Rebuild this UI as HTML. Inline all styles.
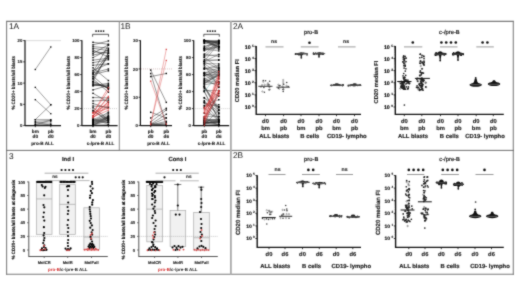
<!DOCTYPE html>
<html><head><meta charset="utf-8"><style>
html,body{margin:0;padding:0;background:#fff;}
svg{display:block;font-family:"Liberation Sans",sans-serif;will-change:transform;text-rendering:geometricPrecision;}
</style></head><body>
<svg width="520" height="292" viewBox="0 0 520 292">
<defs><filter id="bl" x="0" y="0" width="520" height="292" filterUnits="userSpaceOnUse" color-interpolation-filters="sRGB"><feConvolveMatrix order="3" kernelMatrix="0.03 0.09 0.03 0.09 0.52 0.09 0.03 0.09 0.03" divisor="1" edgeMode="duplicate"/></filter></defs>
<rect width="520" height="292" fill="#fff"/>
<g filter="url(#bl)">
<rect width="520" height="292" fill="#fff"/>
<line x1="6" y1="21.4" x2="514" y2="21.4" stroke="#7a7a7a" stroke-width="1.1"/>
<line x1="6" y1="274.2" x2="514" y2="274.2" stroke="#7a7a7a" stroke-width="1.1"/>
<line x1="6.6" y1="21" x2="6.6" y2="274.8" stroke="#808080" stroke-width="1.1"/>
<line x1="513.3" y1="21" x2="513.3" y2="274.8" stroke="#808080" stroke-width="1.1"/>
<line x1="6" y1="150.4" x2="514" y2="150.4" stroke="#707070" stroke-width="1"/>
<line x1="119.3" y1="21" x2="119.3" y2="150.4" stroke="#8a8a8a" stroke-width="1"/>
<line x1="230.9" y1="21" x2="230.9" y2="274.8" stroke="#aaa" stroke-width="1.8"/>
<text x="9" y="28.8" font-size="8.3" text-anchor="start" font-weight="normal" fill="#111">1A</text>
<text x="120.4" y="28.8" font-size="8.3" text-anchor="start" font-weight="normal" fill="#111">1B</text>
<text x="233" y="28.8" font-size="8.3" text-anchor="start" font-weight="normal" fill="#111">2A</text>
<text x="9" y="158.7" font-size="8.3" text-anchor="start" font-weight="normal" fill="#111">3</text>
<text x="233" y="158" font-size="8.3" text-anchor="start" font-weight="normal" fill="#111">2B</text>
<line x1="25.5" y1="40.6" x2="61" y2="40.6" stroke="#999" stroke-width="0.7" stroke-dasharray="1,1"/>
<line x1="25" y1="40.3" x2="25" y2="126.1" stroke="#111" stroke-width="1.2"/>
<line x1="23.2" y1="125.6" x2="25" y2="125.6" stroke="#111" stroke-width="0.8"/>
<text x="22.4" y="127.2" font-size="4.3" text-anchor="end" font-weight="bold" fill="#222" stroke="#222" stroke-width="0.11">0</text>
<line x1="23.2" y1="104.35" x2="25" y2="104.35" stroke="#111" stroke-width="0.8"/>
<text x="22.4" y="105.95" font-size="4.3" text-anchor="end" font-weight="bold" fill="#222" stroke="#222" stroke-width="0.11">5</text>
<line x1="23.2" y1="83.1" x2="25" y2="83.1" stroke="#111" stroke-width="0.8"/>
<text x="22.4" y="84.7" font-size="4.3" text-anchor="end" font-weight="bold" fill="#222" stroke="#222" stroke-width="0.11">10</text>
<line x1="23.2" y1="61.85" x2="25" y2="61.85" stroke="#111" stroke-width="0.8"/>
<text x="22.4" y="63.45" font-size="4.3" text-anchor="end" font-weight="bold" fill="#222" stroke="#222" stroke-width="0.11">15</text>
<line x1="23.2" y1="40.6" x2="25" y2="40.6" stroke="#111" stroke-width="0.8"/>
<text x="22.4" y="42.2" font-size="4.3" text-anchor="end" font-weight="bold" fill="#222" stroke="#222" stroke-width="0.11">20</text>
<line x1="25" y1="125.6" x2="61" y2="125.6" stroke="#111" stroke-width="1.2"/>
<line x1="35.3" y1="125.6" x2="35.3" y2="127.2" stroke="#111" stroke-width="0.8"/>
<line x1="50.8" y1="125.6" x2="50.8" y2="127.2" stroke="#111" stroke-width="0.8"/>
<line x1="35.3" y1="69.5" x2="50.8" y2="46.97" stroke="#444" stroke-width="0.5"/>
<line x1="35.3" y1="87.35" x2="50.8" y2="104.77" stroke="#444" stroke-width="0.5"/>
<line x1="35.3" y1="99.67" x2="50.8" y2="113.7" stroke="#444" stroke-width="0.5"/>
<line x1="35.3" y1="119.65" x2="50.8" y2="104.77" stroke="#444" stroke-width="0.5"/>
<line x1="35.3" y1="119.65" x2="50.8" y2="119.65" stroke="#444" stroke-width="0.5"/>
<line x1="35.3" y1="121.35" x2="50.8" y2="120.5" stroke="#444" stroke-width="0.5"/>
<line x1="35.3" y1="123.05" x2="50.8" y2="121.77" stroke="#444" stroke-width="0.5"/>
<line x1="35.3" y1="124.32" x2="50.8" y2="123.9" stroke="#444" stroke-width="0.5"/>
<line x1="35.3" y1="125.17" x2="50.8" y2="124.75" stroke="#444" stroke-width="0.5"/>
<line x1="35.3" y1="122.2" x2="50.8" y2="125.17" stroke="#444" stroke-width="0.5"/>
<line x1="35.3" y1="124.75" x2="50.8" y2="120.07" stroke="#444" stroke-width="0.5"/>
<rect x="34.65" y="68.85" width="1.3" height="1.3" fill="#000"/>
<rect x="50.15" y="46.32" width="1.3" height="1.3" fill="#000"/>
<rect x="34.65" y="86.7" width="1.3" height="1.3" fill="#000"/>
<rect x="50.15" y="104.12" width="1.3" height="1.3" fill="#000"/>
<rect x="34.65" y="99.02" width="1.3" height="1.3" fill="#000"/>
<rect x="50.15" y="113.05" width="1.3" height="1.3" fill="#000"/>
<rect x="34.65" y="119" width="1.3" height="1.3" fill="#000"/>
<rect x="50.15" y="104.12" width="1.3" height="1.3" fill="#000"/>
<rect x="34.65" y="119" width="1.3" height="1.3" fill="#000"/>
<rect x="50.15" y="119" width="1.3" height="1.3" fill="#000"/>
<rect x="34.65" y="120.7" width="1.3" height="1.3" fill="#000"/>
<rect x="50.15" y="119.85" width="1.3" height="1.3" fill="#000"/>
<rect x="34.65" y="122.4" width="1.3" height="1.3" fill="#000"/>
<rect x="50.15" y="121.12" width="1.3" height="1.3" fill="#000"/>
<rect x="34.65" y="123.67" width="1.3" height="1.3" fill="#000"/>
<rect x="50.15" y="123.25" width="1.3" height="1.3" fill="#000"/>
<rect x="34.65" y="124.52" width="1.3" height="1.3" fill="#000"/>
<rect x="50.15" y="124.1" width="1.3" height="1.3" fill="#000"/>
<rect x="34.65" y="121.55" width="1.3" height="1.3" fill="#000"/>
<rect x="50.15" y="124.52" width="1.3" height="1.3" fill="#000"/>
<rect x="34.65" y="124.1" width="1.3" height="1.3" fill="#000"/>
<rect x="50.15" y="119.42" width="1.3" height="1.3" fill="#000"/>
<text x="35.3" y="133.4" font-size="4.7" text-anchor="middle" font-weight="bold" fill="#1a1a1a" stroke="#1a1a1a" stroke-width="0.12">bm</text>
<text x="35.3" y="138.1" font-size="4.7" text-anchor="middle" font-weight="bold" fill="#1a1a1a" stroke="#1a1a1a" stroke-width="0.12">d0</text>
<text x="50.8" y="133.4" font-size="4.7" text-anchor="middle" font-weight="bold" fill="#1a1a1a" stroke="#1a1a1a" stroke-width="0.12">pb</text>
<text x="50.8" y="138.1" font-size="4.7" text-anchor="middle" font-weight="bold" fill="#1a1a1a" stroke="#1a1a1a" stroke-width="0.12">d0</text>
<text x="42.5" y="144.9" font-size="4.65" text-anchor="middle" font-weight="bold" fill="#1a1a1a" stroke="#1a1a1a" stroke-width="0.12">pro-B ALL</text>
<text x="15.1" y="82.8" font-size="4.8" text-anchor="middle" font-weight="bold" fill="#111" transform="rotate(-90 15.1 82.8)" textLength="53.6" lengthAdjust="spacingAndGlyphs" stroke="#111" stroke-width="0.12">% CD20+ blasts/all blasts</text>
<line x1="82" y1="108.6" x2="118" y2="108.6" stroke="#bbb" stroke-width="0.7" stroke-dasharray="1,1"/>
<line x1="81.9" y1="40.3" x2="81.9" y2="126.1" stroke="#111" stroke-width="1.2"/>
<line x1="80.1" y1="125.6" x2="81.9" y2="125.6" stroke="#111" stroke-width="0.8"/>
<text x="79.3" y="127.2" font-size="4.3" text-anchor="end" font-weight="bold" fill="#222" stroke="#222" stroke-width="0.11">0</text>
<line x1="80.1" y1="108.6" x2="81.9" y2="108.6" stroke="#111" stroke-width="0.8"/>
<text x="79.3" y="110.2" font-size="4.3" text-anchor="end" font-weight="bold" fill="#222" stroke="#222" stroke-width="0.11">20</text>
<line x1="80.1" y1="91.6" x2="81.9" y2="91.6" stroke="#111" stroke-width="0.8"/>
<text x="79.3" y="93.2" font-size="4.3" text-anchor="end" font-weight="bold" fill="#222" stroke="#222" stroke-width="0.11">40</text>
<line x1="80.1" y1="74.6" x2="81.9" y2="74.6" stroke="#111" stroke-width="0.8"/>
<text x="79.3" y="76.2" font-size="4.3" text-anchor="end" font-weight="bold" fill="#222" stroke="#222" stroke-width="0.11">60</text>
<line x1="80.1" y1="57.6" x2="81.9" y2="57.6" stroke="#111" stroke-width="0.8"/>
<text x="79.3" y="59.2" font-size="4.3" text-anchor="end" font-weight="bold" fill="#222" stroke="#222" stroke-width="0.11">80</text>
<line x1="80.1" y1="40.6" x2="81.9" y2="40.6" stroke="#111" stroke-width="0.8"/>
<text x="79.3" y="42.2" font-size="4.3" text-anchor="end" font-weight="bold" fill="#222" stroke="#222" stroke-width="0.11">100</text>
<line x1="81.8" y1="125.6" x2="117.6" y2="125.6" stroke="#111" stroke-width="1.2"/>
<line x1="93" y1="125.6" x2="93" y2="127.2" stroke="#111" stroke-width="0.8"/>
<line x1="108.4" y1="125.6" x2="108.4" y2="127.2" stroke="#111" stroke-width="0.8"/>
<line x1="93" y1="121.14" x2="108.4" y2="120.69" stroke="#555" stroke-width="0.45"/>
<line x1="93" y1="124.09" x2="108.4" y2="118.44" stroke="#555" stroke-width="0.45"/>
<line x1="93" y1="123.07" x2="108.4" y2="122.4" stroke="#555" stroke-width="0.45"/>
<line x1="93" y1="120.06" x2="108.4" y2="116.75" stroke="#555" stroke-width="0.45"/>
<line x1="93" y1="124.54" x2="108.4" y2="118.61" stroke="#555" stroke-width="0.45"/>
<line x1="93" y1="122.49" x2="108.4" y2="114.01" stroke="#555" stroke-width="0.45"/>
<line x1="93" y1="120.68" x2="108.4" y2="122.55" stroke="#555" stroke-width="0.45"/>
<line x1="93" y1="118.16" x2="108.4" y2="124.55" stroke="#555" stroke-width="0.45"/>
<line x1="93" y1="123.34" x2="108.4" y2="115.86" stroke="#555" stroke-width="0.45"/>
<line x1="93" y1="125.05" x2="108.4" y2="119.84" stroke="#555" stroke-width="0.45"/>
<line x1="93" y1="125.52" x2="108.4" y2="117.22" stroke="#555" stroke-width="0.45"/>
<line x1="93" y1="120.35" x2="108.4" y2="118.63" stroke="#555" stroke-width="0.45"/>
<line x1="93" y1="119.25" x2="108.4" y2="122.22" stroke="#555" stroke-width="0.45"/>
<line x1="93" y1="121" x2="108.4" y2="118.32" stroke="#555" stroke-width="0.45"/>
<line x1="93" y1="122.03" x2="108.4" y2="120.3" stroke="#555" stroke-width="0.45"/>
<line x1="93" y1="119.61" x2="108.4" y2="112.9" stroke="#555" stroke-width="0.45"/>
<line x1="93" y1="122.91" x2="108.4" y2="117.28" stroke="#555" stroke-width="0.45"/>
<line x1="93" y1="125.45" x2="108.4" y2="116.71" stroke="#555" stroke-width="0.45"/>
<line x1="93" y1="121.44" x2="108.4" y2="112.11" stroke="#555" stroke-width="0.45"/>
<line x1="93" y1="119.79" x2="108.4" y2="122.59" stroke="#555" stroke-width="0.45"/>
<line x1="93" y1="123.58" x2="108.4" y2="117.21" stroke="#555" stroke-width="0.45"/>
<line x1="93" y1="125.56" x2="108.4" y2="120.22" stroke="#555" stroke-width="0.45"/>
<line x1="93" y1="124.97" x2="108.4" y2="124.56" stroke="#555" stroke-width="0.45"/>
<line x1="93" y1="125.45" x2="108.4" y2="115.69" stroke="#555" stroke-width="0.45"/>
<rect x="92.3" y="120.44" width="1.4" height="1.4" fill="#000"/>
<rect x="107.7" y="119.99" width="1.4" height="1.4" fill="#000"/>
<rect x="92.3" y="123.39" width="1.4" height="1.4" fill="#000"/>
<rect x="107.7" y="117.74" width="1.4" height="1.4" fill="#000"/>
<rect x="92.3" y="122.37" width="1.4" height="1.4" fill="#000"/>
<rect x="107.7" y="121.7" width="1.4" height="1.4" fill="#000"/>
<rect x="92.3" y="119.36" width="1.4" height="1.4" fill="#000"/>
<rect x="107.7" y="116.05" width="1.4" height="1.4" fill="#000"/>
<rect x="92.3" y="123.84" width="1.4" height="1.4" fill="#000"/>
<rect x="107.7" y="117.91" width="1.4" height="1.4" fill="#000"/>
<rect x="92.3" y="121.79" width="1.4" height="1.4" fill="#000"/>
<rect x="107.7" y="113.31" width="1.4" height="1.4" fill="#000"/>
<rect x="92.3" y="119.98" width="1.4" height="1.4" fill="#000"/>
<rect x="107.7" y="121.85" width="1.4" height="1.4" fill="#000"/>
<rect x="92.3" y="117.46" width="1.4" height="1.4" fill="#000"/>
<rect x="107.7" y="123.85" width="1.4" height="1.4" fill="#000"/>
<rect x="92.3" y="122.64" width="1.4" height="1.4" fill="#000"/>
<rect x="107.7" y="115.16" width="1.4" height="1.4" fill="#000"/>
<rect x="92.3" y="124.35" width="1.4" height="1.4" fill="#000"/>
<rect x="107.7" y="119.14" width="1.4" height="1.4" fill="#000"/>
<rect x="92.3" y="124.82" width="1.4" height="1.4" fill="#000"/>
<rect x="107.7" y="116.52" width="1.4" height="1.4" fill="#000"/>
<rect x="92.3" y="119.65" width="1.4" height="1.4" fill="#000"/>
<rect x="107.7" y="117.93" width="1.4" height="1.4" fill="#000"/>
<rect x="92.3" y="118.55" width="1.4" height="1.4" fill="#000"/>
<rect x="107.7" y="121.52" width="1.4" height="1.4" fill="#000"/>
<rect x="92.3" y="120.3" width="1.4" height="1.4" fill="#000"/>
<rect x="107.7" y="117.62" width="1.4" height="1.4" fill="#000"/>
<rect x="92.3" y="121.33" width="1.4" height="1.4" fill="#000"/>
<rect x="107.7" y="119.6" width="1.4" height="1.4" fill="#000"/>
<rect x="92.3" y="118.91" width="1.4" height="1.4" fill="#000"/>
<rect x="107.7" y="112.2" width="1.4" height="1.4" fill="#000"/>
<rect x="92.3" y="122.21" width="1.4" height="1.4" fill="#000"/>
<rect x="107.7" y="116.58" width="1.4" height="1.4" fill="#000"/>
<rect x="92.3" y="124.75" width="1.4" height="1.4" fill="#000"/>
<rect x="107.7" y="116.01" width="1.4" height="1.4" fill="#000"/>
<rect x="92.3" y="120.74" width="1.4" height="1.4" fill="#000"/>
<rect x="107.7" y="111.41" width="1.4" height="1.4" fill="#000"/>
<rect x="92.3" y="119.09" width="1.4" height="1.4" fill="#000"/>
<rect x="107.7" y="121.89" width="1.4" height="1.4" fill="#000"/>
<rect x="92.3" y="122.88" width="1.4" height="1.4" fill="#000"/>
<rect x="107.7" y="116.51" width="1.4" height="1.4" fill="#000"/>
<rect x="92.3" y="124.86" width="1.4" height="1.4" fill="#000"/>
<rect x="107.7" y="119.52" width="1.4" height="1.4" fill="#000"/>
<rect x="92.3" y="124.27" width="1.4" height="1.4" fill="#000"/>
<rect x="107.7" y="123.86" width="1.4" height="1.4" fill="#000"/>
<rect x="92.3" y="124.75" width="1.4" height="1.4" fill="#000"/>
<rect x="107.7" y="114.99" width="1.4" height="1.4" fill="#000"/>
<line x1="93" y1="42.3" x2="108.4" y2="44.26" stroke="#222" stroke-width="0.5"/>
<line x1="93" y1="44.85" x2="108.4" y2="40.94" stroke="#222" stroke-width="0.5"/>
<line x1="93" y1="46.55" x2="108.4" y2="48.28" stroke="#222" stroke-width="0.5"/>
<line x1="93" y1="48.25" x2="108.4" y2="50.66" stroke="#222" stroke-width="0.5"/>
<line x1="93" y1="49.95" x2="108.4" y2="57.06" stroke="#222" stroke-width="0.5"/>
<line x1="93" y1="51.65" x2="108.4" y2="53.28" stroke="#222" stroke-width="0.5"/>
<line x1="93" y1="53.35" x2="108.4" y2="44.84" stroke="#222" stroke-width="0.5"/>
<line x1="93" y1="55.05" x2="108.4" y2="51.81" stroke="#222" stroke-width="0.5"/>
<line x1="93" y1="57.6" x2="108.4" y2="49.67" stroke="#222" stroke-width="0.5"/>
<line x1="93" y1="60.15" x2="108.4" y2="58.25" stroke="#222" stroke-width="0.5"/>
<line x1="93" y1="62.7" x2="108.4" y2="59.68" stroke="#222" stroke-width="0.5"/>
<line x1="93" y1="65.25" x2="108.4" y2="63.83" stroke="#222" stroke-width="0.5"/>
<line x1="93" y1="67.8" x2="108.4" y2="80.55" stroke="#222" stroke-width="0.5"/>
<line x1="93" y1="70.35" x2="108.4" y2="63.81" stroke="#222" stroke-width="0.5"/>
<line x1="93" y1="72.9" x2="108.4" y2="69.03" stroke="#222" stroke-width="0.5"/>
<line x1="93" y1="74.6" x2="108.4" y2="70.78" stroke="#222" stroke-width="0.5"/>
<line x1="93" y1="76.3" x2="108.4" y2="89.24" stroke="#222" stroke-width="0.5"/>
<line x1="93" y1="78.85" x2="108.4" y2="92.19" stroke="#222" stroke-width="0.5"/>
<line x1="93" y1="81.4" x2="108.4" y2="88.21" stroke="#222" stroke-width="0.5"/>
<line x1="93" y1="83.95" x2="108.4" y2="87.53" stroke="#222" stroke-width="0.5"/>
<line x1="93" y1="85.65" x2="108.4" y2="83.31" stroke="#222" stroke-width="0.5"/>
<line x1="93" y1="72.05" x2="108.4" y2="45.2" stroke="#222" stroke-width="0.5"/>
<line x1="93" y1="73.75" x2="108.4" y2="53.42" stroke="#222" stroke-width="0.5"/>
<line x1="93" y1="77.15" x2="108.4" y2="55.52" stroke="#222" stroke-width="0.5"/>
<line x1="93" y1="78.85" x2="108.4" y2="55.9" stroke="#222" stroke-width="0.5"/>
<line x1="93" y1="81.4" x2="108.4" y2="53.14" stroke="#222" stroke-width="0.5"/>
<line x1="93" y1="89.9" x2="108.4" y2="85.31" stroke="#222" stroke-width="0.5"/>
<line x1="93" y1="93.3" x2="108.4" y2="102.21" stroke="#222" stroke-width="0.5"/>
<line x1="93" y1="97.55" x2="108.4" y2="97.94" stroke="#222" stroke-width="0.5"/>
<line x1="93" y1="100.95" x2="108.4" y2="100.12" stroke="#222" stroke-width="0.5"/>
<line x1="93" y1="103.5" x2="108.4" y2="108.34" stroke="#222" stroke-width="0.5"/>
<line x1="93" y1="106.05" x2="108.4" y2="107.16" stroke="#222" stroke-width="0.5"/>
<line x1="93" y1="107.75" x2="108.4" y2="119.17" stroke="#222" stroke-width="0.5"/>
<line x1="93" y1="110.3" x2="108.4" y2="121.78" stroke="#222" stroke-width="0.5"/>
<line x1="93" y1="111.15" x2="108.4" y2="119.52" stroke="#222" stroke-width="0.5"/>
<line x1="93" y1="85.7" x2="108.4" y2="84.8" stroke="#222" stroke-width="0.5"/>
<line x1="93" y1="84.19" x2="108.4" y2="86.5" stroke="#222" stroke-width="0.5"/>
<line x1="93" y1="82.37" x2="108.4" y2="88.2" stroke="#222" stroke-width="0.5"/>
<rect x="92.28" y="41.57" width="1.45" height="1.45" fill="#000"/>
<rect x="107.68" y="43.53" width="1.45" height="1.45" fill="#000"/>
<rect x="92.28" y="44.12" width="1.45" height="1.45" fill="#000"/>
<rect x="107.68" y="40.21" width="1.45" height="1.45" fill="#000"/>
<rect x="92.28" y="45.82" width="1.45" height="1.45" fill="#000"/>
<rect x="107.68" y="47.55" width="1.45" height="1.45" fill="#000"/>
<rect x="92.28" y="47.52" width="1.45" height="1.45" fill="#000"/>
<rect x="107.68" y="49.94" width="1.45" height="1.45" fill="#000"/>
<rect x="92.28" y="49.22" width="1.45" height="1.45" fill="#000"/>
<rect x="107.68" y="56.34" width="1.45" height="1.45" fill="#000"/>
<rect x="92.28" y="50.92" width="1.45" height="1.45" fill="#000"/>
<rect x="107.68" y="52.56" width="1.45" height="1.45" fill="#000"/>
<rect x="92.28" y="52.62" width="1.45" height="1.45" fill="#000"/>
<rect x="107.68" y="44.12" width="1.45" height="1.45" fill="#000"/>
<rect x="92.28" y="54.32" width="1.45" height="1.45" fill="#000"/>
<rect x="107.68" y="51.08" width="1.45" height="1.45" fill="#000"/>
<rect x="92.28" y="56.87" width="1.45" height="1.45" fill="#000"/>
<rect x="107.68" y="48.94" width="1.45" height="1.45" fill="#000"/>
<rect x="92.28" y="59.42" width="1.45" height="1.45" fill="#000"/>
<rect x="107.68" y="57.52" width="1.45" height="1.45" fill="#000"/>
<rect x="92.28" y="61.97" width="1.45" height="1.45" fill="#000"/>
<rect x="107.68" y="58.96" width="1.45" height="1.45" fill="#000"/>
<rect x="92.28" y="64.53" width="1.45" height="1.45" fill="#000"/>
<rect x="107.68" y="63.11" width="1.45" height="1.45" fill="#000"/>
<rect x="92.28" y="67.08" width="1.45" height="1.45" fill="#000"/>
<rect x="107.68" y="79.82" width="1.45" height="1.45" fill="#000"/>
<rect x="92.28" y="69.62" width="1.45" height="1.45" fill="#000"/>
<rect x="107.68" y="63.08" width="1.45" height="1.45" fill="#000"/>
<rect x="92.28" y="72.17" width="1.45" height="1.45" fill="#000"/>
<rect x="107.68" y="68.3" width="1.45" height="1.45" fill="#000"/>
<rect x="92.28" y="73.88" width="1.45" height="1.45" fill="#000"/>
<rect x="107.68" y="70.06" width="1.45" height="1.45" fill="#000"/>
<rect x="92.28" y="75.58" width="1.45" height="1.45" fill="#000"/>
<rect x="107.68" y="88.51" width="1.45" height="1.45" fill="#000"/>
<rect x="92.28" y="78.12" width="1.45" height="1.45" fill="#000"/>
<rect x="107.68" y="91.47" width="1.45" height="1.45" fill="#000"/>
<rect x="92.28" y="80.67" width="1.45" height="1.45" fill="#000"/>
<rect x="107.68" y="87.48" width="1.45" height="1.45" fill="#000"/>
<rect x="92.28" y="83.22" width="1.45" height="1.45" fill="#000"/>
<rect x="107.68" y="86.81" width="1.45" height="1.45" fill="#000"/>
<rect x="92.28" y="84.92" width="1.45" height="1.45" fill="#000"/>
<rect x="107.68" y="82.59" width="1.45" height="1.45" fill="#000"/>
<rect x="92.28" y="71.33" width="1.45" height="1.45" fill="#000"/>
<rect x="107.68" y="44.47" width="1.45" height="1.45" fill="#000"/>
<rect x="92.28" y="73.03" width="1.45" height="1.45" fill="#000"/>
<rect x="107.68" y="52.69" width="1.45" height="1.45" fill="#000"/>
<rect x="92.28" y="76.42" width="1.45" height="1.45" fill="#000"/>
<rect x="107.68" y="54.79" width="1.45" height="1.45" fill="#000"/>
<rect x="92.28" y="78.12" width="1.45" height="1.45" fill="#000"/>
<rect x="107.68" y="55.17" width="1.45" height="1.45" fill="#000"/>
<rect x="92.28" y="80.67" width="1.45" height="1.45" fill="#000"/>
<rect x="107.68" y="52.42" width="1.45" height="1.45" fill="#000"/>
<rect x="92.28" y="89.17" width="1.45" height="1.45" fill="#000"/>
<rect x="107.68" y="84.58" width="1.45" height="1.45" fill="#000"/>
<rect x="92.28" y="92.58" width="1.45" height="1.45" fill="#000"/>
<rect x="107.68" y="101.48" width="1.45" height="1.45" fill="#000"/>
<rect x="92.28" y="96.83" width="1.45" height="1.45" fill="#000"/>
<rect x="107.68" y="97.22" width="1.45" height="1.45" fill="#000"/>
<rect x="92.28" y="100.22" width="1.45" height="1.45" fill="#000"/>
<rect x="107.68" y="99.4" width="1.45" height="1.45" fill="#000"/>
<rect x="92.28" y="102.78" width="1.45" height="1.45" fill="#000"/>
<rect x="107.68" y="107.61" width="1.45" height="1.45" fill="#000"/>
<rect x="92.28" y="105.33" width="1.45" height="1.45" fill="#000"/>
<rect x="107.68" y="106.44" width="1.45" height="1.45" fill="#000"/>
<rect x="92.28" y="107.03" width="1.45" height="1.45" fill="#000"/>
<rect x="107.68" y="118.44" width="1.45" height="1.45" fill="#000"/>
<rect x="92.28" y="109.58" width="1.45" height="1.45" fill="#000"/>
<rect x="107.68" y="121.06" width="1.45" height="1.45" fill="#000"/>
<rect x="92.28" y="110.42" width="1.45" height="1.45" fill="#000"/>
<rect x="107.68" y="118.8" width="1.45" height="1.45" fill="#000"/>
<rect x="92.28" y="84.98" width="1.45" height="1.45" fill="#000"/>
<rect x="107.68" y="84.08" width="1.45" height="1.45" fill="#000"/>
<rect x="92.28" y="83.47" width="1.45" height="1.45" fill="#000"/>
<rect x="107.68" y="85.78" width="1.45" height="1.45" fill="#000"/>
<rect x="92.28" y="81.64" width="1.45" height="1.45" fill="#000"/>
<rect x="107.68" y="87.47" width="1.45" height="1.45" fill="#000"/>
<line x1="93" y1="112.87" x2="108.4" y2="108.38" stroke="#d83030" stroke-width="0.45"/>
<line x1="93" y1="115.75" x2="108.4" y2="97.22" stroke="#d83030" stroke-width="0.45"/>
<line x1="93" y1="112.79" x2="108.4" y2="90.8" stroke="#d83030" stroke-width="0.45"/>
<line x1="93" y1="112.92" x2="108.4" y2="103.67" stroke="#d83030" stroke-width="0.45"/>
<line x1="93" y1="115.98" x2="108.4" y2="101.76" stroke="#d83030" stroke-width="0.45"/>
<line x1="93" y1="112.79" x2="108.4" y2="87.51" stroke="#d83030" stroke-width="0.45"/>
<line x1="93" y1="117.77" x2="108.4" y2="106.11" stroke="#d83030" stroke-width="0.45"/>
<line x1="93" y1="117.22" x2="108.4" y2="104.75" stroke="#d83030" stroke-width="0.45"/>
<line x1="93" y1="115.5" x2="108.4" y2="96.28" stroke="#d83030" stroke-width="0.45"/>
<line x1="93" y1="117.01" x2="108.4" y2="110.2" stroke="#d83030" stroke-width="0.45"/>
<line x1="93" y1="115.95" x2="108.4" y2="101.51" stroke="#d83030" stroke-width="0.45"/>
<rect x="92.4" y="112.27" width="1.2" height="1.2" fill="#c83030"/>
<rect x="107.8" y="107.78" width="1.2" height="1.2" fill="#d04040"/>
<rect x="92.4" y="115.15" width="1.2" height="1.2" fill="#c83030"/>
<rect x="107.8" y="96.62" width="1.2" height="1.2" fill="#d04040"/>
<rect x="92.4" y="112.19" width="1.2" height="1.2" fill="#c83030"/>
<rect x="107.8" y="90.2" width="1.2" height="1.2" fill="#d04040"/>
<rect x="92.4" y="112.32" width="1.2" height="1.2" fill="#c83030"/>
<rect x="107.8" y="103.07" width="1.2" height="1.2" fill="#d04040"/>
<rect x="92.4" y="115.38" width="1.2" height="1.2" fill="#c83030"/>
<rect x="107.8" y="101.16" width="1.2" height="1.2" fill="#d04040"/>
<rect x="92.4" y="112.19" width="1.2" height="1.2" fill="#c83030"/>
<rect x="107.8" y="86.91" width="1.2" height="1.2" fill="#d04040"/>
<rect x="92.4" y="117.17" width="1.2" height="1.2" fill="#c83030"/>
<rect x="107.8" y="105.51" width="1.2" height="1.2" fill="#d04040"/>
<rect x="92.4" y="116.62" width="1.2" height="1.2" fill="#c83030"/>
<rect x="107.8" y="104.15" width="1.2" height="1.2" fill="#d04040"/>
<rect x="92.4" y="114.9" width="1.2" height="1.2" fill="#c83030"/>
<rect x="107.8" y="95.68" width="1.2" height="1.2" fill="#d04040"/>
<rect x="92.4" y="116.41" width="1.2" height="1.2" fill="#c83030"/>
<rect x="107.8" y="109.6" width="1.2" height="1.2" fill="#d04040"/>
<rect x="92.4" y="115.35" width="1.2" height="1.2" fill="#c83030"/>
<rect x="107.8" y="100.91" width="1.2" height="1.2" fill="#d04040"/>
<path d="M92.6 36.7 V34.3 H108.5 V36.7" stroke="#222" stroke-width="0.75" fill="none"/>
<circle cx="96.05" cy="31.1" r="0.9" fill="#111"/>
<circle cx="98.55" cy="31.1" r="0.9" fill="#111"/>
<circle cx="101.05" cy="31.1" r="0.9" fill="#111"/>
<circle cx="103.55" cy="31.1" r="0.9" fill="#111"/>
<text x="93" y="133.4" font-size="4.7" text-anchor="middle" font-weight="bold" fill="#1a1a1a" stroke="#1a1a1a" stroke-width="0.12">bm</text>
<text x="93" y="138.1" font-size="4.7" text-anchor="middle" font-weight="bold" fill="#1a1a1a" stroke="#1a1a1a" stroke-width="0.12">d0</text>
<text x="108.4" y="133.4" font-size="4.7" text-anchor="middle" font-weight="bold" fill="#1a1a1a" stroke="#1a1a1a" stroke-width="0.12">pb</text>
<text x="108.4" y="138.1" font-size="4.7" text-anchor="middle" font-weight="bold" fill="#1a1a1a" stroke="#1a1a1a" stroke-width="0.12">d0</text>
<text x="100.5" y="144.9" font-size="4.65" text-anchor="middle" font-weight="bold" fill="#1a1a1a" stroke="#1a1a1a" stroke-width="0.12">c-/pre-B ALL</text>
<text x="69.9" y="82.8" font-size="4.8" text-anchor="middle" font-weight="bold" fill="#111" transform="rotate(-90 69.9 82.8)" textLength="53.6" lengthAdjust="spacingAndGlyphs" stroke="#111" stroke-width="0.12">% CD20+ blasts/all blasts</text>
<line x1="141" y1="68.93" x2="172" y2="68.93" stroke="#c9a9a9" stroke-width="0.7" stroke-dasharray="1,1"/>
<line x1="140.4" y1="40.3" x2="140.4" y2="126.1" stroke="#111" stroke-width="1.2"/>
<line x1="138.6" y1="125.6" x2="140.4" y2="125.6" stroke="#111" stroke-width="0.8"/>
<text x="137.8" y="127.2" font-size="4.3" text-anchor="end" font-weight="bold" fill="#222" stroke="#222" stroke-width="0.11">0</text>
<line x1="138.6" y1="97.27" x2="140.4" y2="97.27" stroke="#111" stroke-width="0.8"/>
<text x="137.8" y="98.87" font-size="4.3" text-anchor="end" font-weight="bold" fill="#222" stroke="#222" stroke-width="0.11">10</text>
<line x1="138.6" y1="68.93" x2="140.4" y2="68.93" stroke="#111" stroke-width="0.8"/>
<text x="137.8" y="70.53" font-size="4.3" text-anchor="end" font-weight="bold" fill="#222" stroke="#222" stroke-width="0.11">20</text>
<line x1="138.6" y1="40.6" x2="140.4" y2="40.6" stroke="#111" stroke-width="0.8"/>
<text x="137.8" y="42.2" font-size="4.3" text-anchor="end" font-weight="bold" fill="#222" stroke="#222" stroke-width="0.11">30</text>
<line x1="140.4" y1="125.6" x2="172" y2="125.6" stroke="#111" stroke-width="1.2"/>
<line x1="150.7" y1="125.6" x2="150.7" y2="127.2" stroke="#111" stroke-width="0.8"/>
<line x1="166.3" y1="125.6" x2="166.3" y2="127.2" stroke="#111" stroke-width="0.8"/>
<line x1="150.7" y1="70.07" x2="166.3" y2="102.37" stroke="#333" stroke-width="0.5"/>
<line x1="150.7" y1="73.47" x2="166.3" y2="124.75" stroke="#333" stroke-width="0.5"/>
<line x1="150.7" y1="76.58" x2="166.3" y2="73.47" stroke="#333" stroke-width="0.5"/>
<line x1="150.7" y1="112.28" x2="166.3" y2="117.95" stroke="#333" stroke-width="0.5"/>
<line x1="150.7" y1="117.95" x2="166.3" y2="108.32" stroke="#333" stroke-width="0.5"/>
<line x1="150.7" y1="121.92" x2="166.3" y2="110.02" stroke="#333" stroke-width="0.5"/>
<line x1="150.7" y1="124.18" x2="166.3" y2="114.27" stroke="#333" stroke-width="0.5"/>
<line x1="150.7" y1="124.75" x2="166.3" y2="117.95" stroke="#333" stroke-width="0.5"/>
<line x1="150.7" y1="125.03" x2="166.3" y2="121.35" stroke="#333" stroke-width="0.5"/>
<line x1="150.7" y1="125.32" x2="166.3" y2="122.77" stroke="#333" stroke-width="0.5"/>
<line x1="150.7" y1="124.75" x2="166.3" y2="124.18" stroke="#333" stroke-width="0.5"/>
<line x1="150.7" y1="125.46" x2="166.3" y2="125.03" stroke="#333" stroke-width="0.5"/>
<line x1="150.7" y1="123.33" x2="166.3" y2="125.32" stroke="#333" stroke-width="0.5"/>
<rect x="150" y="69.37" width="1.4" height="1.4" fill="#000"/>
<rect x="165.6" y="101.67" width="1.4" height="1.4" fill="#000"/>
<rect x="150" y="72.77" width="1.4" height="1.4" fill="#000"/>
<rect x="165.6" y="124.05" width="1.4" height="1.4" fill="#000"/>
<rect x="150" y="75.88" width="1.4" height="1.4" fill="#000"/>
<rect x="165.6" y="72.77" width="1.4" height="1.4" fill="#000"/>
<rect x="150" y="111.58" width="1.4" height="1.4" fill="#000"/>
<rect x="165.6" y="117.25" width="1.4" height="1.4" fill="#000"/>
<rect x="150" y="117.25" width="1.4" height="1.4" fill="#000"/>
<rect x="165.6" y="107.62" width="1.4" height="1.4" fill="#000"/>
<rect x="150" y="121.22" width="1.4" height="1.4" fill="#000"/>
<rect x="165.6" y="109.32" width="1.4" height="1.4" fill="#000"/>
<rect x="150" y="123.48" width="1.4" height="1.4" fill="#000"/>
<rect x="165.6" y="113.57" width="1.4" height="1.4" fill="#000"/>
<rect x="150" y="124.05" width="1.4" height="1.4" fill="#000"/>
<rect x="165.6" y="117.25" width="1.4" height="1.4" fill="#000"/>
<rect x="150" y="124.33" width="1.4" height="1.4" fill="#000"/>
<rect x="165.6" y="120.65" width="1.4" height="1.4" fill="#000"/>
<rect x="150" y="124.62" width="1.4" height="1.4" fill="#000"/>
<rect x="165.6" y="122.07" width="1.4" height="1.4" fill="#000"/>
<rect x="150" y="124.05" width="1.4" height="1.4" fill="#000"/>
<rect x="165.6" y="123.48" width="1.4" height="1.4" fill="#000"/>
<rect x="150" y="124.76" width="1.4" height="1.4" fill="#000"/>
<rect x="165.6" y="124.33" width="1.4" height="1.4" fill="#000"/>
<rect x="150" y="122.63" width="1.4" height="1.4" fill="#000"/>
<rect x="165.6" y="124.62" width="1.4" height="1.4" fill="#000"/>
<line x1="150.7" y1="124.75" x2="166.3" y2="49.38" stroke="#dc5050" stroke-width="0.45"/>
<line x1="150.7" y1="123.9" x2="166.3" y2="60.43" stroke="#dc5050" stroke-width="0.45"/>
<line x1="150.7" y1="81.12" x2="166.3" y2="124.18" stroke="#dc5050" stroke-width="0.45"/>
<rect x="150.05" y="124.1" width="1.3" height="1.3" fill="#d84848"/>
<rect x="165.65" y="48.73" width="1.3" height="1.3" fill="#d84848"/>
<rect x="150.05" y="123.25" width="1.3" height="1.3" fill="#d84848"/>
<rect x="165.65" y="59.78" width="1.3" height="1.3" fill="#d84848"/>
<rect x="150.05" y="80.47" width="1.3" height="1.3" fill="#d84848"/>
<rect x="165.65" y="123.53" width="1.3" height="1.3" fill="#d84848"/>
<text x="150.7" y="133.4" font-size="4.7" text-anchor="middle" font-weight="bold" fill="#1a1a1a" stroke="#1a1a1a" stroke-width="0.12">pb</text>
<text x="150.7" y="138.1" font-size="4.7" text-anchor="middle" font-weight="bold" fill="#1a1a1a" stroke="#1a1a1a" stroke-width="0.12">d0</text>
<text x="166.3" y="133.4" font-size="4.7" text-anchor="middle" font-weight="bold" fill="#1a1a1a" stroke="#1a1a1a" stroke-width="0.12">pb</text>
<text x="166.3" y="138.1" font-size="4.7" text-anchor="middle" font-weight="bold" fill="#1a1a1a" stroke="#1a1a1a" stroke-width="0.12">d6</text>
<text x="158.5" y="144.9" font-size="4.65" text-anchor="middle" font-weight="bold" fill="#1a1a1a" stroke="#1a1a1a" stroke-width="0.12">pro-B ALL</text>
<text x="128.4" y="82.8" font-size="4.8" text-anchor="middle" font-weight="bold" fill="#111" transform="rotate(-90 128.4 82.8)" textLength="53.6" lengthAdjust="spacingAndGlyphs" stroke="#111" stroke-width="0.12">% CD20+ blasts/all blasts</text>
<line x1="195.3" y1="108.6" x2="230.5" y2="108.6" stroke="#bbb" stroke-width="0.7" stroke-dasharray="1,1"/>
<line x1="193.7" y1="40.3" x2="193.7" y2="126.1" stroke="#111" stroke-width="1.2"/>
<line x1="191.9" y1="125.6" x2="193.7" y2="125.6" stroke="#111" stroke-width="0.8"/>
<text x="190.8" y="127.2" font-size="4.3" text-anchor="end" font-weight="bold" fill="#222" stroke="#222" stroke-width="0.11">0</text>
<line x1="191.9" y1="108.6" x2="193.7" y2="108.6" stroke="#111" stroke-width="0.8"/>
<text x="190.8" y="110.2" font-size="4.3" text-anchor="end" font-weight="bold" fill="#222" stroke="#222" stroke-width="0.11">20</text>
<line x1="191.9" y1="91.6" x2="193.7" y2="91.6" stroke="#111" stroke-width="0.8"/>
<text x="190.8" y="93.2" font-size="4.3" text-anchor="end" font-weight="bold" fill="#222" stroke="#222" stroke-width="0.11">40</text>
<line x1="191.9" y1="74.6" x2="193.7" y2="74.6" stroke="#111" stroke-width="0.8"/>
<text x="190.8" y="76.2" font-size="4.3" text-anchor="end" font-weight="bold" fill="#222" stroke="#222" stroke-width="0.11">60</text>
<line x1="191.9" y1="57.6" x2="193.7" y2="57.6" stroke="#111" stroke-width="0.8"/>
<text x="190.8" y="59.2" font-size="4.3" text-anchor="end" font-weight="bold" fill="#222" stroke="#222" stroke-width="0.11">80</text>
<line x1="191.9" y1="40.6" x2="193.7" y2="40.6" stroke="#111" stroke-width="0.8"/>
<text x="190.8" y="42.2" font-size="4.3" text-anchor="end" font-weight="bold" fill="#222" stroke="#222" stroke-width="0.11">100</text>
<line x1="193.7" y1="125.6" x2="229.2" y2="125.6" stroke="#111" stroke-width="1.2"/>
<line x1="204.3" y1="125.6" x2="204.3" y2="127.2" stroke="#111" stroke-width="0.8"/>
<line x1="218.8" y1="125.6" x2="218.8" y2="127.2" stroke="#111" stroke-width="0.8"/>
<line x1="204.3" y1="59.77" x2="218.8" y2="60.2" stroke="#333" stroke-width="0.42"/>
<line x1="204.3" y1="42.67" x2="218.8" y2="46.78" stroke="#333" stroke-width="0.42"/>
<line x1="204.3" y1="57.5" x2="218.8" y2="67.98" stroke="#333" stroke-width="0.42"/>
<line x1="204.3" y1="54.91" x2="218.8" y2="40.6" stroke="#333" stroke-width="0.42"/>
<line x1="204.3" y1="50.33" x2="218.8" y2="43.66" stroke="#333" stroke-width="0.42"/>
<line x1="204.3" y1="46.15" x2="218.8" y2="43.38" stroke="#333" stroke-width="0.42"/>
<line x1="204.3" y1="67.17" x2="218.8" y2="76.08" stroke="#333" stroke-width="0.42"/>
<line x1="204.3" y1="80.22" x2="218.8" y2="82.45" stroke="#333" stroke-width="0.42"/>
<line x1="204.3" y1="81.82" x2="218.8" y2="84.33" stroke="#333" stroke-width="0.42"/>
<line x1="204.3" y1="75.57" x2="218.8" y2="71.11" stroke="#333" stroke-width="0.42"/>
<line x1="204.3" y1="82.48" x2="218.8" y2="75.21" stroke="#333" stroke-width="0.42"/>
<line x1="204.3" y1="84.79" x2="218.8" y2="82.28" stroke="#333" stroke-width="0.42"/>
<line x1="204.3" y1="68.73" x2="218.8" y2="65.21" stroke="#333" stroke-width="0.42"/>
<line x1="204.3" y1="83.67" x2="218.8" y2="74.59" stroke="#333" stroke-width="0.42"/>
<line x1="204.3" y1="78.23" x2="218.8" y2="87.4" stroke="#333" stroke-width="0.42"/>
<line x1="204.3" y1="73.65" x2="218.8" y2="78.76" stroke="#333" stroke-width="0.42"/>
<line x1="204.3" y1="79.37" x2="218.8" y2="72.09" stroke="#333" stroke-width="0.42"/>
<line x1="204.3" y1="47.28" x2="218.8" y2="40.6" stroke="#333" stroke-width="0.42"/>
<line x1="204.3" y1="63.41" x2="218.8" y2="63.87" stroke="#333" stroke-width="0.42"/>
<line x1="204.3" y1="81" x2="218.8" y2="74.14" stroke="#333" stroke-width="0.42"/>
<line x1="204.3" y1="73.1" x2="218.8" y2="67.97" stroke="#333" stroke-width="0.42"/>
<line x1="204.3" y1="48.16" x2="218.8" y2="47.1" stroke="#333" stroke-width="0.42"/>
<line x1="204.3" y1="42.77" x2="218.8" y2="41.05" stroke="#333" stroke-width="0.42"/>
<line x1="204.3" y1="61.45" x2="218.8" y2="54.37" stroke="#333" stroke-width="0.42"/>
<line x1="204.3" y1="83.6" x2="218.8" y2="74.29" stroke="#333" stroke-width="0.42"/>
<line x1="204.3" y1="61.46" x2="218.8" y2="42.97" stroke="#333" stroke-width="0.42"/>
<line x1="204.3" y1="54.03" x2="218.8" y2="56.54" stroke="#333" stroke-width="0.42"/>
<line x1="204.3" y1="73.26" x2="218.8" y2="77.04" stroke="#333" stroke-width="0.42"/>
<line x1="204.3" y1="50.68" x2="218.8" y2="46.48" stroke="#333" stroke-width="0.42"/>
<line x1="204.3" y1="61.26" x2="218.8" y2="59.74" stroke="#333" stroke-width="0.42"/>
<line x1="204.3" y1="74.94" x2="218.8" y2="83.17" stroke="#333" stroke-width="0.42"/>
<line x1="204.3" y1="48.93" x2="218.8" y2="40.6" stroke="#333" stroke-width="0.42"/>
<line x1="204.3" y1="49.17" x2="218.8" y2="50.9" stroke="#333" stroke-width="0.42"/>
<line x1="204.3" y1="48.63" x2="218.8" y2="49.06" stroke="#333" stroke-width="0.42"/>
<line x1="204.3" y1="61.92" x2="218.8" y2="68.61" stroke="#333" stroke-width="0.42"/>
<line x1="204.3" y1="69.08" x2="218.8" y2="66.9" stroke="#333" stroke-width="0.42"/>
<line x1="204.3" y1="72.45" x2="218.8" y2="72.05" stroke="#333" stroke-width="0.42"/>
<line x1="204.3" y1="73.34" x2="218.8" y2="81.62" stroke="#333" stroke-width="0.42"/>
<line x1="204.3" y1="65.03" x2="218.8" y2="86.94" stroke="#333" stroke-width="0.42"/>
<line x1="204.3" y1="43.38" x2="218.8" y2="40.6" stroke="#333" stroke-width="0.42"/>
<line x1="204.3" y1="68.68" x2="218.8" y2="70.43" stroke="#333" stroke-width="0.42"/>
<line x1="204.3" y1="75.06" x2="218.8" y2="74.16" stroke="#333" stroke-width="0.42"/>
<line x1="204.3" y1="75.77" x2="218.8" y2="69.64" stroke="#333" stroke-width="0.42"/>
<line x1="204.3" y1="57.22" x2="218.8" y2="42.7" stroke="#333" stroke-width="0.42"/>
<line x1="204.3" y1="63.61" x2="218.8" y2="74.11" stroke="#333" stroke-width="0.42"/>
<line x1="204.3" y1="55.94" x2="218.8" y2="54.73" stroke="#333" stroke-width="0.42"/>
<line x1="204.3" y1="40.6" x2="218.8" y2="44.06" stroke="#333" stroke-width="0.42"/>
<line x1="204.3" y1="40.6" x2="218.8" y2="41.52" stroke="#333" stroke-width="0.42"/>
<line x1="204.3" y1="40.6" x2="218.8" y2="42.82" stroke="#333" stroke-width="0.42"/>
<line x1="204.3" y1="40.6" x2="218.8" y2="43.15" stroke="#333" stroke-width="0.42"/>
<line x1="204.3" y1="40.6" x2="218.8" y2="45.92" stroke="#333" stroke-width="0.42"/>
<line x1="204.3" y1="40.6" x2="218.8" y2="48.98" stroke="#333" stroke-width="0.42"/>
<line x1="204.3" y1="40.6" x2="218.8" y2="42.75" stroke="#333" stroke-width="0.42"/>
<line x1="204.3" y1="40.6" x2="218.8" y2="47.41" stroke="#333" stroke-width="0.42"/>
<line x1="204.3" y1="40.6" x2="218.8" y2="42.63" stroke="#333" stroke-width="0.42"/>
<line x1="204.3" y1="40.6" x2="218.8" y2="40.89" stroke="#333" stroke-width="0.42"/>
<line x1="204.3" y1="40.6" x2="218.8" y2="46.76" stroke="#333" stroke-width="0.42"/>
<line x1="204.3" y1="40.6" x2="218.8" y2="46.71" stroke="#333" stroke-width="0.42"/>
<line x1="204.3" y1="40.6" x2="218.8" y2="41.14" stroke="#333" stroke-width="0.42"/>
<line x1="204.3" y1="40.6" x2="218.8" y2="43.41" stroke="#333" stroke-width="0.42"/>
<line x1="204.3" y1="118.37" x2="218.8" y2="121.06" stroke="#333" stroke-width="0.42"/>
<line x1="204.3" y1="119.18" x2="218.8" y2="93.3" stroke="#333" stroke-width="0.42"/>
<line x1="204.3" y1="91.32" x2="218.8" y2="120.38" stroke="#333" stroke-width="0.42"/>
<line x1="204.3" y1="90.47" x2="218.8" y2="90.6" stroke="#333" stroke-width="0.42"/>
<line x1="204.3" y1="97.67" x2="218.8" y2="113.09" stroke="#333" stroke-width="0.42"/>
<line x1="204.3" y1="102.28" x2="218.8" y2="120.92" stroke="#333" stroke-width="0.42"/>
<line x1="204.3" y1="124.99" x2="218.8" y2="90.94" stroke="#333" stroke-width="0.42"/>
<line x1="204.3" y1="97.99" x2="218.8" y2="106.8" stroke="#333" stroke-width="0.42"/>
<line x1="204.3" y1="85.92" x2="218.8" y2="110.11" stroke="#333" stroke-width="0.42"/>
<line x1="204.3" y1="88.55" x2="218.8" y2="96.11" stroke="#333" stroke-width="0.42"/>
<line x1="204.3" y1="116.63" x2="218.8" y2="116.61" stroke="#333" stroke-width="0.42"/>
<line x1="204.3" y1="113.15" x2="218.8" y2="117.01" stroke="#333" stroke-width="0.42"/>
<line x1="204.3" y1="100.68" x2="218.8" y2="116.34" stroke="#333" stroke-width="0.42"/>
<line x1="204.3" y1="107.79" x2="218.8" y2="120.92" stroke="#333" stroke-width="0.42"/>
<line x1="204.3" y1="86.92" x2="218.8" y2="112.97" stroke="#333" stroke-width="0.42"/>
<line x1="204.3" y1="106.13" x2="218.8" y2="104.77" stroke="#333" stroke-width="0.42"/>
<line x1="204.3" y1="87.17" x2="218.8" y2="110.58" stroke="#333" stroke-width="0.42"/>
<line x1="204.3" y1="86.6" x2="218.8" y2="107.69" stroke="#333" stroke-width="0.42"/>
<line x1="204.3" y1="103" x2="218.8" y2="106.91" stroke="#333" stroke-width="0.42"/>
<line x1="204.3" y1="124.81" x2="218.8" y2="109.89" stroke="#333" stroke-width="0.42"/>
<line x1="204.3" y1="117.82" x2="218.8" y2="125.46" stroke="#333" stroke-width="0.42"/>
<line x1="204.3" y1="91.64" x2="218.8" y2="119.45" stroke="#333" stroke-width="0.42"/>
<line x1="204.3" y1="105.48" x2="218.8" y2="99.71" stroke="#333" stroke-width="0.42"/>
<line x1="204.3" y1="101.95" x2="218.8" y2="113.96" stroke="#333" stroke-width="0.42"/>
<line x1="204.3" y1="122.52" x2="218.8" y2="121.82" stroke="#333" stroke-width="0.42"/>
<line x1="204.3" y1="120.93" x2="218.8" y2="124.88" stroke="#333" stroke-width="0.42"/>
<line x1="204.3" y1="122.27" x2="218.8" y2="123.91" stroke="#333" stroke-width="0.42"/>
<line x1="204.3" y1="123.95" x2="218.8" y2="120.35" stroke="#333" stroke-width="0.42"/>
<line x1="204.3" y1="122.58" x2="218.8" y2="121.78" stroke="#333" stroke-width="0.42"/>
<line x1="204.3" y1="121.08" x2="218.8" y2="119.4" stroke="#333" stroke-width="0.42"/>
<line x1="204.3" y1="122.96" x2="218.8" y2="121.43" stroke="#333" stroke-width="0.42"/>
<line x1="204.3" y1="122.59" x2="218.8" y2="122.12" stroke="#333" stroke-width="0.42"/>
<line x1="204.3" y1="121.48" x2="218.8" y2="122.52" stroke="#333" stroke-width="0.42"/>
<line x1="204.3" y1="122.43" x2="218.8" y2="122.35" stroke="#333" stroke-width="0.42"/>
<line x1="204.3" y1="120" x2="218.8" y2="120.85" stroke="#333" stroke-width="0.42"/>
<line x1="204.3" y1="120.38" x2="218.8" y2="119.19" stroke="#333" stroke-width="0.42"/>
<line x1="204.3" y1="124.06" x2="218.8" y2="121.8" stroke="#333" stroke-width="0.42"/>
<line x1="204.3" y1="119.99" x2="218.8" y2="119.89" stroke="#333" stroke-width="0.42"/>
<line x1="204.3" y1="124.78" x2="218.8" y2="124.77" stroke="#333" stroke-width="0.42"/>
<line x1="204.3" y1="122.97" x2="218.8" y2="125.11" stroke="#333" stroke-width="0.42"/>
<rect x="203.55" y="59.02" width="1.5" height="1.5" fill="#000"/>
<rect x="218.05" y="59.45" width="1.5" height="1.5" fill="#000"/>
<rect x="203.55" y="41.92" width="1.5" height="1.5" fill="#000"/>
<rect x="218.05" y="46.03" width="1.5" height="1.5" fill="#000"/>
<rect x="203.55" y="56.75" width="1.5" height="1.5" fill="#000"/>
<rect x="218.05" y="67.23" width="1.5" height="1.5" fill="#000"/>
<rect x="203.55" y="54.16" width="1.5" height="1.5" fill="#000"/>
<rect x="218.05" y="39.85" width="1.5" height="1.5" fill="#000"/>
<rect x="203.55" y="49.58" width="1.5" height="1.5" fill="#000"/>
<rect x="218.05" y="42.91" width="1.5" height="1.5" fill="#000"/>
<rect x="203.55" y="45.4" width="1.5" height="1.5" fill="#000"/>
<rect x="218.05" y="42.63" width="1.5" height="1.5" fill="#000"/>
<rect x="203.55" y="66.42" width="1.5" height="1.5" fill="#000"/>
<rect x="218.05" y="75.33" width="1.5" height="1.5" fill="#000"/>
<rect x="203.55" y="79.47" width="1.5" height="1.5" fill="#000"/>
<rect x="218.05" y="81.7" width="1.5" height="1.5" fill="#000"/>
<rect x="203.55" y="81.07" width="1.5" height="1.5" fill="#000"/>
<rect x="218.05" y="83.58" width="1.5" height="1.5" fill="#000"/>
<rect x="203.55" y="74.82" width="1.5" height="1.5" fill="#000"/>
<rect x="218.05" y="70.36" width="1.5" height="1.5" fill="#000"/>
<rect x="203.55" y="81.73" width="1.5" height="1.5" fill="#000"/>
<rect x="218.05" y="74.46" width="1.5" height="1.5" fill="#000"/>
<rect x="203.55" y="84.04" width="1.5" height="1.5" fill="#000"/>
<rect x="218.05" y="81.53" width="1.5" height="1.5" fill="#000"/>
<rect x="203.55" y="67.98" width="1.5" height="1.5" fill="#000"/>
<rect x="218.05" y="64.46" width="1.5" height="1.5" fill="#000"/>
<rect x="203.55" y="82.92" width="1.5" height="1.5" fill="#000"/>
<rect x="218.05" y="73.84" width="1.5" height="1.5" fill="#000"/>
<rect x="203.55" y="77.48" width="1.5" height="1.5" fill="#000"/>
<rect x="218.05" y="86.65" width="1.5" height="1.5" fill="#000"/>
<rect x="203.55" y="72.9" width="1.5" height="1.5" fill="#000"/>
<rect x="218.05" y="78.01" width="1.5" height="1.5" fill="#000"/>
<rect x="203.55" y="78.62" width="1.5" height="1.5" fill="#000"/>
<rect x="218.05" y="71.34" width="1.5" height="1.5" fill="#000"/>
<rect x="203.55" y="46.53" width="1.5" height="1.5" fill="#000"/>
<rect x="218.05" y="39.85" width="1.5" height="1.5" fill="#000"/>
<rect x="203.55" y="62.66" width="1.5" height="1.5" fill="#000"/>
<rect x="218.05" y="63.12" width="1.5" height="1.5" fill="#000"/>
<rect x="203.55" y="80.25" width="1.5" height="1.5" fill="#000"/>
<rect x="218.05" y="73.39" width="1.5" height="1.5" fill="#000"/>
<rect x="203.55" y="72.35" width="1.5" height="1.5" fill="#000"/>
<rect x="218.05" y="67.22" width="1.5" height="1.5" fill="#000"/>
<rect x="203.55" y="47.41" width="1.5" height="1.5" fill="#000"/>
<rect x="218.05" y="46.35" width="1.5" height="1.5" fill="#000"/>
<rect x="203.55" y="42.02" width="1.5" height="1.5" fill="#000"/>
<rect x="218.05" y="40.3" width="1.5" height="1.5" fill="#000"/>
<rect x="203.55" y="60.7" width="1.5" height="1.5" fill="#000"/>
<rect x="218.05" y="53.62" width="1.5" height="1.5" fill="#000"/>
<rect x="203.55" y="82.85" width="1.5" height="1.5" fill="#000"/>
<rect x="218.05" y="73.54" width="1.5" height="1.5" fill="#000"/>
<rect x="203.55" y="60.71" width="1.5" height="1.5" fill="#000"/>
<rect x="218.05" y="42.22" width="1.5" height="1.5" fill="#000"/>
<rect x="203.55" y="53.28" width="1.5" height="1.5" fill="#000"/>
<rect x="218.05" y="55.79" width="1.5" height="1.5" fill="#000"/>
<rect x="203.55" y="72.51" width="1.5" height="1.5" fill="#000"/>
<rect x="218.05" y="76.29" width="1.5" height="1.5" fill="#000"/>
<rect x="203.55" y="49.93" width="1.5" height="1.5" fill="#000"/>
<rect x="218.05" y="45.73" width="1.5" height="1.5" fill="#000"/>
<rect x="203.55" y="60.51" width="1.5" height="1.5" fill="#000"/>
<rect x="218.05" y="58.99" width="1.5" height="1.5" fill="#000"/>
<rect x="203.55" y="74.19" width="1.5" height="1.5" fill="#000"/>
<rect x="218.05" y="82.42" width="1.5" height="1.5" fill="#000"/>
<rect x="203.55" y="48.18" width="1.5" height="1.5" fill="#000"/>
<rect x="218.05" y="39.85" width="1.5" height="1.5" fill="#000"/>
<rect x="203.55" y="48.42" width="1.5" height="1.5" fill="#000"/>
<rect x="218.05" y="50.15" width="1.5" height="1.5" fill="#000"/>
<rect x="203.55" y="47.88" width="1.5" height="1.5" fill="#000"/>
<rect x="218.05" y="48.31" width="1.5" height="1.5" fill="#000"/>
<rect x="203.55" y="61.17" width="1.5" height="1.5" fill="#000"/>
<rect x="218.05" y="67.86" width="1.5" height="1.5" fill="#000"/>
<rect x="203.55" y="68.33" width="1.5" height="1.5" fill="#000"/>
<rect x="218.05" y="66.15" width="1.5" height="1.5" fill="#000"/>
<rect x="203.55" y="71.7" width="1.5" height="1.5" fill="#000"/>
<rect x="218.05" y="71.3" width="1.5" height="1.5" fill="#000"/>
<rect x="203.55" y="72.59" width="1.5" height="1.5" fill="#000"/>
<rect x="218.05" y="80.87" width="1.5" height="1.5" fill="#000"/>
<rect x="203.55" y="64.28" width="1.5" height="1.5" fill="#000"/>
<rect x="218.05" y="86.19" width="1.5" height="1.5" fill="#000"/>
<rect x="203.55" y="42.63" width="1.5" height="1.5" fill="#000"/>
<rect x="218.05" y="39.85" width="1.5" height="1.5" fill="#000"/>
<rect x="203.55" y="67.93" width="1.5" height="1.5" fill="#000"/>
<rect x="218.05" y="69.68" width="1.5" height="1.5" fill="#000"/>
<rect x="203.55" y="74.31" width="1.5" height="1.5" fill="#000"/>
<rect x="218.05" y="73.41" width="1.5" height="1.5" fill="#000"/>
<rect x="203.55" y="75.02" width="1.5" height="1.5" fill="#000"/>
<rect x="218.05" y="68.89" width="1.5" height="1.5" fill="#000"/>
<rect x="203.55" y="56.47" width="1.5" height="1.5" fill="#000"/>
<rect x="218.05" y="41.95" width="1.5" height="1.5" fill="#000"/>
<rect x="203.55" y="62.86" width="1.5" height="1.5" fill="#000"/>
<rect x="218.05" y="73.36" width="1.5" height="1.5" fill="#000"/>
<rect x="203.55" y="55.19" width="1.5" height="1.5" fill="#000"/>
<rect x="218.05" y="53.98" width="1.5" height="1.5" fill="#000"/>
<rect x="203.55" y="39.85" width="1.5" height="1.5" fill="#000"/>
<rect x="218.05" y="43.31" width="1.5" height="1.5" fill="#000"/>
<rect x="203.55" y="39.85" width="1.5" height="1.5" fill="#000"/>
<rect x="218.05" y="40.77" width="1.5" height="1.5" fill="#000"/>
<rect x="203.55" y="39.85" width="1.5" height="1.5" fill="#000"/>
<rect x="218.05" y="42.07" width="1.5" height="1.5" fill="#000"/>
<rect x="203.55" y="39.85" width="1.5" height="1.5" fill="#000"/>
<rect x="218.05" y="42.4" width="1.5" height="1.5" fill="#000"/>
<rect x="203.55" y="39.85" width="1.5" height="1.5" fill="#000"/>
<rect x="218.05" y="45.17" width="1.5" height="1.5" fill="#000"/>
<rect x="203.55" y="39.85" width="1.5" height="1.5" fill="#000"/>
<rect x="218.05" y="48.23" width="1.5" height="1.5" fill="#000"/>
<rect x="203.55" y="39.85" width="1.5" height="1.5" fill="#000"/>
<rect x="218.05" y="42" width="1.5" height="1.5" fill="#000"/>
<rect x="203.55" y="39.85" width="1.5" height="1.5" fill="#000"/>
<rect x="218.05" y="46.66" width="1.5" height="1.5" fill="#000"/>
<rect x="203.55" y="39.85" width="1.5" height="1.5" fill="#000"/>
<rect x="218.05" y="41.88" width="1.5" height="1.5" fill="#000"/>
<rect x="203.55" y="39.85" width="1.5" height="1.5" fill="#000"/>
<rect x="218.05" y="40.14" width="1.5" height="1.5" fill="#000"/>
<rect x="203.55" y="39.85" width="1.5" height="1.5" fill="#000"/>
<rect x="218.05" y="46.01" width="1.5" height="1.5" fill="#000"/>
<rect x="203.55" y="39.85" width="1.5" height="1.5" fill="#000"/>
<rect x="218.05" y="45.96" width="1.5" height="1.5" fill="#000"/>
<rect x="203.55" y="39.85" width="1.5" height="1.5" fill="#000"/>
<rect x="218.05" y="40.39" width="1.5" height="1.5" fill="#000"/>
<rect x="203.55" y="39.85" width="1.5" height="1.5" fill="#000"/>
<rect x="218.05" y="42.66" width="1.5" height="1.5" fill="#000"/>
<rect x="203.55" y="117.62" width="1.5" height="1.5" fill="#000"/>
<rect x="218.05" y="120.31" width="1.5" height="1.5" fill="#000"/>
<rect x="203.55" y="118.43" width="1.5" height="1.5" fill="#000"/>
<rect x="218.05" y="92.55" width="1.5" height="1.5" fill="#000"/>
<rect x="203.55" y="90.57" width="1.5" height="1.5" fill="#000"/>
<rect x="218.05" y="119.63" width="1.5" height="1.5" fill="#000"/>
<rect x="203.55" y="89.72" width="1.5" height="1.5" fill="#000"/>
<rect x="218.05" y="89.85" width="1.5" height="1.5" fill="#000"/>
<rect x="203.55" y="96.92" width="1.5" height="1.5" fill="#000"/>
<rect x="218.05" y="112.34" width="1.5" height="1.5" fill="#000"/>
<rect x="203.55" y="101.53" width="1.5" height="1.5" fill="#000"/>
<rect x="218.05" y="120.17" width="1.5" height="1.5" fill="#000"/>
<rect x="203.55" y="124.24" width="1.5" height="1.5" fill="#000"/>
<rect x="218.05" y="90.19" width="1.5" height="1.5" fill="#000"/>
<rect x="203.55" y="97.24" width="1.5" height="1.5" fill="#000"/>
<rect x="218.05" y="106.05" width="1.5" height="1.5" fill="#000"/>
<rect x="203.55" y="85.17" width="1.5" height="1.5" fill="#000"/>
<rect x="218.05" y="109.36" width="1.5" height="1.5" fill="#000"/>
<rect x="203.55" y="87.8" width="1.5" height="1.5" fill="#000"/>
<rect x="218.05" y="95.36" width="1.5" height="1.5" fill="#000"/>
<rect x="203.55" y="115.88" width="1.5" height="1.5" fill="#000"/>
<rect x="218.05" y="115.86" width="1.5" height="1.5" fill="#000"/>
<rect x="203.55" y="112.4" width="1.5" height="1.5" fill="#000"/>
<rect x="218.05" y="116.26" width="1.5" height="1.5" fill="#000"/>
<rect x="203.55" y="99.93" width="1.5" height="1.5" fill="#000"/>
<rect x="218.05" y="115.59" width="1.5" height="1.5" fill="#000"/>
<rect x="203.55" y="107.04" width="1.5" height="1.5" fill="#000"/>
<rect x="218.05" y="120.17" width="1.5" height="1.5" fill="#000"/>
<rect x="203.55" y="86.17" width="1.5" height="1.5" fill="#000"/>
<rect x="218.05" y="112.22" width="1.5" height="1.5" fill="#000"/>
<rect x="203.55" y="105.38" width="1.5" height="1.5" fill="#000"/>
<rect x="218.05" y="104.02" width="1.5" height="1.5" fill="#000"/>
<rect x="203.55" y="86.42" width="1.5" height="1.5" fill="#000"/>
<rect x="218.05" y="109.83" width="1.5" height="1.5" fill="#000"/>
<rect x="203.55" y="85.85" width="1.5" height="1.5" fill="#000"/>
<rect x="218.05" y="106.94" width="1.5" height="1.5" fill="#000"/>
<rect x="203.55" y="102.25" width="1.5" height="1.5" fill="#000"/>
<rect x="218.05" y="106.16" width="1.5" height="1.5" fill="#000"/>
<rect x="203.55" y="124.06" width="1.5" height="1.5" fill="#000"/>
<rect x="218.05" y="109.14" width="1.5" height="1.5" fill="#000"/>
<rect x="203.55" y="117.07" width="1.5" height="1.5" fill="#000"/>
<rect x="218.05" y="124.71" width="1.5" height="1.5" fill="#000"/>
<rect x="203.55" y="90.89" width="1.5" height="1.5" fill="#000"/>
<rect x="218.05" y="118.7" width="1.5" height="1.5" fill="#000"/>
<rect x="203.55" y="104.73" width="1.5" height="1.5" fill="#000"/>
<rect x="218.05" y="98.96" width="1.5" height="1.5" fill="#000"/>
<rect x="203.55" y="101.2" width="1.5" height="1.5" fill="#000"/>
<rect x="218.05" y="113.21" width="1.5" height="1.5" fill="#000"/>
<rect x="203.55" y="121.77" width="1.5" height="1.5" fill="#000"/>
<rect x="218.05" y="121.07" width="1.5" height="1.5" fill="#000"/>
<rect x="203.55" y="120.18" width="1.5" height="1.5" fill="#000"/>
<rect x="218.05" y="124.13" width="1.5" height="1.5" fill="#000"/>
<rect x="203.55" y="121.52" width="1.5" height="1.5" fill="#000"/>
<rect x="218.05" y="123.16" width="1.5" height="1.5" fill="#000"/>
<rect x="203.55" y="123.2" width="1.5" height="1.5" fill="#000"/>
<rect x="218.05" y="119.6" width="1.5" height="1.5" fill="#000"/>
<rect x="203.55" y="121.83" width="1.5" height="1.5" fill="#000"/>
<rect x="218.05" y="121.03" width="1.5" height="1.5" fill="#000"/>
<rect x="203.55" y="120.33" width="1.5" height="1.5" fill="#000"/>
<rect x="218.05" y="118.65" width="1.5" height="1.5" fill="#000"/>
<rect x="203.55" y="122.21" width="1.5" height="1.5" fill="#000"/>
<rect x="218.05" y="120.68" width="1.5" height="1.5" fill="#000"/>
<rect x="203.55" y="121.84" width="1.5" height="1.5" fill="#000"/>
<rect x="218.05" y="121.37" width="1.5" height="1.5" fill="#000"/>
<rect x="203.55" y="120.73" width="1.5" height="1.5" fill="#000"/>
<rect x="218.05" y="121.77" width="1.5" height="1.5" fill="#000"/>
<rect x="203.55" y="121.68" width="1.5" height="1.5" fill="#000"/>
<rect x="218.05" y="121.6" width="1.5" height="1.5" fill="#000"/>
<rect x="203.55" y="119.25" width="1.5" height="1.5" fill="#000"/>
<rect x="218.05" y="120.1" width="1.5" height="1.5" fill="#000"/>
<rect x="203.55" y="119.63" width="1.5" height="1.5" fill="#000"/>
<rect x="218.05" y="118.44" width="1.5" height="1.5" fill="#000"/>
<rect x="203.55" y="123.31" width="1.5" height="1.5" fill="#000"/>
<rect x="218.05" y="121.05" width="1.5" height="1.5" fill="#000"/>
<rect x="203.55" y="119.24" width="1.5" height="1.5" fill="#000"/>
<rect x="218.05" y="119.14" width="1.5" height="1.5" fill="#000"/>
<rect x="203.55" y="124.03" width="1.5" height="1.5" fill="#000"/>
<rect x="218.05" y="124.02" width="1.5" height="1.5" fill="#000"/>
<rect x="203.55" y="122.22" width="1.5" height="1.5" fill="#000"/>
<rect x="218.05" y="124.36" width="1.5" height="1.5" fill="#000"/>
<line x1="204.3" y1="121.1" x2="218.8" y2="94.05" stroke="#d83a3a" stroke-width="0.4"/>
<line x1="204.3" y1="113.08" x2="218.8" y2="76.53" stroke="#d83a3a" stroke-width="0.4"/>
<line x1="204.3" y1="108.83" x2="218.8" y2="92.04" stroke="#d83a3a" stroke-width="0.4"/>
<line x1="204.3" y1="112.21" x2="218.8" y2="79.57" stroke="#d83a3a" stroke-width="0.4"/>
<line x1="204.3" y1="122.93" x2="218.8" y2="74.09" stroke="#d83a3a" stroke-width="0.4"/>
<line x1="204.3" y1="107.51" x2="218.8" y2="90.44" stroke="#d83a3a" stroke-width="0.4"/>
<line x1="204.3" y1="107.79" x2="218.8" y2="86.03" stroke="#d83a3a" stroke-width="0.4"/>
<line x1="204.3" y1="116.49" x2="218.8" y2="71.45" stroke="#d83a3a" stroke-width="0.4"/>
<line x1="204.3" y1="110.03" x2="218.8" y2="91.87" stroke="#d83a3a" stroke-width="0.4"/>
<line x1="204.3" y1="117.53" x2="218.8" y2="83.14" stroke="#d83a3a" stroke-width="0.4"/>
<line x1="204.3" y1="119.26" x2="218.8" y2="91.02" stroke="#d83a3a" stroke-width="0.4"/>
<line x1="204.3" y1="119.64" x2="218.8" y2="78.05" stroke="#d83a3a" stroke-width="0.4"/>
<line x1="204.3" y1="125.24" x2="218.8" y2="82.19" stroke="#d83a3a" stroke-width="0.4"/>
<line x1="204.3" y1="117.36" x2="218.8" y2="95.4" stroke="#d83a3a" stroke-width="0.4"/>
<rect x="203.7" y="120.5" width="1.2" height="1.2" fill="#c83030"/>
<rect x="218.15" y="93.4" width="1.3" height="1.3" fill="#d03030"/>
<rect x="203.7" y="112.48" width="1.2" height="1.2" fill="#c83030"/>
<rect x="218.15" y="75.88" width="1.3" height="1.3" fill="#d03030"/>
<rect x="203.7" y="108.23" width="1.2" height="1.2" fill="#c83030"/>
<rect x="218.15" y="91.39" width="1.3" height="1.3" fill="#d03030"/>
<rect x="203.7" y="111.61" width="1.2" height="1.2" fill="#c83030"/>
<rect x="218.15" y="78.92" width="1.3" height="1.3" fill="#d03030"/>
<rect x="203.7" y="122.33" width="1.2" height="1.2" fill="#c83030"/>
<rect x="218.15" y="73.44" width="1.3" height="1.3" fill="#d03030"/>
<rect x="203.7" y="106.91" width="1.2" height="1.2" fill="#c83030"/>
<rect x="218.15" y="89.79" width="1.3" height="1.3" fill="#d03030"/>
<rect x="203.7" y="107.19" width="1.2" height="1.2" fill="#c83030"/>
<rect x="218.15" y="85.38" width="1.3" height="1.3" fill="#d03030"/>
<rect x="203.7" y="115.89" width="1.2" height="1.2" fill="#c83030"/>
<rect x="218.15" y="70.8" width="1.3" height="1.3" fill="#d03030"/>
<rect x="203.7" y="109.43" width="1.2" height="1.2" fill="#c83030"/>
<rect x="218.15" y="91.22" width="1.3" height="1.3" fill="#d03030"/>
<rect x="203.7" y="116.93" width="1.2" height="1.2" fill="#c83030"/>
<rect x="218.15" y="82.49" width="1.3" height="1.3" fill="#d03030"/>
<rect x="203.7" y="118.66" width="1.2" height="1.2" fill="#c83030"/>
<rect x="218.15" y="90.37" width="1.3" height="1.3" fill="#d03030"/>
<rect x="203.7" y="119.04" width="1.2" height="1.2" fill="#c83030"/>
<rect x="218.15" y="77.4" width="1.3" height="1.3" fill="#d03030"/>
<rect x="203.7" y="124.64" width="1.2" height="1.2" fill="#c83030"/>
<rect x="218.15" y="81.54" width="1.3" height="1.3" fill="#d03030"/>
<rect x="203.7" y="116.76" width="1.2" height="1.2" fill="#c83030"/>
<rect x="218.15" y="94.75" width="1.3" height="1.3" fill="#d03030"/>
<line x1="204.3" y1="91.6" x2="218.8" y2="72.9" stroke="#4a9a9a" stroke-width="0.4"/>
<path d="M203.8 36.7 V34.3 H219.3 V36.7" stroke="#222" stroke-width="0.75" fill="none"/>
<circle cx="207.65" cy="31.1" r="0.9" fill="#111"/>
<circle cx="210.15" cy="31.1" r="0.9" fill="#111"/>
<circle cx="212.65" cy="31.1" r="0.9" fill="#111"/>
<circle cx="215.15" cy="31.1" r="0.9" fill="#111"/>
<text x="204.3" y="133.4" font-size="4.7" text-anchor="middle" font-weight="bold" fill="#1a1a1a" stroke="#1a1a1a" stroke-width="0.12">pb</text>
<text x="204.3" y="138.1" font-size="4.7" text-anchor="middle" font-weight="bold" fill="#1a1a1a" stroke="#1a1a1a" stroke-width="0.12">d0</text>
<text x="218.8" y="133.4" font-size="4.7" text-anchor="middle" font-weight="bold" fill="#1a1a1a" stroke="#1a1a1a" stroke-width="0.12">pb</text>
<text x="218.8" y="138.1" font-size="4.7" text-anchor="middle" font-weight="bold" fill="#1a1a1a" stroke="#1a1a1a" stroke-width="0.12">d6</text>
<text x="211.5" y="144.9" font-size="4.65" text-anchor="middle" font-weight="bold" fill="#1a1a1a" stroke="#1a1a1a" stroke-width="0.12">c-/pre-B ALL</text>
<text x="182.4" y="82.8" font-size="4.8" text-anchor="middle" font-weight="bold" fill="#111" transform="rotate(-90 182.4 82.8)" textLength="53.6" lengthAdjust="spacingAndGlyphs" stroke="#111" stroke-width="0.12">% CD20+ blasts/all blasts</text>
<line x1="256.2" y1="46" x2="256.2" y2="115" stroke="#111" stroke-width="1.4"/>
<line x1="254.4" y1="107" x2="256.2" y2="107" stroke="#111" stroke-width="0.8"/>
<text x="250.7" y="109.31" font-size="5.3" text-anchor="end" font-weight="bold" fill="#000" stroke="#000" stroke-width="0.13">10</text>
<text x="252.1" y="107.2" font-size="3.3" text-anchor="start" font-weight="bold" fill="#000" stroke="#000" stroke-width="0.08">0</text>
<line x1="255.2" y1="103.35" x2="256.2" y2="103.35" stroke="#111" stroke-width="0.35"/>
<line x1="255.2" y1="101.21" x2="256.2" y2="101.21" stroke="#111" stroke-width="0.35"/>
<line x1="255.2" y1="99.69" x2="256.2" y2="99.69" stroke="#111" stroke-width="0.35"/>
<line x1="255.2" y1="98.51" x2="256.2" y2="98.51" stroke="#111" stroke-width="0.35"/>
<line x1="255.2" y1="97.55" x2="256.2" y2="97.55" stroke="#111" stroke-width="0.35"/>
<line x1="255.2" y1="96.74" x2="256.2" y2="96.74" stroke="#111" stroke-width="0.35"/>
<line x1="255.2" y1="96.04" x2="256.2" y2="96.04" stroke="#111" stroke-width="0.35"/>
<line x1="255.2" y1="95.42" x2="256.2" y2="95.42" stroke="#111" stroke-width="0.35"/>
<line x1="254.4" y1="94.86" x2="256.2" y2="94.86" stroke="#111" stroke-width="0.8"/>
<text x="250.7" y="97.17" font-size="5.3" text-anchor="end" font-weight="bold" fill="#000" stroke="#000" stroke-width="0.13">10</text>
<text x="252.1" y="95.06" font-size="3.3" text-anchor="start" font-weight="bold" fill="#000" stroke="#000" stroke-width="0.08">1</text>
<line x1="255.2" y1="91.21" x2="256.2" y2="91.21" stroke="#111" stroke-width="0.35"/>
<line x1="255.2" y1="89.07" x2="256.2" y2="89.07" stroke="#111" stroke-width="0.35"/>
<line x1="255.2" y1="87.55" x2="256.2" y2="87.55" stroke="#111" stroke-width="0.35"/>
<line x1="255.2" y1="86.37" x2="256.2" y2="86.37" stroke="#111" stroke-width="0.35"/>
<line x1="255.2" y1="85.41" x2="256.2" y2="85.41" stroke="#111" stroke-width="0.35"/>
<line x1="255.2" y1="84.6" x2="256.2" y2="84.6" stroke="#111" stroke-width="0.35"/>
<line x1="255.2" y1="83.9" x2="256.2" y2="83.9" stroke="#111" stroke-width="0.35"/>
<line x1="255.2" y1="83.28" x2="256.2" y2="83.28" stroke="#111" stroke-width="0.35"/>
<line x1="254.4" y1="82.72" x2="256.2" y2="82.72" stroke="#111" stroke-width="0.8"/>
<text x="250.7" y="85.03" font-size="5.3" text-anchor="end" font-weight="bold" fill="#000" stroke="#000" stroke-width="0.13">10</text>
<text x="252.1" y="82.92" font-size="3.3" text-anchor="start" font-weight="bold" fill="#000" stroke="#000" stroke-width="0.08">2</text>
<line x1="255.2" y1="79.07" x2="256.2" y2="79.07" stroke="#111" stroke-width="0.35"/>
<line x1="255.2" y1="76.93" x2="256.2" y2="76.93" stroke="#111" stroke-width="0.35"/>
<line x1="255.2" y1="75.41" x2="256.2" y2="75.41" stroke="#111" stroke-width="0.35"/>
<line x1="255.2" y1="74.23" x2="256.2" y2="74.23" stroke="#111" stroke-width="0.35"/>
<line x1="255.2" y1="73.27" x2="256.2" y2="73.27" stroke="#111" stroke-width="0.35"/>
<line x1="255.2" y1="72.46" x2="256.2" y2="72.46" stroke="#111" stroke-width="0.35"/>
<line x1="255.2" y1="71.76" x2="256.2" y2="71.76" stroke="#111" stroke-width="0.35"/>
<line x1="255.2" y1="71.14" x2="256.2" y2="71.14" stroke="#111" stroke-width="0.35"/>
<line x1="254.4" y1="70.58" x2="256.2" y2="70.58" stroke="#111" stroke-width="0.8"/>
<text x="250.7" y="72.89" font-size="5.3" text-anchor="end" font-weight="bold" fill="#000" stroke="#000" stroke-width="0.13">10</text>
<text x="252.1" y="70.78" font-size="3.3" text-anchor="start" font-weight="bold" fill="#000" stroke="#000" stroke-width="0.08">3</text>
<line x1="255.2" y1="66.93" x2="256.2" y2="66.93" stroke="#111" stroke-width="0.35"/>
<line x1="255.2" y1="64.79" x2="256.2" y2="64.79" stroke="#111" stroke-width="0.35"/>
<line x1="255.2" y1="63.27" x2="256.2" y2="63.27" stroke="#111" stroke-width="0.35"/>
<line x1="255.2" y1="62.09" x2="256.2" y2="62.09" stroke="#111" stroke-width="0.35"/>
<line x1="255.2" y1="61.13" x2="256.2" y2="61.13" stroke="#111" stroke-width="0.35"/>
<line x1="255.2" y1="60.32" x2="256.2" y2="60.32" stroke="#111" stroke-width="0.35"/>
<line x1="255.2" y1="59.62" x2="256.2" y2="59.62" stroke="#111" stroke-width="0.35"/>
<line x1="255.2" y1="59" x2="256.2" y2="59" stroke="#111" stroke-width="0.35"/>
<line x1="254.4" y1="58.44" x2="256.2" y2="58.44" stroke="#111" stroke-width="0.8"/>
<text x="250.7" y="60.75" font-size="5.3" text-anchor="end" font-weight="bold" fill="#000" stroke="#000" stroke-width="0.13">10</text>
<text x="252.1" y="58.64" font-size="3.3" text-anchor="start" font-weight="bold" fill="#000" stroke="#000" stroke-width="0.08">4</text>
<line x1="255.2" y1="54.79" x2="256.2" y2="54.79" stroke="#111" stroke-width="0.35"/>
<line x1="255.2" y1="52.65" x2="256.2" y2="52.65" stroke="#111" stroke-width="0.35"/>
<line x1="255.2" y1="51.13" x2="256.2" y2="51.13" stroke="#111" stroke-width="0.35"/>
<line x1="255.2" y1="49.95" x2="256.2" y2="49.95" stroke="#111" stroke-width="0.35"/>
<line x1="255.2" y1="48.99" x2="256.2" y2="48.99" stroke="#111" stroke-width="0.35"/>
<line x1="255.2" y1="48.18" x2="256.2" y2="48.18" stroke="#111" stroke-width="0.35"/>
<line x1="255.2" y1="47.48" x2="256.2" y2="47.48" stroke="#111" stroke-width="0.35"/>
<line x1="255.2" y1="46.86" x2="256.2" y2="46.86" stroke="#111" stroke-width="0.35"/>
<line x1="254.4" y1="46.3" x2="256.2" y2="46.3" stroke="#111" stroke-width="0.8"/>
<text x="250.7" y="48.61" font-size="5.3" text-anchor="end" font-weight="bold" fill="#000" stroke="#000" stroke-width="0.13">10</text>
<text x="252.1" y="46.5" font-size="3.3" text-anchor="start" font-weight="bold" fill="#000" stroke="#000" stroke-width="0.08">5</text>
<line x1="256.2" y1="114.4" x2="361" y2="114.4" stroke="#111" stroke-width="1.3"/>
<line x1="265.5" y1="114.4" x2="265.5" y2="116.2" stroke="#111" stroke-width="0.8"/>
<line x1="283.6" y1="114.4" x2="283.6" y2="116.2" stroke="#111" stroke-width="0.8"/>
<line x1="301" y1="114.4" x2="301" y2="116.2" stroke="#111" stroke-width="0.8"/>
<line x1="319" y1="114.4" x2="319" y2="116.2" stroke="#111" stroke-width="0.8"/>
<line x1="336.5" y1="114.4" x2="336.5" y2="116.2" stroke="#111" stroke-width="0.8"/>
<line x1="354.5" y1="114.4" x2="354.5" y2="116.2" stroke="#111" stroke-width="0.8"/>
<text x="311" y="33.8" font-size="5.8" text-anchor="middle" font-weight="normal" fill="#111" stroke="#111" stroke-width="0.2">pro-B</text>
<text x="274" y="43.4" font-size="5.2" text-anchor="middle" font-weight="bold" fill="#2a2a2a" stroke="#2a2a2a" stroke-width="0.13">ns</text>
<line x1="265.5" y1="46.9" x2="283.5" y2="46.9" stroke="#777" stroke-width="0.75"/>
<circle cx="309.5" cy="42.7" r="1.32" fill="#111"/>
<line x1="300.8" y1="46.9" x2="318.6" y2="46.9" stroke="#777" stroke-width="0.75"/>
<text x="346" y="43.4" font-size="5.2" text-anchor="middle" font-weight="bold" fill="#2a2a2a" stroke="#2a2a2a" stroke-width="0.13">ns</text>
<line x1="338" y1="46.9" x2="355.6" y2="46.9" stroke="#777" stroke-width="0.75"/>
<text x="265.5" y="123.4" font-size="5.8" text-anchor="middle" font-weight="bold" fill="#1a1a1a" stroke="#1a1a1a" stroke-width="0.14">d0</text>
<text x="265.5" y="130.4" font-size="5.8" text-anchor="middle" font-weight="bold" fill="#1a1a1a" stroke="#1a1a1a" stroke-width="0.14">bm</text>
<text x="283.6" y="123.4" font-size="5.8" text-anchor="middle" font-weight="bold" fill="#1a1a1a" stroke="#1a1a1a" stroke-width="0.14">d0</text>
<text x="283.6" y="130.4" font-size="5.8" text-anchor="middle" font-weight="bold" fill="#1a1a1a" stroke="#1a1a1a" stroke-width="0.14">pb</text>
<text x="301" y="123.4" font-size="5.8" text-anchor="middle" font-weight="bold" fill="#1a1a1a" stroke="#1a1a1a" stroke-width="0.14">d0</text>
<text x="301" y="130.4" font-size="5.8" text-anchor="middle" font-weight="bold" fill="#1a1a1a" stroke="#1a1a1a" stroke-width="0.14">bm</text>
<text x="319" y="123.4" font-size="5.8" text-anchor="middle" font-weight="bold" fill="#1a1a1a" stroke="#1a1a1a" stroke-width="0.14">d0</text>
<text x="319" y="130.4" font-size="5.8" text-anchor="middle" font-weight="bold" fill="#1a1a1a" stroke="#1a1a1a" stroke-width="0.14">pb</text>
<text x="336.5" y="123.4" font-size="5.8" text-anchor="middle" font-weight="bold" fill="#1a1a1a" stroke="#1a1a1a" stroke-width="0.14">d0</text>
<text x="336.5" y="130.4" font-size="5.8" text-anchor="middle" font-weight="bold" fill="#1a1a1a" stroke="#1a1a1a" stroke-width="0.14">bm</text>
<text x="354.5" y="123.4" font-size="5.8" text-anchor="middle" font-weight="bold" fill="#1a1a1a" stroke="#1a1a1a" stroke-width="0.14">d0</text>
<text x="354.5" y="130.4" font-size="5.8" text-anchor="middle" font-weight="bold" fill="#1a1a1a" stroke="#1a1a1a" stroke-width="0.14">pb</text>
<text x="274.3" y="138.3" font-size="5.9" text-anchor="middle" font-weight="bold" fill="#1a1a1a" stroke="#1a1a1a" stroke-width="0.15">ALL blasts</text>
<text x="309.8" y="138.3" font-size="5.9" text-anchor="middle" font-weight="bold" fill="#1a1a1a" stroke="#1a1a1a" stroke-width="0.15">B cells</text>
<text x="346.8" y="138.3" font-size="5.9" text-anchor="middle" font-weight="bold" fill="#1a1a1a" stroke="#1a1a1a" stroke-width="0.15">CD19- lympho</text>
<text x="239" y="80.7" font-size="5.72" text-anchor="middle" font-weight="bold" fill="#1a1a1a" transform="rotate(-90 239 80.7)" stroke="#1a1a1a" stroke-width="0.14">CD20 median FI</text>
<circle cx="263.88" cy="87.49" r="0.8" fill="#444"/>
<circle cx="265.51" cy="80.77" r="0.8" fill="#444"/>
<circle cx="269.77" cy="89.46" r="0.68" fill="none" stroke="#444" stroke-width="0.4"/>
<circle cx="269.65" cy="81.26" r="0.8" fill="#444"/>
<circle cx="263.29" cy="80.48" r="0.8" fill="#444"/>
<circle cx="267.91" cy="83.25" r="0.68" fill="none" stroke="#444" stroke-width="0.4"/>
<circle cx="262.07" cy="85.07" r="0.68" fill="none" stroke="#444" stroke-width="0.4"/>
<circle cx="269.1" cy="89.83" r="0.8" fill="#444"/>
<circle cx="263.23" cy="81.79" r="0.68" fill="none" stroke="#444" stroke-width="0.4"/>
<circle cx="269.17" cy="86.85" r="0.68" fill="none" stroke="#444" stroke-width="0.4"/>
<circle cx="267.4" cy="84.81" r="0.68" fill="none" stroke="#444" stroke-width="0.4"/>
<circle cx="260.98" cy="86.91" r="0.68" fill="none" stroke="#444" stroke-width="0.4"/>
<circle cx="264.65" cy="84.75" r="0.68" fill="none" stroke="#444" stroke-width="0.4"/>
<circle cx="269.78" cy="86.72" r="0.68" fill="none" stroke="#444" stroke-width="0.4"/>
<circle cx="268.42" cy="84.79" r="0.68" fill="none" stroke="#444" stroke-width="0.4"/>
<circle cx="268.96" cy="84.73" r="0.8" fill="#444"/>
<circle cx="262.4" cy="91.5" r="0.68" fill="none" stroke="#444" stroke-width="0.4"/>
<circle cx="264.4" cy="92.3" r="0.8" fill="#444"/>
<line x1="258.3" y1="86.3" x2="272.5" y2="86.3" stroke="#222" stroke-width="0.9"/>
<circle cx="279.98" cy="85.43" r="0.8" fill="#444"/>
<circle cx="278.38" cy="84.75" r="0.68" fill="none" stroke="#444" stroke-width="0.4"/>
<circle cx="278.35" cy="88.13" r="0.8" fill="#444"/>
<circle cx="283.71" cy="84.33" r="0.8" fill="#444"/>
<circle cx="282.95" cy="89.54" r="0.8" fill="#444"/>
<circle cx="279.26" cy="88.73" r="0.68" fill="none" stroke="#444" stroke-width="0.4"/>
<circle cx="282.52" cy="86.47" r="0.68" fill="none" stroke="#444" stroke-width="0.4"/>
<circle cx="286.55" cy="85.75" r="0.68" fill="none" stroke="#444" stroke-width="0.4"/>
<circle cx="283.27" cy="87.81" r="0.68" fill="none" stroke="#444" stroke-width="0.4"/>
<circle cx="283.2" cy="80" r="0.68" fill="none" stroke="#444" stroke-width="0.4"/>
<circle cx="283.2" cy="91.5" r="0.8" fill="#444"/>
<circle cx="283.2" cy="84" r="0.68" fill="none" stroke="#444" stroke-width="0.4"/>
<circle cx="283.2" cy="82" r="0.68" fill="none" stroke="#444" stroke-width="0.4"/>
<circle cx="283.5" cy="89.5" r="0.68" fill="none" stroke="#444" stroke-width="0.4"/>
<circle cx="286.7" cy="82.5" r="0.8" fill="#444"/>
<circle cx="279.2" cy="85.8" r="0.8" fill="#444"/>
<circle cx="288.2" cy="86.5" r="0.8" fill="#444"/>
<line x1="276.4" y1="87.2" x2="289.8" y2="87.2" stroke="#222" stroke-width="0.9"/>
<ellipse cx="301.3" cy="53.8" rx="6.5" ry="0.8" fill="#222"/>
<circle cx="298.68" cy="53.6" r="0.75" fill="#222"/>
<circle cx="298.21" cy="53.65" r="0.75" fill="#222"/>
<circle cx="297.19" cy="54.33" r="0.75" fill="#222"/>
<circle cx="300.65" cy="53.69" r="0.75" fill="#222"/>
<circle cx="306.97" cy="55.07" r="0.75" fill="#222"/>
<circle cx="301.86" cy="53.85" r="0.75" fill="#222"/>
<circle cx="299.01" cy="55.1" r="0.75" fill="#222"/>
<circle cx="299.58" cy="54.29" r="0.75" fill="#222"/>
<circle cx="301" cy="53.8" r="0.75" fill="#222"/>
<circle cx="301.33" cy="53.98" r="0.75" fill="#222"/>
<circle cx="295.36" cy="54.36" r="0.75" fill="#222"/>
<circle cx="298.47" cy="54.23" r="0.75" fill="#222"/>
<circle cx="295.8" cy="54.07" r="0.75" fill="#222"/>
<circle cx="295.57" cy="53.68" r="0.75" fill="#222"/>
<circle cx="302.33" cy="54.14" r="0.75" fill="#222"/>
<circle cx="301.65" cy="53.8" r="0.75" fill="#222"/>
<circle cx="303.89" cy="53.07" r="0.75" fill="#222"/>
<circle cx="305.85" cy="53.46" r="0.75" fill="#222"/>
<circle cx="307.12" cy="54.08" r="0.75" fill="#222"/>
<circle cx="297.09" cy="53.68" r="0.75" fill="#222"/>
<ellipse cx="301.3" cy="53.2" rx="2.2" ry="1" fill="#222"/>
<path d="M300 53.8 L300.9 57.8 L301.7 57.8 L302.6 53.8Z" fill="#222"/>
<circle cx="301.3" cy="57.8" r="0.9" fill="#222"/>
<line x1="295.6" y1="53.8" x2="307" y2="53.8" stroke="#999" stroke-width="0.5"/>
<ellipse cx="319" cy="53.8" rx="6.5" ry="0.8" fill="#222"/>
<circle cx="313.53" cy="53.09" r="0.75" fill="#222"/>
<circle cx="323.02" cy="54.35" r="0.75" fill="#222"/>
<circle cx="321.81" cy="53.36" r="0.75" fill="#222"/>
<circle cx="322.75" cy="54.19" r="0.75" fill="#222"/>
<circle cx="319.05" cy="54.27" r="0.75" fill="#222"/>
<circle cx="323.02" cy="54.12" r="0.75" fill="#222"/>
<circle cx="320.01" cy="52.92" r="0.75" fill="#222"/>
<circle cx="323.71" cy="53.49" r="0.75" fill="#222"/>
<circle cx="315.76" cy="53.1" r="0.75" fill="#222"/>
<circle cx="313.37" cy="54.12" r="0.75" fill="#222"/>
<circle cx="314.26" cy="54.15" r="0.75" fill="#222"/>
<circle cx="323.03" cy="53.14" r="0.75" fill="#222"/>
<circle cx="320.51" cy="53.55" r="0.75" fill="#222"/>
<circle cx="321.17" cy="53.76" r="0.75" fill="#222"/>
<circle cx="322.57" cy="53.8" r="0.75" fill="#222"/>
<circle cx="321.98" cy="53.18" r="0.75" fill="#222"/>
<circle cx="320.91" cy="53.79" r="0.75" fill="#222"/>
<circle cx="313.79" cy="53.77" r="0.75" fill="#222"/>
<circle cx="313.89" cy="53.42" r="0.75" fill="#222"/>
<circle cx="316.19" cy="53.76" r="0.75" fill="#222"/>
<ellipse cx="319" cy="53.2" rx="2.2" ry="1" fill="#222"/>
<path d="M317.7 53.8 L318.6 56.8 L319.4 56.8 L320.3 53.8Z" fill="#222"/>
<circle cx="319" cy="56.8" r="0.9" fill="#222"/>
<line x1="313.3" y1="53.8" x2="324.7" y2="53.8" stroke="#999" stroke-width="0.5"/>
<ellipse cx="336.8" cy="85.2" rx="7" ry="0.7" fill="#222"/>
<circle cx="339.92" cy="84.93" r="0.75" fill="#222"/>
<circle cx="342.98" cy="84.81" r="0.75" fill="#222"/>
<circle cx="336.53" cy="85.21" r="0.75" fill="#222"/>
<circle cx="339.19" cy="85.26" r="0.75" fill="#222"/>
<circle cx="338.66" cy="84.65" r="0.75" fill="#222"/>
<circle cx="331.31" cy="85.38" r="0.75" fill="#222"/>
<circle cx="339.96" cy="85.44" r="0.75" fill="#222"/>
<circle cx="334.26" cy="85.14" r="0.75" fill="#222"/>
<circle cx="331.09" cy="85.17" r="0.75" fill="#222"/>
<circle cx="333.79" cy="84.91" r="0.75" fill="#222"/>
<circle cx="339.08" cy="84.66" r="0.75" fill="#222"/>
<circle cx="334.08" cy="84.76" r="0.75" fill="#222"/>
<circle cx="336.36" cy="85.15" r="0.75" fill="#222"/>
<circle cx="331.84" cy="85.41" r="0.75" fill="#222"/>
<circle cx="343.02" cy="85.03" r="0.75" fill="#222"/>
<circle cx="342.47" cy="85.64" r="0.75" fill="#222"/>
<circle cx="340.96" cy="85.25" r="0.75" fill="#222"/>
<circle cx="342.89" cy="84.9" r="0.75" fill="#222"/>
<ellipse cx="336.8" cy="84.45" rx="2.2" ry="1.15" fill="#222"/>
<line x1="330.6" y1="85.2" x2="343" y2="85.2" stroke="#999" stroke-width="0.5"/>
<ellipse cx="354.7" cy="85.2" rx="7" ry="0.7" fill="#222"/>
<circle cx="350.93" cy="85.3" r="0.75" fill="#222"/>
<circle cx="360.49" cy="85.33" r="0.75" fill="#222"/>
<circle cx="350.04" cy="85.71" r="0.75" fill="#222"/>
<circle cx="355.01" cy="85.4" r="0.75" fill="#222"/>
<circle cx="358.86" cy="85.14" r="0.75" fill="#222"/>
<circle cx="354.81" cy="85.67" r="0.75" fill="#222"/>
<circle cx="351.21" cy="84.79" r="0.75" fill="#222"/>
<circle cx="359.87" cy="85.11" r="0.75" fill="#222"/>
<circle cx="348.25" cy="85.21" r="0.75" fill="#222"/>
<circle cx="354.59" cy="84.88" r="0.75" fill="#222"/>
<circle cx="350.03" cy="85.3" r="0.75" fill="#222"/>
<circle cx="352.67" cy="84.89" r="0.75" fill="#222"/>
<circle cx="348.22" cy="85.9" r="0.75" fill="#222"/>
<circle cx="357.96" cy="85.31" r="0.75" fill="#222"/>
<circle cx="360.24" cy="85.03" r="0.75" fill="#222"/>
<circle cx="357.47" cy="85.47" r="0.75" fill="#222"/>
<circle cx="353.04" cy="85.01" r="0.75" fill="#222"/>
<circle cx="353.31" cy="85.73" r="0.75" fill="#222"/>
<ellipse cx="354.7" cy="84.45" rx="2.2" ry="1.15" fill="#222"/>
<line x1="348.5" y1="85.2" x2="360.9" y2="85.2" stroke="#999" stroke-width="0.5"/>
<line x1="395.3" y1="46" x2="395.3" y2="115" stroke="#111" stroke-width="1.4"/>
<line x1="393.5" y1="107" x2="395.3" y2="107" stroke="#111" stroke-width="0.8"/>
<text x="389.8" y="109.31" font-size="5.3" text-anchor="end" font-weight="bold" fill="#000" stroke="#000" stroke-width="0.13">10</text>
<text x="391.2" y="107.2" font-size="3.3" text-anchor="start" font-weight="bold" fill="#000" stroke="#000" stroke-width="0.08">0</text>
<line x1="394.3" y1="103.35" x2="395.3" y2="103.35" stroke="#111" stroke-width="0.35"/>
<line x1="394.3" y1="101.21" x2="395.3" y2="101.21" stroke="#111" stroke-width="0.35"/>
<line x1="394.3" y1="99.69" x2="395.3" y2="99.69" stroke="#111" stroke-width="0.35"/>
<line x1="394.3" y1="98.51" x2="395.3" y2="98.51" stroke="#111" stroke-width="0.35"/>
<line x1="394.3" y1="97.55" x2="395.3" y2="97.55" stroke="#111" stroke-width="0.35"/>
<line x1="394.3" y1="96.74" x2="395.3" y2="96.74" stroke="#111" stroke-width="0.35"/>
<line x1="394.3" y1="96.04" x2="395.3" y2="96.04" stroke="#111" stroke-width="0.35"/>
<line x1="394.3" y1="95.42" x2="395.3" y2="95.42" stroke="#111" stroke-width="0.35"/>
<line x1="393.5" y1="94.86" x2="395.3" y2="94.86" stroke="#111" stroke-width="0.8"/>
<text x="389.8" y="97.17" font-size="5.3" text-anchor="end" font-weight="bold" fill="#000" stroke="#000" stroke-width="0.13">10</text>
<text x="391.2" y="95.06" font-size="3.3" text-anchor="start" font-weight="bold" fill="#000" stroke="#000" stroke-width="0.08">1</text>
<line x1="394.3" y1="91.21" x2="395.3" y2="91.21" stroke="#111" stroke-width="0.35"/>
<line x1="394.3" y1="89.07" x2="395.3" y2="89.07" stroke="#111" stroke-width="0.35"/>
<line x1="394.3" y1="87.55" x2="395.3" y2="87.55" stroke="#111" stroke-width="0.35"/>
<line x1="394.3" y1="86.37" x2="395.3" y2="86.37" stroke="#111" stroke-width="0.35"/>
<line x1="394.3" y1="85.41" x2="395.3" y2="85.41" stroke="#111" stroke-width="0.35"/>
<line x1="394.3" y1="84.6" x2="395.3" y2="84.6" stroke="#111" stroke-width="0.35"/>
<line x1="394.3" y1="83.9" x2="395.3" y2="83.9" stroke="#111" stroke-width="0.35"/>
<line x1="394.3" y1="83.28" x2="395.3" y2="83.28" stroke="#111" stroke-width="0.35"/>
<line x1="393.5" y1="82.72" x2="395.3" y2="82.72" stroke="#111" stroke-width="0.8"/>
<text x="389.8" y="85.03" font-size="5.3" text-anchor="end" font-weight="bold" fill="#000" stroke="#000" stroke-width="0.13">10</text>
<text x="391.2" y="82.92" font-size="3.3" text-anchor="start" font-weight="bold" fill="#000" stroke="#000" stroke-width="0.08">2</text>
<line x1="394.3" y1="79.07" x2="395.3" y2="79.07" stroke="#111" stroke-width="0.35"/>
<line x1="394.3" y1="76.93" x2="395.3" y2="76.93" stroke="#111" stroke-width="0.35"/>
<line x1="394.3" y1="75.41" x2="395.3" y2="75.41" stroke="#111" stroke-width="0.35"/>
<line x1="394.3" y1="74.23" x2="395.3" y2="74.23" stroke="#111" stroke-width="0.35"/>
<line x1="394.3" y1="73.27" x2="395.3" y2="73.27" stroke="#111" stroke-width="0.35"/>
<line x1="394.3" y1="72.46" x2="395.3" y2="72.46" stroke="#111" stroke-width="0.35"/>
<line x1="394.3" y1="71.76" x2="395.3" y2="71.76" stroke="#111" stroke-width="0.35"/>
<line x1="394.3" y1="71.14" x2="395.3" y2="71.14" stroke="#111" stroke-width="0.35"/>
<line x1="393.5" y1="70.58" x2="395.3" y2="70.58" stroke="#111" stroke-width="0.8"/>
<text x="389.8" y="72.89" font-size="5.3" text-anchor="end" font-weight="bold" fill="#000" stroke="#000" stroke-width="0.13">10</text>
<text x="391.2" y="70.78" font-size="3.3" text-anchor="start" font-weight="bold" fill="#000" stroke="#000" stroke-width="0.08">3</text>
<line x1="394.3" y1="66.93" x2="395.3" y2="66.93" stroke="#111" stroke-width="0.35"/>
<line x1="394.3" y1="64.79" x2="395.3" y2="64.79" stroke="#111" stroke-width="0.35"/>
<line x1="394.3" y1="63.27" x2="395.3" y2="63.27" stroke="#111" stroke-width="0.35"/>
<line x1="394.3" y1="62.09" x2="395.3" y2="62.09" stroke="#111" stroke-width="0.35"/>
<line x1="394.3" y1="61.13" x2="395.3" y2="61.13" stroke="#111" stroke-width="0.35"/>
<line x1="394.3" y1="60.32" x2="395.3" y2="60.32" stroke="#111" stroke-width="0.35"/>
<line x1="394.3" y1="59.62" x2="395.3" y2="59.62" stroke="#111" stroke-width="0.35"/>
<line x1="394.3" y1="59" x2="395.3" y2="59" stroke="#111" stroke-width="0.35"/>
<line x1="393.5" y1="58.44" x2="395.3" y2="58.44" stroke="#111" stroke-width="0.8"/>
<text x="389.8" y="60.75" font-size="5.3" text-anchor="end" font-weight="bold" fill="#000" stroke="#000" stroke-width="0.13">10</text>
<text x="391.2" y="58.64" font-size="3.3" text-anchor="start" font-weight="bold" fill="#000" stroke="#000" stroke-width="0.08">4</text>
<line x1="394.3" y1="54.79" x2="395.3" y2="54.79" stroke="#111" stroke-width="0.35"/>
<line x1="394.3" y1="52.65" x2="395.3" y2="52.65" stroke="#111" stroke-width="0.35"/>
<line x1="394.3" y1="51.13" x2="395.3" y2="51.13" stroke="#111" stroke-width="0.35"/>
<line x1="394.3" y1="49.95" x2="395.3" y2="49.95" stroke="#111" stroke-width="0.35"/>
<line x1="394.3" y1="48.99" x2="395.3" y2="48.99" stroke="#111" stroke-width="0.35"/>
<line x1="394.3" y1="48.18" x2="395.3" y2="48.18" stroke="#111" stroke-width="0.35"/>
<line x1="394.3" y1="47.48" x2="395.3" y2="47.48" stroke="#111" stroke-width="0.35"/>
<line x1="394.3" y1="46.86" x2="395.3" y2="46.86" stroke="#111" stroke-width="0.35"/>
<line x1="393.5" y1="46.3" x2="395.3" y2="46.3" stroke="#111" stroke-width="0.8"/>
<text x="389.8" y="48.61" font-size="5.3" text-anchor="end" font-weight="bold" fill="#000" stroke="#000" stroke-width="0.13">10</text>
<text x="391.2" y="46.5" font-size="3.3" text-anchor="start" font-weight="bold" fill="#000" stroke="#000" stroke-width="0.08">5</text>
<line x1="395.3" y1="114.4" x2="503.8" y2="114.4" stroke="#111" stroke-width="1.3"/>
<line x1="404.3" y1="114.4" x2="404.3" y2="116.2" stroke="#111" stroke-width="0.8"/>
<line x1="421.8" y1="114.4" x2="421.8" y2="116.2" stroke="#111" stroke-width="0.8"/>
<line x1="440.5" y1="114.4" x2="440.5" y2="116.2" stroke="#111" stroke-width="0.8"/>
<line x1="458" y1="114.4" x2="458" y2="116.2" stroke="#111" stroke-width="0.8"/>
<line x1="476.2" y1="114.4" x2="476.2" y2="116.2" stroke="#111" stroke-width="0.8"/>
<line x1="493.3" y1="114.4" x2="493.3" y2="116.2" stroke="#111" stroke-width="0.8"/>
<text x="449.4" y="33.8" font-size="5.8" text-anchor="middle" font-weight="normal" fill="#111" stroke="#111" stroke-width="0.2">c-/pre-B</text>
<circle cx="412.8" cy="42.5" r="1.32" fill="#111"/>
<line x1="404" y1="46.9" x2="422.3" y2="46.9" stroke="#777" stroke-width="0.75"/>
<circle cx="441.4" cy="42.5" r="1.32" fill="#111"/>
<circle cx="446.2" cy="42.5" r="1.32" fill="#111"/>
<circle cx="451" cy="42.5" r="1.32" fill="#111"/>
<circle cx="455.8" cy="42.5" r="1.32" fill="#111"/>
<line x1="440" y1="46.9" x2="457.5" y2="46.9" stroke="#777" stroke-width="0.75"/>
<circle cx="482.6" cy="42.5" r="1.32" fill="#111"/>
<circle cx="487.4" cy="42.5" r="1.32" fill="#111"/>
<line x1="476.3" y1="46.9" x2="493.8" y2="46.9" stroke="#777" stroke-width="0.75"/>
<text x="404.3" y="123.4" font-size="5.8" text-anchor="middle" font-weight="bold" fill="#1a1a1a" stroke="#1a1a1a" stroke-width="0.14">d0</text>
<text x="404.3" y="130.4" font-size="5.8" text-anchor="middle" font-weight="bold" fill="#1a1a1a" stroke="#1a1a1a" stroke-width="0.14">bm</text>
<text x="421.8" y="123.4" font-size="5.8" text-anchor="middle" font-weight="bold" fill="#1a1a1a" stroke="#1a1a1a" stroke-width="0.14">d0</text>
<text x="421.8" y="130.4" font-size="5.8" text-anchor="middle" font-weight="bold" fill="#1a1a1a" stroke="#1a1a1a" stroke-width="0.14">pb</text>
<text x="440.5" y="123.4" font-size="5.8" text-anchor="middle" font-weight="bold" fill="#1a1a1a" stroke="#1a1a1a" stroke-width="0.14">d0</text>
<text x="440.5" y="130.4" font-size="5.8" text-anchor="middle" font-weight="bold" fill="#1a1a1a" stroke="#1a1a1a" stroke-width="0.14">bm</text>
<text x="458" y="123.4" font-size="5.8" text-anchor="middle" font-weight="bold" fill="#1a1a1a" stroke="#1a1a1a" stroke-width="0.14">d0</text>
<text x="458" y="130.4" font-size="5.8" text-anchor="middle" font-weight="bold" fill="#1a1a1a" stroke="#1a1a1a" stroke-width="0.14">pb</text>
<text x="476.2" y="123.4" font-size="5.8" text-anchor="middle" font-weight="bold" fill="#1a1a1a" stroke="#1a1a1a" stroke-width="0.14">d0</text>
<text x="476.2" y="130.4" font-size="5.8" text-anchor="middle" font-weight="bold" fill="#1a1a1a" stroke="#1a1a1a" stroke-width="0.14">bm</text>
<text x="493.3" y="123.4" font-size="5.8" text-anchor="middle" font-weight="bold" fill="#1a1a1a" stroke="#1a1a1a" stroke-width="0.14">d0</text>
<text x="493.3" y="130.4" font-size="5.8" text-anchor="middle" font-weight="bold" fill="#1a1a1a" stroke="#1a1a1a" stroke-width="0.14">pb</text>
<text x="413" y="138.3" font-size="5.9" text-anchor="middle" font-weight="bold" fill="#1a1a1a" stroke="#1a1a1a" stroke-width="0.15">ALL blasts</text>
<text x="449.3" y="138.3" font-size="5.9" text-anchor="middle" font-weight="bold" fill="#1a1a1a" stroke="#1a1a1a" stroke-width="0.15">B cells</text>
<text x="485" y="138.3" font-size="5.9" text-anchor="middle" font-weight="bold" fill="#1a1a1a" stroke="#1a1a1a" stroke-width="0.15">CD19- lympho</text>
<text x="377.8" y="82" font-size="5.72" text-anchor="middle" font-weight="bold" fill="#1a1a1a" transform="rotate(-90 377.8 82)" stroke="#1a1a1a" stroke-width="0.14">CD20 median FI</text>
<circle cx="403.93" cy="65.7" r="0.85" fill="#222"/>
<circle cx="403.64" cy="56.21" r="0.85" fill="#222"/>
<circle cx="403.05" cy="75.87" r="0.85" fill="#222"/>
<circle cx="403.67" cy="78.39" r="0.85" fill="#222"/>
<circle cx="403.55" cy="61.64" r="0.72" fill="none" stroke="#222" stroke-width="0.4"/>
<circle cx="404.44" cy="59.75" r="0.85" fill="#222"/>
<circle cx="403.97" cy="78.9" r="0.85" fill="#222"/>
<circle cx="405.71" cy="75.3" r="0.85" fill="#222"/>
<circle cx="404.85" cy="77.84" r="0.85" fill="#222"/>
<circle cx="405.9" cy="68.73" r="0.85" fill="#222"/>
<circle cx="405.15" cy="56.24" r="0.85" fill="#222"/>
<circle cx="405.19" cy="66.27" r="0.85" fill="#222"/>
<circle cx="405.26" cy="71.11" r="0.85" fill="#222"/>
<circle cx="403.67" cy="56.22" r="0.85" fill="#222"/>
<circle cx="405.85" cy="58.18" r="0.72" fill="none" stroke="#222" stroke-width="0.4"/>
<circle cx="404.31" cy="63.59" r="0.72" fill="none" stroke="#222" stroke-width="0.4"/>
<circle cx="403.71" cy="73.48" r="0.85" fill="#222"/>
<circle cx="406.02" cy="61.5" r="0.85" fill="#222"/>
<circle cx="404.93" cy="62.52" r="0.72" fill="none" stroke="#222" stroke-width="0.4"/>
<circle cx="404.59" cy="64.86" r="0.72" fill="none" stroke="#222" stroke-width="0.4"/>
<circle cx="403.27" cy="59.04" r="0.85" fill="#222"/>
<circle cx="403.41" cy="77.65" r="0.85" fill="#222"/>
<circle cx="404.39" cy="60.5" r="0.85" fill="#222"/>
<circle cx="405.78" cy="79.91" r="0.85" fill="#222"/>
<circle cx="404.23" cy="58.49" r="0.85" fill="#222"/>
<circle cx="403.35" cy="57.27" r="0.85" fill="#222"/>
<circle cx="403.86" cy="57.28" r="0.72" fill="none" stroke="#222" stroke-width="0.4"/>
<circle cx="403.51" cy="61.46" r="0.72" fill="none" stroke="#222" stroke-width="0.4"/>
<circle cx="404.64" cy="77.18" r="0.85" fill="#222"/>
<circle cx="405.25" cy="65.32" r="0.85" fill="#222"/>
<circle cx="404.11" cy="68.1" r="0.85" fill="#222"/>
<circle cx="403.98" cy="63.46" r="0.85" fill="#222"/>
<circle cx="402.91" cy="61.94" r="0.85" fill="#222"/>
<circle cx="405.99" cy="58.15" r="0.85" fill="#222"/>
<circle cx="404.43" cy="88.2" r="0.85" fill="#222"/>
<circle cx="403.15" cy="82.36" r="0.85" fill="#222"/>
<circle cx="403.77" cy="89.06" r="0.85" fill="#222"/>
<circle cx="407.89" cy="80.21" r="0.85" fill="#222"/>
<circle cx="400.35" cy="88.51" r="0.72" fill="none" stroke="#222" stroke-width="0.4"/>
<circle cx="404.2" cy="80" r="0.85" fill="#222"/>
<circle cx="403.27" cy="87.84" r="0.85" fill="#222"/>
<circle cx="408.23" cy="82.36" r="0.85" fill="#222"/>
<circle cx="403.24" cy="84.96" r="0.85" fill="#222"/>
<circle cx="406.32" cy="86.86" r="0.85" fill="#222"/>
<circle cx="405.74" cy="84.34" r="0.72" fill="none" stroke="#222" stroke-width="0.4"/>
<circle cx="404.46" cy="87.43" r="0.85" fill="#222"/>
<circle cx="401.63" cy="86.13" r="0.85" fill="#222"/>
<circle cx="403.89" cy="82.39" r="0.72" fill="none" stroke="#222" stroke-width="0.4"/>
<circle cx="405.57" cy="81.07" r="0.85" fill="#222"/>
<circle cx="401.39" cy="85.54" r="0.85" fill="#222"/>
<circle cx="403.97" cy="85.71" r="0.85" fill="#222"/>
<circle cx="402.07" cy="84.38" r="0.85" fill="#222"/>
<circle cx="408.11" cy="88.4" r="0.85" fill="#222"/>
<circle cx="404.3" cy="82.35" r="0.85" fill="#222"/>
<circle cx="408.37" cy="82.92" r="0.85" fill="#222"/>
<circle cx="401.17" cy="86.41" r="0.85" fill="#222"/>
<circle cx="404.06" cy="86.34" r="0.85" fill="#222"/>
<circle cx="406.06" cy="80.32" r="0.85" fill="#222"/>
<circle cx="403.43" cy="86.48" r="0.72" fill="none" stroke="#222" stroke-width="0.4"/>
<circle cx="401.57" cy="87.02" r="0.85" fill="#222"/>
<circle cx="404.42" cy="89.21" r="0.85" fill="#222"/>
<circle cx="402.6" cy="82.19" r="0.85" fill="#222"/>
<circle cx="401.87" cy="82.8" r="0.85" fill="#222"/>
<circle cx="407.44" cy="81.78" r="0.72" fill="none" stroke="#222" stroke-width="0.4"/>
<circle cx="402.75" cy="86.32" r="0.85" fill="#222"/>
<circle cx="405.69" cy="83.74" r="0.72" fill="none" stroke="#222" stroke-width="0.4"/>
<circle cx="401.3" cy="81.35" r="0.72" fill="none" stroke="#222" stroke-width="0.4"/>
<circle cx="403.71" cy="83.74" r="0.85" fill="#222"/>
<circle cx="408.42" cy="86.96" r="0.85" fill="#222"/>
<circle cx="409.61" cy="83.13" r="0.85" fill="#222"/>
<circle cx="401.1" cy="87.09" r="0.85" fill="#222"/>
<circle cx="400.53" cy="83.6" r="0.85" fill="#222"/>
<circle cx="403.76" cy="81.61" r="0.85" fill="#222"/>
<circle cx="402.16" cy="83.34" r="0.85" fill="#222"/>
<circle cx="405.56" cy="89.16" r="0.85" fill="#222"/>
<circle cx="402.84" cy="87.8" r="0.85" fill="#222"/>
<circle cx="406.37" cy="80.47" r="0.72" fill="none" stroke="#222" stroke-width="0.4"/>
<circle cx="404.25" cy="88.74" r="0.85" fill="#222"/>
<circle cx="402.73" cy="88.52" r="0.85" fill="#222"/>
<circle cx="401.63" cy="87.71" r="0.85" fill="#222"/>
<circle cx="404.71" cy="80.33" r="0.85" fill="#222"/>
<circle cx="399.86" cy="82.44" r="0.72" fill="none" stroke="#222" stroke-width="0.4"/>
<circle cx="406.92" cy="83.22" r="0.85" fill="#222"/>
<circle cx="401.97" cy="85.86" r="0.85" fill="#222"/>
<circle cx="402.33" cy="83.01" r="0.85" fill="#222"/>
<circle cx="404.35" cy="87.18" r="0.85" fill="#222"/>
<circle cx="407.73" cy="88.96" r="0.85" fill="#222"/>
<circle cx="402.51" cy="84.51" r="0.72" fill="none" stroke="#222" stroke-width="0.4"/>
<circle cx="409.26" cy="83.67" r="0.85" fill="#222"/>
<circle cx="404.4" cy="105" r="0.85" fill="#222"/>
<line x1="397.2" y1="81.5" x2="411.5" y2="81.5" stroke="#111" stroke-width="1.0"/>
<circle cx="420.29" cy="61.18" r="0.85" fill="#222"/>
<circle cx="420.38" cy="72.29" r="0.85" fill="#222"/>
<circle cx="422.03" cy="55.46" r="0.85" fill="#222"/>
<circle cx="419.89" cy="63.09" r="0.85" fill="#222"/>
<circle cx="422.04" cy="68.7" r="0.72" fill="none" stroke="#222" stroke-width="0.4"/>
<circle cx="419.84" cy="57.76" r="0.85" fill="#222"/>
<circle cx="422.74" cy="63.43" r="0.72" fill="none" stroke="#222" stroke-width="0.4"/>
<circle cx="420.76" cy="61.07" r="0.85" fill="#222"/>
<circle cx="423.98" cy="61.18" r="0.85" fill="#222"/>
<circle cx="422.12" cy="62.22" r="0.85" fill="#222"/>
<circle cx="421.4" cy="73.88" r="0.85" fill="#222"/>
<circle cx="424.18" cy="62.37" r="0.85" fill="#222"/>
<circle cx="420.35" cy="70.74" r="0.85" fill="#222"/>
<circle cx="420.38" cy="54.14" r="0.85" fill="#222"/>
<circle cx="423.73" cy="63.75" r="0.85" fill="#222"/>
<circle cx="423.34" cy="63.34" r="0.85" fill="#222"/>
<circle cx="423.64" cy="64.6" r="0.85" fill="#222"/>
<circle cx="420.18" cy="54.34" r="0.85" fill="#222"/>
<circle cx="422.05" cy="68.74" r="0.85" fill="#222"/>
<circle cx="423.77" cy="56.05" r="0.85" fill="#222"/>
<circle cx="422.39" cy="62.53" r="0.85" fill="#222"/>
<circle cx="421.82" cy="57.36" r="0.85" fill="#222"/>
<circle cx="420.76" cy="65.99" r="0.72" fill="none" stroke="#222" stroke-width="0.4"/>
<circle cx="423.84" cy="56.5" r="0.85" fill="#222"/>
<circle cx="421.75" cy="72.51" r="0.85" fill="#222"/>
<circle cx="424.04" cy="58.54" r="0.85" fill="#222"/>
<circle cx="420.01" cy="75.69" r="0.85" fill="#222"/>
<circle cx="424.08" cy="65.1" r="0.85" fill="#222"/>
<circle cx="419.66" cy="75.3" r="0.85" fill="#222"/>
<circle cx="421.26" cy="74.8" r="0.85" fill="#222"/>
<circle cx="422.38" cy="72.96" r="0.85" fill="#222"/>
<circle cx="420.17" cy="72.07" r="0.85" fill="#222"/>
<circle cx="420.47" cy="63.3" r="0.85" fill="#222"/>
<circle cx="423.46" cy="73.07" r="0.85" fill="#222"/>
<circle cx="420.49" cy="83" r="0.85" fill="#222"/>
<circle cx="421.91" cy="79.54" r="0.85" fill="#222"/>
<circle cx="419.38" cy="89.22" r="0.85" fill="#222"/>
<circle cx="418.12" cy="87.47" r="0.85" fill="#222"/>
<circle cx="416.9" cy="79.47" r="0.85" fill="#222"/>
<circle cx="422.59" cy="85.84" r="0.85" fill="#222"/>
<circle cx="420.53" cy="85.28" r="0.85" fill="#222"/>
<circle cx="421.13" cy="83.58" r="0.85" fill="#222"/>
<circle cx="421.75" cy="85.74" r="0.85" fill="#222"/>
<circle cx="421.75" cy="87.54" r="0.85" fill="#222"/>
<circle cx="423.75" cy="80.24" r="0.85" fill="#222"/>
<circle cx="421.73" cy="79.61" r="0.85" fill="#222"/>
<circle cx="421.64" cy="83.52" r="0.85" fill="#222"/>
<circle cx="421.81" cy="85.96" r="0.72" fill="none" stroke="#222" stroke-width="0.4"/>
<circle cx="417.76" cy="87.72" r="0.85" fill="#222"/>
<circle cx="421.82" cy="84.3" r="0.72" fill="none" stroke="#222" stroke-width="0.4"/>
<circle cx="420.39" cy="79.7" r="0.72" fill="none" stroke="#222" stroke-width="0.4"/>
<circle cx="426.07" cy="87.15" r="0.72" fill="none" stroke="#222" stroke-width="0.4"/>
<circle cx="423" cy="90.27" r="0.85" fill="#222"/>
<circle cx="421.71" cy="89.45" r="0.85" fill="#222"/>
<circle cx="418.4" cy="89.63" r="0.72" fill="none" stroke="#222" stroke-width="0.4"/>
<circle cx="419.3" cy="87.45" r="0.72" fill="none" stroke="#222" stroke-width="0.4"/>
<circle cx="418.01" cy="81.44" r="0.72" fill="none" stroke="#222" stroke-width="0.4"/>
<circle cx="422.77" cy="84.28" r="0.85" fill="#222"/>
<circle cx="423.48" cy="81.29" r="0.85" fill="#222"/>
<circle cx="421.83" cy="78.46" r="0.85" fill="#222"/>
<circle cx="420.74" cy="89.71" r="0.85" fill="#222"/>
<circle cx="423.8" cy="80.11" r="0.72" fill="none" stroke="#222" stroke-width="0.4"/>
<circle cx="422.55" cy="84.63" r="0.85" fill="#222"/>
<circle cx="422.6" cy="88.91" r="0.85" fill="#222"/>
<circle cx="422.25" cy="89.03" r="0.85" fill="#222"/>
<circle cx="417.08" cy="85.87" r="0.85" fill="#222"/>
<circle cx="420.72" cy="81.31" r="0.85" fill="#222"/>
<circle cx="425.81" cy="82.5" r="0.72" fill="none" stroke="#222" stroke-width="0.4"/>
<circle cx="423.59" cy="80.21" r="0.85" fill="#222"/>
<circle cx="422.15" cy="88.25" r="0.85" fill="#222"/>
<circle cx="419.64" cy="90.3" r="0.85" fill="#222"/>
<circle cx="422.57" cy="81.91" r="0.72" fill="none" stroke="#222" stroke-width="0.4"/>
<circle cx="421.24" cy="79.87" r="0.85" fill="#222"/>
<circle cx="422.57" cy="84.41" r="0.72" fill="none" stroke="#222" stroke-width="0.4"/>
<circle cx="422.95" cy="80.84" r="0.72" fill="none" stroke="#222" stroke-width="0.4"/>
<circle cx="421.93" cy="78.03" r="0.85" fill="#222"/>
<circle cx="421.44" cy="82.46" r="0.85" fill="#222"/>
<circle cx="419.53" cy="85.36" r="0.85" fill="#222"/>
<circle cx="419.25" cy="83.94" r="0.85" fill="#222"/>
<circle cx="417.61" cy="81.04" r="0.85" fill="#222"/>
<circle cx="420.99" cy="85.98" r="0.85" fill="#222"/>
<circle cx="425.55" cy="83.02" r="0.72" fill="none" stroke="#222" stroke-width="0.4"/>
<circle cx="421.68" cy="86.06" r="0.72" fill="none" stroke="#222" stroke-width="0.4"/>
<circle cx="422.16" cy="86.07" r="0.85" fill="#222"/>
<circle cx="421.16" cy="87.17" r="0.85" fill="#222"/>
<circle cx="418.99" cy="78.55" r="0.85" fill="#222"/>
<circle cx="422" cy="80.97" r="0.85" fill="#222"/>
<circle cx="417.35" cy="78.15" r="0.72" fill="none" stroke="#222" stroke-width="0.4"/>
<circle cx="422.39" cy="79.78" r="0.85" fill="#222"/>
<circle cx="419.25" cy="84.34" r="0.85" fill="#222"/>
<circle cx="423.27" cy="80.18" r="0.85" fill="#222"/>
<circle cx="420.81" cy="78.61" r="0.85" fill="#222"/>
<circle cx="425.74" cy="86.94" r="0.85" fill="#222"/>
<circle cx="416.54" cy="87.31" r="0.85" fill="#222"/>
<line x1="414.9" y1="78.4" x2="429.9" y2="78.4" stroke="#111" stroke-width="1.0"/>
<ellipse cx="440.2" cy="54.1" rx="6.25" ry="0.88" fill="#111"/>
<circle cx="440.24" cy="54.09" r="0.85" fill="#111"/>
<circle cx="444.24" cy="54" r="0.85" fill="#111"/>
<circle cx="439.2" cy="54.01" r="0.85" fill="#111"/>
<circle cx="439.47" cy="54.17" r="0.85" fill="#111"/>
<circle cx="442.55" cy="53.6" r="0.85" fill="#111"/>
<circle cx="440.64" cy="54.33" r="0.85" fill="#111"/>
<circle cx="435.5" cy="55.17" r="0.85" fill="#111"/>
<circle cx="443.88" cy="54.11" r="0.85" fill="#111"/>
<circle cx="436.77" cy="54.12" r="0.85" fill="#111"/>
<circle cx="443.22" cy="54.15" r="0.85" fill="#111"/>
<circle cx="440.09" cy="54.09" r="0.85" fill="#111"/>
<circle cx="440.1" cy="54.2" r="0.85" fill="#111"/>
<circle cx="440.14" cy="53.76" r="0.85" fill="#111"/>
<circle cx="438.44" cy="54.31" r="0.85" fill="#111"/>
<circle cx="445.3" cy="53.73" r="0.85" fill="#111"/>
<circle cx="437.71" cy="54.29" r="0.85" fill="#111"/>
<circle cx="440.18" cy="54.93" r="0.85" fill="#111"/>
<circle cx="435.71" cy="53.95" r="0.85" fill="#111"/>
<circle cx="443.51" cy="53.93" r="0.85" fill="#111"/>
<circle cx="442.47" cy="54.28" r="0.85" fill="#111"/>
<circle cx="438.54" cy="53.35" r="0.85" fill="#111"/>
<circle cx="439.06" cy="53.19" r="0.85" fill="#111"/>
<circle cx="435.44" cy="54.81" r="0.85" fill="#111"/>
<circle cx="444.67" cy="54.47" r="0.85" fill="#111"/>
<circle cx="437.48" cy="54.16" r="0.85" fill="#111"/>
<circle cx="444.81" cy="53.56" r="0.85" fill="#111"/>
<circle cx="444.62" cy="54.1" r="0.85" fill="#111"/>
<circle cx="437.14" cy="53.44" r="0.85" fill="#111"/>
<circle cx="443.13" cy="54.26" r="0.85" fill="#111"/>
<circle cx="443.11" cy="53.79" r="0.85" fill="#111"/>
<circle cx="438.21" cy="53.7" r="0.85" fill="#111"/>
<circle cx="436.24" cy="54.55" r="0.85" fill="#111"/>
<circle cx="442.98" cy="53.42" r="0.85" fill="#111"/>
<circle cx="436.4" cy="53.22" r="0.85" fill="#111"/>
<circle cx="441.11" cy="54.46" r="0.85" fill="#111"/>
<circle cx="435.9" cy="52.99" r="0.85" fill="#111"/>
<circle cx="437.19" cy="54.37" r="0.85" fill="#111"/>
<circle cx="436.65" cy="53.83" r="0.85" fill="#111"/>
<circle cx="444.15" cy="54.91" r="0.85" fill="#111"/>
<circle cx="436.23" cy="54.33" r="0.85" fill="#111"/>
<circle cx="438.21" cy="54.44" r="0.85" fill="#111"/>
<circle cx="440.46" cy="54.36" r="0.85" fill="#111"/>
<circle cx="436.63" cy="54.52" r="0.85" fill="#111"/>
<circle cx="445.66" cy="54.07" r="0.85" fill="#111"/>
<circle cx="445.52" cy="53.85" r="0.85" fill="#111"/>
<ellipse cx="440.2" cy="52.85" rx="2.2" ry="1.65" fill="#111"/>
<path d="M438.9 54.1 L439.8 60.6 L440.6 60.6 L441.5 54.1Z" fill="#111"/>
<circle cx="440.2" cy="60.6" r="0.9" fill="#111"/>
<line x1="434.75" y1="54.1" x2="445.65" y2="54.1" stroke="#999" stroke-width="0.5"/>
<ellipse cx="458" cy="54.1" rx="6" ry="0.88" fill="#111"/>
<circle cx="453.62" cy="52.92" r="0.85" fill="#111"/>
<circle cx="461.24" cy="55.15" r="0.85" fill="#111"/>
<circle cx="460.57" cy="53.77" r="0.85" fill="#111"/>
<circle cx="459.52" cy="54.24" r="0.85" fill="#111"/>
<circle cx="453.68" cy="54.25" r="0.85" fill="#111"/>
<circle cx="452.87" cy="54.63" r="0.85" fill="#111"/>
<circle cx="456.89" cy="54.32" r="0.85" fill="#111"/>
<circle cx="458.01" cy="53.28" r="0.85" fill="#111"/>
<circle cx="459.46" cy="53.8" r="0.85" fill="#111"/>
<circle cx="459.14" cy="54.17" r="0.85" fill="#111"/>
<circle cx="456.95" cy="54.03" r="0.85" fill="#111"/>
<circle cx="457.23" cy="52.9" r="0.85" fill="#111"/>
<circle cx="458.81" cy="54.1" r="0.85" fill="#111"/>
<circle cx="455.01" cy="53.52" r="0.85" fill="#111"/>
<circle cx="460.44" cy="54.79" r="0.85" fill="#111"/>
<circle cx="460.2" cy="53.45" r="0.85" fill="#111"/>
<circle cx="461.88" cy="53.76" r="0.85" fill="#111"/>
<circle cx="457.49" cy="53.39" r="0.85" fill="#111"/>
<circle cx="455.94" cy="53.93" r="0.85" fill="#111"/>
<circle cx="457.12" cy="53.92" r="0.85" fill="#111"/>
<circle cx="461.11" cy="53.92" r="0.85" fill="#111"/>
<circle cx="455.25" cy="53.35" r="0.85" fill="#111"/>
<circle cx="457.16" cy="53.36" r="0.85" fill="#111"/>
<circle cx="457" cy="54.31" r="0.85" fill="#111"/>
<circle cx="459.93" cy="54.42" r="0.85" fill="#111"/>
<circle cx="459.7" cy="53.95" r="0.85" fill="#111"/>
<circle cx="461.06" cy="53.61" r="0.85" fill="#111"/>
<circle cx="463.22" cy="54.51" r="0.85" fill="#111"/>
<circle cx="452.92" cy="53.79" r="0.85" fill="#111"/>
<circle cx="461.1" cy="54.01" r="0.85" fill="#111"/>
<circle cx="462.85" cy="53.85" r="0.85" fill="#111"/>
<circle cx="458.82" cy="54.07" r="0.85" fill="#111"/>
<circle cx="458.45" cy="53.97" r="0.85" fill="#111"/>
<circle cx="459.53" cy="53.45" r="0.85" fill="#111"/>
<circle cx="461.62" cy="53.54" r="0.85" fill="#111"/>
<circle cx="462.93" cy="54.02" r="0.85" fill="#111"/>
<circle cx="454.81" cy="53.88" r="0.85" fill="#111"/>
<circle cx="460.89" cy="53.6" r="0.85" fill="#111"/>
<circle cx="453.85" cy="54.61" r="0.85" fill="#111"/>
<circle cx="453.12" cy="54.05" r="0.85" fill="#111"/>
<circle cx="455.52" cy="54.03" r="0.85" fill="#111"/>
<circle cx="457.1" cy="54.15" r="0.85" fill="#111"/>
<circle cx="457.13" cy="53.94" r="0.85" fill="#111"/>
<circle cx="455.42" cy="53.61" r="0.85" fill="#111"/>
<circle cx="454.97" cy="54.03" r="0.85" fill="#111"/>
<ellipse cx="458" cy="52.85" rx="2.2" ry="1.65" fill="#111"/>
<path d="M456.7 54.1 L457.6 60.1 L458.4 60.1 L459.3 54.1Z" fill="#111"/>
<circle cx="458" cy="60.1" r="0.9" fill="#111"/>
<line x1="452.8" y1="54.1" x2="463.2" y2="54.1" stroke="#999" stroke-width="0.5"/>
<ellipse cx="475.7" cy="84.8" rx="6.25" ry="2.0" fill="#111"/>
<path d="M472.3 83.8 Q474.5 82.3 474.8 78.8 L476.6 78.8 Q476.9 82.3 479.1 83.8Z" fill="#111"/>
<circle cx="475.7" cy="78" r="0.9" fill="#111"/>
<line x1="470.65" y1="84.7" x2="480.75" y2="84.7" stroke="#8a8a8a" stroke-width="0.6"/>
<ellipse cx="494" cy="84" rx="6.25" ry="2.0" fill="#111"/>
<path d="M490.6 83 Q492.8 81.5 493.1 80.2 L494.9 80.2 Q495.2 81.5 497.4 83Z" fill="#111"/>
<line x1="488.95" y1="84.3" x2="499.05" y2="84.3" stroke="#8a8a8a" stroke-width="0.6"/>
<line x1="257.2" y1="175.2" x2="257.2" y2="248" stroke="#111" stroke-width="1.4"/>
<line x1="255.4" y1="238.5" x2="257.2" y2="238.5" stroke="#111" stroke-width="0.8"/>
<text x="251.7" y="240.3" font-size="5.0" text-anchor="end" font-weight="bold" fill="#000" stroke="#000" stroke-width="0.12">10</text>
<text x="253.1" y="238.3" font-size="3.1" text-anchor="start" font-weight="bold" fill="#000" stroke="#000" stroke-width="0.08">0</text>
<line x1="256.2" y1="234.71" x2="257.2" y2="234.71" stroke="#111" stroke-width="0.35"/>
<line x1="256.2" y1="232.49" x2="257.2" y2="232.49" stroke="#111" stroke-width="0.35"/>
<line x1="256.2" y1="230.91" x2="257.2" y2="230.91" stroke="#111" stroke-width="0.35"/>
<line x1="256.2" y1="229.69" x2="257.2" y2="229.69" stroke="#111" stroke-width="0.35"/>
<line x1="256.2" y1="228.7" x2="257.2" y2="228.7" stroke="#111" stroke-width="0.35"/>
<line x1="256.2" y1="227.85" x2="257.2" y2="227.85" stroke="#111" stroke-width="0.35"/>
<line x1="256.2" y1="227.12" x2="257.2" y2="227.12" stroke="#111" stroke-width="0.35"/>
<line x1="256.2" y1="226.48" x2="257.2" y2="226.48" stroke="#111" stroke-width="0.35"/>
<line x1="255.4" y1="225.9" x2="257.2" y2="225.9" stroke="#111" stroke-width="0.8"/>
<text x="251.7" y="227.7" font-size="5.0" text-anchor="end" font-weight="bold" fill="#000" stroke="#000" stroke-width="0.12">10</text>
<text x="253.1" y="225.7" font-size="3.1" text-anchor="start" font-weight="bold" fill="#000" stroke="#000" stroke-width="0.08">1</text>
<line x1="256.2" y1="222.11" x2="257.2" y2="222.11" stroke="#111" stroke-width="0.35"/>
<line x1="256.2" y1="219.89" x2="257.2" y2="219.89" stroke="#111" stroke-width="0.35"/>
<line x1="256.2" y1="218.31" x2="257.2" y2="218.31" stroke="#111" stroke-width="0.35"/>
<line x1="256.2" y1="217.09" x2="257.2" y2="217.09" stroke="#111" stroke-width="0.35"/>
<line x1="256.2" y1="216.1" x2="257.2" y2="216.1" stroke="#111" stroke-width="0.35"/>
<line x1="256.2" y1="215.25" x2="257.2" y2="215.25" stroke="#111" stroke-width="0.35"/>
<line x1="256.2" y1="214.52" x2="257.2" y2="214.52" stroke="#111" stroke-width="0.35"/>
<line x1="256.2" y1="213.88" x2="257.2" y2="213.88" stroke="#111" stroke-width="0.35"/>
<line x1="255.4" y1="213.3" x2="257.2" y2="213.3" stroke="#111" stroke-width="0.8"/>
<text x="251.7" y="215.1" font-size="5.0" text-anchor="end" font-weight="bold" fill="#000" stroke="#000" stroke-width="0.12">10</text>
<text x="253.1" y="213.1" font-size="3.1" text-anchor="start" font-weight="bold" fill="#000" stroke="#000" stroke-width="0.08">2</text>
<line x1="256.2" y1="209.51" x2="257.2" y2="209.51" stroke="#111" stroke-width="0.35"/>
<line x1="256.2" y1="207.29" x2="257.2" y2="207.29" stroke="#111" stroke-width="0.35"/>
<line x1="256.2" y1="205.71" x2="257.2" y2="205.71" stroke="#111" stroke-width="0.35"/>
<line x1="256.2" y1="204.49" x2="257.2" y2="204.49" stroke="#111" stroke-width="0.35"/>
<line x1="256.2" y1="203.5" x2="257.2" y2="203.5" stroke="#111" stroke-width="0.35"/>
<line x1="256.2" y1="202.65" x2="257.2" y2="202.65" stroke="#111" stroke-width="0.35"/>
<line x1="256.2" y1="201.92" x2="257.2" y2="201.92" stroke="#111" stroke-width="0.35"/>
<line x1="256.2" y1="201.28" x2="257.2" y2="201.28" stroke="#111" stroke-width="0.35"/>
<line x1="255.4" y1="200.7" x2="257.2" y2="200.7" stroke="#111" stroke-width="0.8"/>
<text x="251.7" y="202.5" font-size="5.0" text-anchor="end" font-weight="bold" fill="#000" stroke="#000" stroke-width="0.12">10</text>
<text x="253.1" y="200.5" font-size="3.1" text-anchor="start" font-weight="bold" fill="#000" stroke="#000" stroke-width="0.08">3</text>
<line x1="256.2" y1="196.91" x2="257.2" y2="196.91" stroke="#111" stroke-width="0.35"/>
<line x1="256.2" y1="194.69" x2="257.2" y2="194.69" stroke="#111" stroke-width="0.35"/>
<line x1="256.2" y1="193.11" x2="257.2" y2="193.11" stroke="#111" stroke-width="0.35"/>
<line x1="256.2" y1="191.89" x2="257.2" y2="191.89" stroke="#111" stroke-width="0.35"/>
<line x1="256.2" y1="190.9" x2="257.2" y2="190.9" stroke="#111" stroke-width="0.35"/>
<line x1="256.2" y1="190.05" x2="257.2" y2="190.05" stroke="#111" stroke-width="0.35"/>
<line x1="256.2" y1="189.32" x2="257.2" y2="189.32" stroke="#111" stroke-width="0.35"/>
<line x1="256.2" y1="188.68" x2="257.2" y2="188.68" stroke="#111" stroke-width="0.35"/>
<line x1="255.4" y1="188.1" x2="257.2" y2="188.1" stroke="#111" stroke-width="0.8"/>
<text x="251.7" y="189.9" font-size="5.0" text-anchor="end" font-weight="bold" fill="#000" stroke="#000" stroke-width="0.12">10</text>
<text x="253.1" y="187.9" font-size="3.1" text-anchor="start" font-weight="bold" fill="#000" stroke="#000" stroke-width="0.08">4</text>
<line x1="256.2" y1="184.31" x2="257.2" y2="184.31" stroke="#111" stroke-width="0.35"/>
<line x1="256.2" y1="182.09" x2="257.2" y2="182.09" stroke="#111" stroke-width="0.35"/>
<line x1="256.2" y1="180.51" x2="257.2" y2="180.51" stroke="#111" stroke-width="0.35"/>
<line x1="256.2" y1="179.29" x2="257.2" y2="179.29" stroke="#111" stroke-width="0.35"/>
<line x1="256.2" y1="178.3" x2="257.2" y2="178.3" stroke="#111" stroke-width="0.35"/>
<line x1="256.2" y1="177.45" x2="257.2" y2="177.45" stroke="#111" stroke-width="0.35"/>
<line x1="256.2" y1="176.72" x2="257.2" y2="176.72" stroke="#111" stroke-width="0.35"/>
<line x1="256.2" y1="176.08" x2="257.2" y2="176.08" stroke="#111" stroke-width="0.35"/>
<line x1="255.4" y1="175.5" x2="257.2" y2="175.5" stroke="#111" stroke-width="0.8"/>
<text x="251.7" y="177.3" font-size="5.0" text-anchor="end" font-weight="bold" fill="#000" stroke="#000" stroke-width="0.12">10</text>
<text x="253.1" y="175.3" font-size="3.1" text-anchor="start" font-weight="bold" fill="#000" stroke="#000" stroke-width="0.08">5</text>
<line x1="257.2" y1="247.4" x2="361" y2="247.4" stroke="#111" stroke-width="1.3"/>
<line x1="269" y1="247.4" x2="269" y2="249.2" stroke="#111" stroke-width="0.8"/>
<line x1="285" y1="247.4" x2="285" y2="249.2" stroke="#111" stroke-width="0.8"/>
<line x1="302.5" y1="247.4" x2="302.5" y2="249.2" stroke="#111" stroke-width="0.8"/>
<line x1="319.3" y1="247.4" x2="319.3" y2="249.2" stroke="#111" stroke-width="0.8"/>
<line x1="336.2" y1="247.4" x2="336.2" y2="249.2" stroke="#111" stroke-width="0.8"/>
<line x1="352.8" y1="247.4" x2="352.8" y2="249.2" stroke="#111" stroke-width="0.8"/>
<text x="311.2" y="161.3" font-size="5.8" text-anchor="middle" font-weight="normal" fill="#111" stroke="#111" stroke-width="0.2">pro-B</text>
<text x="277.5" y="170.7" font-size="5.2" text-anchor="middle" font-weight="bold" fill="#2a2a2a" stroke="#2a2a2a" stroke-width="0.13">ns</text>
<line x1="268.5" y1="174.5" x2="285.5" y2="174.5" stroke="#777" stroke-width="0.75"/>
<circle cx="308.4" cy="169.9" r="1.32" fill="#111"/>
<circle cx="313.2" cy="169.9" r="1.32" fill="#111"/>
<line x1="302" y1="174.5" x2="319.8" y2="174.5" stroke="#777" stroke-width="0.75"/>
<text x="344.5" y="170.7" font-size="5.2" text-anchor="middle" font-weight="bold" fill="#2a2a2a" stroke="#2a2a2a" stroke-width="0.13">ns</text>
<line x1="336" y1="174.5" x2="353" y2="174.5" stroke="#777" stroke-width="0.75"/>
<text x="269" y="256.4" font-size="5.8" text-anchor="middle" font-weight="bold" fill="#1a1a1a" stroke="#1a1a1a" stroke-width="0.14">d0</text>
<text x="285" y="256.4" font-size="5.8" text-anchor="middle" font-weight="bold" fill="#1a1a1a" stroke="#1a1a1a" stroke-width="0.14">d6</text>
<text x="302.5" y="256.4" font-size="5.8" text-anchor="middle" font-weight="bold" fill="#1a1a1a" stroke="#1a1a1a" stroke-width="0.14">d0</text>
<text x="319.3" y="256.4" font-size="5.8" text-anchor="middle" font-weight="bold" fill="#1a1a1a" stroke="#1a1a1a" stroke-width="0.14">d6</text>
<text x="336.2" y="256.4" font-size="5.8" text-anchor="middle" font-weight="bold" fill="#1a1a1a" stroke="#1a1a1a" stroke-width="0.14">d0</text>
<text x="352.8" y="256.4" font-size="5.8" text-anchor="middle" font-weight="bold" fill="#1a1a1a" stroke="#1a1a1a" stroke-width="0.14">d6</text>
<text x="275.2" y="267.5" font-size="5.9" text-anchor="middle" font-weight="bold" fill="#1a1a1a" stroke="#1a1a1a" stroke-width="0.15">ALL blasts</text>
<text x="311.6" y="267.5" font-size="5.9" text-anchor="middle" font-weight="bold" fill="#1a1a1a" stroke="#1a1a1a" stroke-width="0.15">B cells</text>
<text x="351.2" y="267.5" font-size="5.9" text-anchor="middle" font-weight="bold" fill="#1a1a1a" stroke="#1a1a1a" stroke-width="0.15">CD19- lympho</text>
<text x="240.4" y="212.6" font-size="6.0" text-anchor="middle" font-weight="bold" fill="#1a1a1a" transform="rotate(-90 240.4 212.6)" stroke="#1a1a1a" stroke-width="0.15">CD20 median FI</text>
<circle cx="268.99" cy="210.81" r="0.68" fill="none" stroke="#444" stroke-width="0.4"/>
<circle cx="270.91" cy="211.85" r="0.68" fill="none" stroke="#444" stroke-width="0.4"/>
<circle cx="266.78" cy="210.28" r="0.68" fill="none" stroke="#444" stroke-width="0.4"/>
<circle cx="270.74" cy="214.36" r="0.8" fill="#444"/>
<circle cx="269.74" cy="212.31" r="0.68" fill="none" stroke="#444" stroke-width="0.4"/>
<circle cx="269.23" cy="210.86" r="0.68" fill="none" stroke="#444" stroke-width="0.4"/>
<circle cx="272.05" cy="211.62" r="0.68" fill="none" stroke="#444" stroke-width="0.4"/>
<circle cx="269.77" cy="214.41" r="0.8" fill="#444"/>
<circle cx="271.01" cy="212.31" r="0.68" fill="none" stroke="#444" stroke-width="0.4"/>
<circle cx="267.36" cy="212.79" r="0.8" fill="#444"/>
<circle cx="262.5" cy="218.55" r="0.8" fill="#444"/>
<circle cx="264.5" cy="219.4" r="0.68" fill="none" stroke="#444" stroke-width="0.4"/>
<circle cx="266.5" cy="218.83" r="0.8" fill="#444"/>
<circle cx="268.5" cy="219.42" r="0.8" fill="#444"/>
<circle cx="270.5" cy="218.72" r="0.68" fill="none" stroke="#444" stroke-width="0.4"/>
<circle cx="272.5" cy="218.85" r="0.8" fill="#444"/>
<circle cx="274.5" cy="218.7" r="0.8" fill="#444"/>
<circle cx="266.8" cy="224" r="0.8" fill="#444"/>
<line x1="261.8" y1="217.5" x2="275.7" y2="217.5" stroke="#111" stroke-width="0.9"/>
<circle cx="282.82" cy="214.4" r="0.68" fill="none" stroke="#444" stroke-width="0.4"/>
<circle cx="286.77" cy="209.1" r="0.8" fill="#444"/>
<circle cx="281.79" cy="215.19" r="0.8" fill="#444"/>
<circle cx="286.95" cy="210.63" r="0.8" fill="#444"/>
<circle cx="282.51" cy="209.93" r="0.68" fill="none" stroke="#444" stroke-width="0.4"/>
<circle cx="283.57" cy="214.05" r="0.8" fill="#444"/>
<circle cx="284.47" cy="209.99" r="0.8" fill="#444"/>
<circle cx="288.93" cy="214.15" r="0.68" fill="none" stroke="#444" stroke-width="0.4"/>
<circle cx="283.04" cy="214.79" r="0.68" fill="none" stroke="#444" stroke-width="0.4"/>
<circle cx="286.57" cy="214.08" r="0.68" fill="none" stroke="#444" stroke-width="0.4"/>
<circle cx="285.7" cy="205.5" r="0.8" fill="#444"/>
<circle cx="280.5" cy="218" r="0.68" fill="none" stroke="#444" stroke-width="0.4"/>
<circle cx="283" cy="218.27" r="0.8" fill="#444"/>
<circle cx="286" cy="218.15" r="0.68" fill="none" stroke="#444" stroke-width="0.4"/>
<circle cx="289" cy="218.21" r="0.8" fill="#444"/>
<line x1="279.2" y1="216.3" x2="292.2" y2="216.3" stroke="#111" stroke-width="0.9"/>
<ellipse cx="302.8" cy="182.4" rx="6.75" ry="0.8" fill="#222"/>
<circle cx="302.78" cy="181.22" r="0.75" fill="#222"/>
<circle cx="303.29" cy="182.44" r="0.75" fill="#222"/>
<circle cx="307.06" cy="182.36" r="0.75" fill="#222"/>
<circle cx="302.4" cy="181.72" r="0.75" fill="#222"/>
<circle cx="307.06" cy="182.12" r="0.75" fill="#222"/>
<circle cx="301.24" cy="181.29" r="0.75" fill="#222"/>
<circle cx="297.49" cy="183.02" r="0.75" fill="#222"/>
<circle cx="304.51" cy="182.32" r="0.75" fill="#222"/>
<circle cx="304.17" cy="182.31" r="0.75" fill="#222"/>
<circle cx="305.08" cy="182.81" r="0.75" fill="#222"/>
<circle cx="308.82" cy="182.21" r="0.75" fill="#222"/>
<circle cx="302.93" cy="181.34" r="0.75" fill="#222"/>
<circle cx="296.97" cy="182.5" r="0.75" fill="#222"/>
<circle cx="305.53" cy="182.08" r="0.75" fill="#222"/>
<circle cx="307.32" cy="182.08" r="0.75" fill="#222"/>
<circle cx="301.13" cy="181.8" r="0.75" fill="#222"/>
<circle cx="306.18" cy="182.5" r="0.75" fill="#222"/>
<circle cx="299.18" cy="181.92" r="0.75" fill="#222"/>
<circle cx="303.48" cy="182.61" r="0.75" fill="#222"/>
<circle cx="306.88" cy="182.15" r="0.75" fill="#222"/>
<ellipse cx="302.8" cy="181.8" rx="2.2" ry="1" fill="#222"/>
<path d="M301.5 182.4 L302.4 186.4 L303.2 186.4 L304.1 182.4Z" fill="#222"/>
<circle cx="302.8" cy="186.4" r="0.9" fill="#222"/>
<line x1="296.85" y1="182.4" x2="308.75" y2="182.4" stroke="#999" stroke-width="0.5"/>
<ellipse cx="319.2" cy="183.5" rx="7" ry="0.8" fill="#222"/>
<circle cx="317.95" cy="184.4" r="0.75" fill="#222"/>
<circle cx="319.25" cy="183.42" r="0.75" fill="#222"/>
<circle cx="325.37" cy="184.09" r="0.75" fill="#222"/>
<circle cx="321.21" cy="183.62" r="0.75" fill="#222"/>
<circle cx="316.82" cy="183.07" r="0.75" fill="#222"/>
<circle cx="316.59" cy="182.89" r="0.75" fill="#222"/>
<circle cx="322.89" cy="183.13" r="0.75" fill="#222"/>
<circle cx="313.22" cy="183.32" r="0.75" fill="#222"/>
<circle cx="319.79" cy="182.47" r="0.75" fill="#222"/>
<circle cx="313.35" cy="183.48" r="0.75" fill="#222"/>
<circle cx="315.17" cy="183.55" r="0.75" fill="#222"/>
<circle cx="324.68" cy="182.93" r="0.75" fill="#222"/>
<circle cx="322.96" cy="183.04" r="0.75" fill="#222"/>
<circle cx="324.53" cy="182.97" r="0.75" fill="#222"/>
<circle cx="320.85" cy="183.05" r="0.75" fill="#222"/>
<circle cx="321.75" cy="182.88" r="0.75" fill="#222"/>
<circle cx="315.46" cy="183.07" r="0.75" fill="#222"/>
<circle cx="321.37" cy="182.68" r="0.75" fill="#222"/>
<circle cx="314.02" cy="183.72" r="0.75" fill="#222"/>
<circle cx="315.06" cy="184.34" r="0.75" fill="#222"/>
<ellipse cx="319.2" cy="182.9" rx="2.2" ry="1" fill="#222"/>
<path d="M317.9 183.5 L318.8 187.5 L319.6 187.5 L320.5 183.5Z" fill="#222"/>
<circle cx="319.2" cy="187.5" r="0.9" fill="#222"/>
<line x1="313" y1="183.5" x2="325.4" y2="183.5" stroke="#999" stroke-width="0.5"/>
<ellipse cx="336" cy="216.3" rx="6.5" ry="0.72" fill="#222"/>
<circle cx="340.97" cy="216.48" r="0.75" fill="#222"/>
<circle cx="337.87" cy="215.73" r="0.75" fill="#222"/>
<circle cx="339.44" cy="216.91" r="0.75" fill="#222"/>
<circle cx="336.75" cy="216.28" r="0.75" fill="#222"/>
<circle cx="335.06" cy="216.68" r="0.75" fill="#222"/>
<circle cx="333.82" cy="215.72" r="0.75" fill="#222"/>
<circle cx="341.21" cy="216.57" r="0.75" fill="#222"/>
<circle cx="330.66" cy="216.18" r="0.75" fill="#222"/>
<circle cx="331.43" cy="216.25" r="0.75" fill="#222"/>
<circle cx="339.72" cy="215.4" r="0.75" fill="#222"/>
<circle cx="335.36" cy="215.84" r="0.75" fill="#222"/>
<circle cx="330.17" cy="215.84" r="0.75" fill="#222"/>
<circle cx="341.25" cy="216.69" r="0.75" fill="#222"/>
<circle cx="341.77" cy="215.84" r="0.75" fill="#222"/>
<circle cx="331.22" cy="216.37" r="0.75" fill="#222"/>
<circle cx="337.73" cy="216.36" r="0.75" fill="#222"/>
<circle cx="330.19" cy="216.55" r="0.75" fill="#222"/>
<circle cx="330.06" cy="216.21" r="0.75" fill="#222"/>
<ellipse cx="336" cy="215.3" rx="2.2" ry="1.4" fill="#222"/>
<line x1="330.3" y1="216.3" x2="341.7" y2="216.3" stroke="#999" stroke-width="0.5"/>
<ellipse cx="353.1" cy="217" rx="6.7" ry="0.72" fill="#222"/>
<circle cx="358.88" cy="216.79" r="0.75" fill="#222"/>
<circle cx="347.99" cy="217.16" r="0.75" fill="#222"/>
<circle cx="347.12" cy="216.83" r="0.75" fill="#222"/>
<circle cx="355.82" cy="217.04" r="0.75" fill="#222"/>
<circle cx="349.22" cy="217.73" r="0.75" fill="#222"/>
<circle cx="347.52" cy="217.11" r="0.75" fill="#222"/>
<circle cx="357.51" cy="216.3" r="0.75" fill="#222"/>
<circle cx="355.95" cy="217.55" r="0.75" fill="#222"/>
<circle cx="355.69" cy="217.32" r="0.75" fill="#222"/>
<circle cx="352.61" cy="217.31" r="0.75" fill="#222"/>
<circle cx="358.86" cy="216.86" r="0.75" fill="#222"/>
<circle cx="355.79" cy="217.08" r="0.75" fill="#222"/>
<circle cx="354.97" cy="217.01" r="0.75" fill="#222"/>
<circle cx="357.04" cy="217.34" r="0.75" fill="#222"/>
<circle cx="355.95" cy="217.19" r="0.75" fill="#222"/>
<circle cx="348.96" cy="217.33" r="0.75" fill="#222"/>
<circle cx="347.64" cy="216.6" r="0.75" fill="#222"/>
<circle cx="351.46" cy="216.57" r="0.75" fill="#222"/>
<ellipse cx="353.1" cy="216" rx="2.2" ry="1.4" fill="#222"/>
<line x1="347.2" y1="217" x2="359" y2="217" stroke="#999" stroke-width="0.5"/>
<line x1="395.6" y1="175.2" x2="395.6" y2="248" stroke="#111" stroke-width="1.4"/>
<line x1="393.8" y1="238.5" x2="395.6" y2="238.5" stroke="#111" stroke-width="0.8"/>
<text x="390.1" y="240.3" font-size="5.0" text-anchor="end" font-weight="bold" fill="#000" stroke="#000" stroke-width="0.12">10</text>
<text x="391.5" y="238.3" font-size="3.1" text-anchor="start" font-weight="bold" fill="#000" stroke="#000" stroke-width="0.08">0</text>
<line x1="394.6" y1="234.71" x2="395.6" y2="234.71" stroke="#111" stroke-width="0.35"/>
<line x1="394.6" y1="232.49" x2="395.6" y2="232.49" stroke="#111" stroke-width="0.35"/>
<line x1="394.6" y1="230.91" x2="395.6" y2="230.91" stroke="#111" stroke-width="0.35"/>
<line x1="394.6" y1="229.69" x2="395.6" y2="229.69" stroke="#111" stroke-width="0.35"/>
<line x1="394.6" y1="228.7" x2="395.6" y2="228.7" stroke="#111" stroke-width="0.35"/>
<line x1="394.6" y1="227.85" x2="395.6" y2="227.85" stroke="#111" stroke-width="0.35"/>
<line x1="394.6" y1="227.12" x2="395.6" y2="227.12" stroke="#111" stroke-width="0.35"/>
<line x1="394.6" y1="226.48" x2="395.6" y2="226.48" stroke="#111" stroke-width="0.35"/>
<line x1="393.8" y1="225.9" x2="395.6" y2="225.9" stroke="#111" stroke-width="0.8"/>
<text x="390.1" y="227.7" font-size="5.0" text-anchor="end" font-weight="bold" fill="#000" stroke="#000" stroke-width="0.12">10</text>
<text x="391.5" y="225.7" font-size="3.1" text-anchor="start" font-weight="bold" fill="#000" stroke="#000" stroke-width="0.08">1</text>
<line x1="394.6" y1="222.11" x2="395.6" y2="222.11" stroke="#111" stroke-width="0.35"/>
<line x1="394.6" y1="219.89" x2="395.6" y2="219.89" stroke="#111" stroke-width="0.35"/>
<line x1="394.6" y1="218.31" x2="395.6" y2="218.31" stroke="#111" stroke-width="0.35"/>
<line x1="394.6" y1="217.09" x2="395.6" y2="217.09" stroke="#111" stroke-width="0.35"/>
<line x1="394.6" y1="216.1" x2="395.6" y2="216.1" stroke="#111" stroke-width="0.35"/>
<line x1="394.6" y1="215.25" x2="395.6" y2="215.25" stroke="#111" stroke-width="0.35"/>
<line x1="394.6" y1="214.52" x2="395.6" y2="214.52" stroke="#111" stroke-width="0.35"/>
<line x1="394.6" y1="213.88" x2="395.6" y2="213.88" stroke="#111" stroke-width="0.35"/>
<line x1="393.8" y1="213.3" x2="395.6" y2="213.3" stroke="#111" stroke-width="0.8"/>
<text x="390.1" y="215.1" font-size="5.0" text-anchor="end" font-weight="bold" fill="#000" stroke="#000" stroke-width="0.12">10</text>
<text x="391.5" y="213.1" font-size="3.1" text-anchor="start" font-weight="bold" fill="#000" stroke="#000" stroke-width="0.08">2</text>
<line x1="394.6" y1="209.51" x2="395.6" y2="209.51" stroke="#111" stroke-width="0.35"/>
<line x1="394.6" y1="207.29" x2="395.6" y2="207.29" stroke="#111" stroke-width="0.35"/>
<line x1="394.6" y1="205.71" x2="395.6" y2="205.71" stroke="#111" stroke-width="0.35"/>
<line x1="394.6" y1="204.49" x2="395.6" y2="204.49" stroke="#111" stroke-width="0.35"/>
<line x1="394.6" y1="203.5" x2="395.6" y2="203.5" stroke="#111" stroke-width="0.35"/>
<line x1="394.6" y1="202.65" x2="395.6" y2="202.65" stroke="#111" stroke-width="0.35"/>
<line x1="394.6" y1="201.92" x2="395.6" y2="201.92" stroke="#111" stroke-width="0.35"/>
<line x1="394.6" y1="201.28" x2="395.6" y2="201.28" stroke="#111" stroke-width="0.35"/>
<line x1="393.8" y1="200.7" x2="395.6" y2="200.7" stroke="#111" stroke-width="0.8"/>
<text x="390.1" y="202.5" font-size="5.0" text-anchor="end" font-weight="bold" fill="#000" stroke="#000" stroke-width="0.12">10</text>
<text x="391.5" y="200.5" font-size="3.1" text-anchor="start" font-weight="bold" fill="#000" stroke="#000" stroke-width="0.08">3</text>
<line x1="394.6" y1="196.91" x2="395.6" y2="196.91" stroke="#111" stroke-width="0.35"/>
<line x1="394.6" y1="194.69" x2="395.6" y2="194.69" stroke="#111" stroke-width="0.35"/>
<line x1="394.6" y1="193.11" x2="395.6" y2="193.11" stroke="#111" stroke-width="0.35"/>
<line x1="394.6" y1="191.89" x2="395.6" y2="191.89" stroke="#111" stroke-width="0.35"/>
<line x1="394.6" y1="190.9" x2="395.6" y2="190.9" stroke="#111" stroke-width="0.35"/>
<line x1="394.6" y1="190.05" x2="395.6" y2="190.05" stroke="#111" stroke-width="0.35"/>
<line x1="394.6" y1="189.32" x2="395.6" y2="189.32" stroke="#111" stroke-width="0.35"/>
<line x1="394.6" y1="188.68" x2="395.6" y2="188.68" stroke="#111" stroke-width="0.35"/>
<line x1="393.8" y1="188.1" x2="395.6" y2="188.1" stroke="#111" stroke-width="0.8"/>
<text x="390.1" y="189.9" font-size="5.0" text-anchor="end" font-weight="bold" fill="#000" stroke="#000" stroke-width="0.12">10</text>
<text x="391.5" y="187.9" font-size="3.1" text-anchor="start" font-weight="bold" fill="#000" stroke="#000" stroke-width="0.08">4</text>
<line x1="394.6" y1="184.31" x2="395.6" y2="184.31" stroke="#111" stroke-width="0.35"/>
<line x1="394.6" y1="182.09" x2="395.6" y2="182.09" stroke="#111" stroke-width="0.35"/>
<line x1="394.6" y1="180.51" x2="395.6" y2="180.51" stroke="#111" stroke-width="0.35"/>
<line x1="394.6" y1="179.29" x2="395.6" y2="179.29" stroke="#111" stroke-width="0.35"/>
<line x1="394.6" y1="178.3" x2="395.6" y2="178.3" stroke="#111" stroke-width="0.35"/>
<line x1="394.6" y1="177.45" x2="395.6" y2="177.45" stroke="#111" stroke-width="0.35"/>
<line x1="394.6" y1="176.72" x2="395.6" y2="176.72" stroke="#111" stroke-width="0.35"/>
<line x1="394.6" y1="176.08" x2="395.6" y2="176.08" stroke="#111" stroke-width="0.35"/>
<line x1="393.8" y1="175.5" x2="395.6" y2="175.5" stroke="#111" stroke-width="0.8"/>
<text x="390.1" y="177.3" font-size="5.0" text-anchor="end" font-weight="bold" fill="#000" stroke="#000" stroke-width="0.12">10</text>
<text x="391.5" y="175.3" font-size="3.1" text-anchor="start" font-weight="bold" fill="#000" stroke="#000" stroke-width="0.08">5</text>
<line x1="395.6" y1="247.4" x2="503.8" y2="247.4" stroke="#111" stroke-width="1.3"/>
<line x1="408.8" y1="247.4" x2="408.8" y2="249.2" stroke="#111" stroke-width="0.8"/>
<line x1="425" y1="247.4" x2="425" y2="249.2" stroke="#111" stroke-width="0.8"/>
<line x1="441.3" y1="247.4" x2="441.3" y2="249.2" stroke="#111" stroke-width="0.8"/>
<line x1="458" y1="247.4" x2="458" y2="249.2" stroke="#111" stroke-width="0.8"/>
<line x1="475" y1="247.4" x2="475" y2="249.2" stroke="#111" stroke-width="0.8"/>
<line x1="491.5" y1="247.4" x2="491.5" y2="249.2" stroke="#111" stroke-width="0.8"/>
<text x="449.6" y="161.3" font-size="5.8" text-anchor="middle" font-weight="normal" fill="#111" stroke="#111" stroke-width="0.2">c-/pre-B</text>
<circle cx="408.8" cy="169.9" r="1.32" fill="#111"/>
<circle cx="413.6" cy="169.9" r="1.32" fill="#111"/>
<circle cx="418.4" cy="169.9" r="1.32" fill="#111"/>
<circle cx="423.2" cy="169.9" r="1.32" fill="#111"/>
<line x1="407" y1="174.5" x2="424.3" y2="174.5" stroke="#777" stroke-width="0.75"/>
<circle cx="442.8" cy="169.9" r="1.32" fill="#111"/>
<circle cx="447.6" cy="169.9" r="1.32" fill="#111"/>
<circle cx="452.4" cy="169.9" r="1.32" fill="#111"/>
<circle cx="457.2" cy="169.9" r="1.32" fill="#111"/>
<line x1="441.2" y1="174.5" x2="458.9" y2="174.5" stroke="#777" stroke-width="0.75"/>
<circle cx="484.5" cy="169.9" r="1.32" fill="#111"/>
<line x1="475.5" y1="174.5" x2="493.5" y2="174.5" stroke="#777" stroke-width="0.75"/>
<text x="408.8" y="256.4" font-size="5.8" text-anchor="middle" font-weight="bold" fill="#1a1a1a" stroke="#1a1a1a" stroke-width="0.14">d0</text>
<text x="425" y="256.4" font-size="5.8" text-anchor="middle" font-weight="bold" fill="#1a1a1a" stroke="#1a1a1a" stroke-width="0.14">d6</text>
<text x="441.3" y="256.4" font-size="5.8" text-anchor="middle" font-weight="bold" fill="#1a1a1a" stroke="#1a1a1a" stroke-width="0.14">d0</text>
<text x="458" y="256.4" font-size="5.8" text-anchor="middle" font-weight="bold" fill="#1a1a1a" stroke="#1a1a1a" stroke-width="0.14">d6</text>
<text x="475" y="256.4" font-size="5.8" text-anchor="middle" font-weight="bold" fill="#1a1a1a" stroke="#1a1a1a" stroke-width="0.14">d0</text>
<text x="491.5" y="256.4" font-size="5.8" text-anchor="middle" font-weight="bold" fill="#1a1a1a" stroke="#1a1a1a" stroke-width="0.14">d6</text>
<text x="414.3" y="267.5" font-size="5.9" text-anchor="middle" font-weight="bold" fill="#1a1a1a" stroke="#1a1a1a" stroke-width="0.15">ALL blasts</text>
<text x="450" y="267.5" font-size="5.9" text-anchor="middle" font-weight="bold" fill="#1a1a1a" stroke="#1a1a1a" stroke-width="0.15">B cells</text>
<text x="490" y="267.5" font-size="5.9" text-anchor="middle" font-weight="bold" fill="#1a1a1a" stroke="#1a1a1a" stroke-width="0.15">CD19- lympho</text>
<text x="380.2" y="212.6" font-size="6.0" text-anchor="middle" font-weight="bold" fill="#1a1a1a" transform="rotate(-90 380.2 212.6)" stroke="#1a1a1a" stroke-width="0.15">CD20 median FI</text>
<circle cx="408.38" cy="184.05" r="0.72" fill="none" stroke="#222" stroke-width="0.4"/>
<circle cx="408.91" cy="189.4" r="0.85" fill="#222"/>
<circle cx="408.24" cy="195.93" r="0.85" fill="#222"/>
<circle cx="407.24" cy="189.95" r="0.85" fill="#222"/>
<circle cx="408.86" cy="203.65" r="0.85" fill="#222"/>
<circle cx="408.85" cy="194.39" r="0.72" fill="none" stroke="#222" stroke-width="0.4"/>
<circle cx="406.69" cy="181.99" r="0.72" fill="none" stroke="#222" stroke-width="0.4"/>
<circle cx="409.69" cy="197.73" r="0.85" fill="#222"/>
<circle cx="409.04" cy="188.63" r="0.85" fill="#222"/>
<circle cx="408.07" cy="204.45" r="0.72" fill="none" stroke="#222" stroke-width="0.4"/>
<circle cx="409.06" cy="195.23" r="0.72" fill="none" stroke="#222" stroke-width="0.4"/>
<circle cx="406.76" cy="191" r="0.72" fill="none" stroke="#222" stroke-width="0.4"/>
<circle cx="409.31" cy="189.73" r="0.85" fill="#222"/>
<circle cx="408.41" cy="195.24" r="0.85" fill="#222"/>
<circle cx="409.34" cy="200.28" r="0.85" fill="#222"/>
<circle cx="406.65" cy="180.54" r="0.85" fill="#222"/>
<circle cx="406.56" cy="190.85" r="0.85" fill="#222"/>
<circle cx="407.98" cy="200.49" r="0.85" fill="#222"/>
<circle cx="409.3" cy="181.54" r="0.85" fill="#222"/>
<circle cx="409.07" cy="200.39" r="0.85" fill="#222"/>
<circle cx="409.22" cy="194.51" r="0.85" fill="#222"/>
<circle cx="406.6" cy="201.35" r="0.72" fill="none" stroke="#222" stroke-width="0.4"/>
<circle cx="408.95" cy="197.27" r="0.85" fill="#222"/>
<circle cx="409.42" cy="189" r="0.85" fill="#222"/>
<circle cx="405.77" cy="194.07" r="0.85" fill="#222"/>
<circle cx="408.91" cy="185.41" r="0.72" fill="none" stroke="#222" stroke-width="0.4"/>
<circle cx="408.7" cy="203.33" r="0.85" fill="#222"/>
<circle cx="406.43" cy="195.37" r="0.85" fill="#222"/>
<circle cx="408.38" cy="191.9" r="0.85" fill="#222"/>
<circle cx="406.31" cy="186.74" r="0.85" fill="#222"/>
<circle cx="409.73" cy="212.82" r="0.85" fill="#222"/>
<circle cx="404.05" cy="218.13" r="0.72" fill="none" stroke="#222" stroke-width="0.4"/>
<circle cx="405.78" cy="220.25" r="0.85" fill="#222"/>
<circle cx="410.04" cy="213.1" r="0.85" fill="#222"/>
<circle cx="407.88" cy="208.27" r="0.85" fill="#222"/>
<circle cx="405.11" cy="211.17" r="0.85" fill="#222"/>
<circle cx="407.94" cy="213.79" r="0.72" fill="none" stroke="#222" stroke-width="0.4"/>
<circle cx="407.2" cy="221.95" r="0.85" fill="#222"/>
<circle cx="407.34" cy="215.76" r="0.85" fill="#222"/>
<circle cx="408.38" cy="215.15" r="0.72" fill="none" stroke="#222" stroke-width="0.4"/>
<circle cx="406.62" cy="205.35" r="0.85" fill="#222"/>
<circle cx="402.97" cy="219.72" r="0.85" fill="#222"/>
<circle cx="407.51" cy="209.45" r="0.72" fill="none" stroke="#222" stroke-width="0.4"/>
<circle cx="409.14" cy="221.09" r="0.85" fill="#222"/>
<circle cx="409.92" cy="221.38" r="0.85" fill="#222"/>
<circle cx="407.35" cy="208.42" r="0.85" fill="#222"/>
<circle cx="407.04" cy="205.87" r="0.72" fill="none" stroke="#222" stroke-width="0.4"/>
<circle cx="408.12" cy="212.79" r="0.85" fill="#222"/>
<circle cx="411.79" cy="206.09" r="0.85" fill="#222"/>
<circle cx="408.11" cy="207.04" r="0.85" fill="#222"/>
<circle cx="409.38" cy="214.6" r="0.85" fill="#222"/>
<circle cx="408.96" cy="216.39" r="0.85" fill="#222"/>
<circle cx="406.99" cy="207.72" r="0.85" fill="#222"/>
<circle cx="412.23" cy="208.77" r="0.85" fill="#222"/>
<circle cx="405.82" cy="210.98" r="0.72" fill="none" stroke="#222" stroke-width="0.4"/>
<circle cx="411.35" cy="219.23" r="0.85" fill="#222"/>
<circle cx="403.77" cy="217.06" r="0.85" fill="#222"/>
<circle cx="409.05" cy="205.95" r="0.85" fill="#222"/>
<circle cx="404.68" cy="220.97" r="0.85" fill="#222"/>
<circle cx="408.36" cy="215.05" r="0.85" fill="#222"/>
<circle cx="408.13" cy="210.51" r="0.85" fill="#222"/>
<circle cx="407.04" cy="213.18" r="0.72" fill="none" stroke="#222" stroke-width="0.4"/>
<circle cx="406.39" cy="207.43" r="0.85" fill="#222"/>
<circle cx="407.68" cy="217.19" r="0.85" fill="#222"/>
<circle cx="407.3" cy="220.77" r="0.72" fill="none" stroke="#222" stroke-width="0.4"/>
<circle cx="404.94" cy="219.73" r="0.72" fill="none" stroke="#222" stroke-width="0.4"/>
<circle cx="408.58" cy="212.6" r="0.85" fill="#222"/>
<circle cx="403.77" cy="219.32" r="0.85" fill="#222"/>
<circle cx="408.34" cy="210.78" r="0.72" fill="none" stroke="#222" stroke-width="0.4"/>
<circle cx="409.53" cy="215.68" r="0.72" fill="none" stroke="#222" stroke-width="0.4"/>
<circle cx="406.36" cy="205.96" r="0.85" fill="#222"/>
<circle cx="409.01" cy="207.46" r="0.72" fill="none" stroke="#222" stroke-width="0.4"/>
<circle cx="409.07" cy="212" r="0.72" fill="none" stroke="#222" stroke-width="0.4"/>
<circle cx="406.22" cy="219.27" r="0.85" fill="#222"/>
<circle cx="407.13" cy="213.35" r="0.85" fill="#222"/>
<circle cx="405.91" cy="206.94" r="0.85" fill="#222"/>
<circle cx="408.24" cy="220.22" r="0.85" fill="#222"/>
<circle cx="408.17" cy="213.12" r="0.72" fill="none" stroke="#222" stroke-width="0.4"/>
<circle cx="406.77" cy="208.43" r="0.85" fill="#222"/>
<circle cx="406.25" cy="221.97" r="0.85" fill="#222"/>
<circle cx="408.43" cy="209.92" r="0.72" fill="none" stroke="#222" stroke-width="0.4"/>
<circle cx="408.14" cy="217.35" r="0.72" fill="none" stroke="#222" stroke-width="0.4"/>
<circle cx="405.57" cy="205.27" r="0.85" fill="#222"/>
<circle cx="409.05" cy="207.38" r="0.85" fill="#222"/>
<circle cx="403.22" cy="213.95" r="0.85" fill="#222"/>
<circle cx="407.6" cy="226" r="0.72" fill="none" stroke="#222" stroke-width="0.4"/>
<line x1="400.6" y1="210" x2="414.5" y2="210" stroke="#111" stroke-width="1.0"/>
<circle cx="424.61" cy="183.31" r="0.85" fill="#222"/>
<circle cx="425.56" cy="183.09" r="0.85" fill="#222"/>
<circle cx="425.36" cy="186" r="0.85" fill="#222"/>
<circle cx="426.61" cy="181.34" r="0.85" fill="#222"/>
<circle cx="426.53" cy="181.05" r="0.72" fill="none" stroke="#222" stroke-width="0.4"/>
<circle cx="427.76" cy="180.39" r="0.85" fill="#222"/>
<circle cx="423.83" cy="181.51" r="0.85" fill="#222"/>
<circle cx="428.11" cy="187" r="0.85" fill="#222"/>
<circle cx="427.04" cy="177.12" r="0.85" fill="#222"/>
<circle cx="424.93" cy="187.24" r="0.72" fill="none" stroke="#222" stroke-width="0.4"/>
<circle cx="423.7" cy="183.78" r="0.85" fill="#222"/>
<circle cx="424.1" cy="177.3" r="0.85" fill="#222"/>
<circle cx="424.47" cy="176.74" r="0.85" fill="#222"/>
<circle cx="421.98" cy="185.43" r="0.85" fill="#222"/>
<circle cx="427.34" cy="185.81" r="0.85" fill="#222"/>
<circle cx="427.62" cy="176.9" r="0.85" fill="#222"/>
<circle cx="425.25" cy="184.3" r="0.72" fill="none" stroke="#222" stroke-width="0.4"/>
<circle cx="423.62" cy="187.13" r="0.85" fill="#222"/>
<circle cx="425.17" cy="182.48" r="0.85" fill="#222"/>
<circle cx="424.29" cy="179.81" r="0.85" fill="#222"/>
<circle cx="424.18" cy="200.3" r="0.72" fill="none" stroke="#222" stroke-width="0.4"/>
<circle cx="423.59" cy="199.29" r="0.72" fill="none" stroke="#222" stroke-width="0.4"/>
<circle cx="426.26" cy="197.76" r="0.85" fill="#222"/>
<circle cx="424.06" cy="196.86" r="0.85" fill="#222"/>
<circle cx="424.91" cy="190.82" r="0.85" fill="#222"/>
<circle cx="423.6" cy="190.5" r="0.85" fill="#222"/>
<circle cx="424.14" cy="195.72" r="0.85" fill="#222"/>
<circle cx="424.12" cy="192.62" r="0.72" fill="none" stroke="#222" stroke-width="0.4"/>
<circle cx="423.48" cy="198.38" r="0.85" fill="#222"/>
<circle cx="425.89" cy="199.59" r="0.85" fill="#222"/>
<circle cx="425.02" cy="200.36" r="0.85" fill="#222"/>
<circle cx="423.84" cy="201.5" r="0.85" fill="#222"/>
<circle cx="424.67" cy="198.41" r="0.72" fill="none" stroke="#222" stroke-width="0.4"/>
<circle cx="425.16" cy="196.91" r="0.85" fill="#222"/>
<circle cx="424.19" cy="192.6" r="0.85" fill="#222"/>
<circle cx="423.91" cy="197.74" r="0.85" fill="#222"/>
<circle cx="424.43" cy="199.13" r="0.85" fill="#222"/>
<circle cx="423.24" cy="194.7" r="0.72" fill="none" stroke="#222" stroke-width="0.4"/>
<circle cx="425.99" cy="214.79" r="0.85" fill="#222"/>
<circle cx="424.77" cy="220.83" r="0.85" fill="#222"/>
<circle cx="423.26" cy="209.22" r="0.85" fill="#222"/>
<circle cx="421.26" cy="213.16" r="0.85" fill="#222"/>
<circle cx="422.77" cy="213.16" r="0.85" fill="#222"/>
<circle cx="425.25" cy="210.15" r="0.85" fill="#222"/>
<circle cx="428.14" cy="209.16" r="0.85" fill="#222"/>
<circle cx="424.09" cy="216.45" r="0.85" fill="#222"/>
<circle cx="425.73" cy="218.5" r="0.72" fill="none" stroke="#222" stroke-width="0.4"/>
<circle cx="424.93" cy="217.41" r="0.72" fill="none" stroke="#222" stroke-width="0.4"/>
<circle cx="426.19" cy="217.99" r="0.85" fill="#222"/>
<circle cx="426.56" cy="208.78" r="0.72" fill="none" stroke="#222" stroke-width="0.4"/>
<circle cx="424.87" cy="217.72" r="0.72" fill="none" stroke="#222" stroke-width="0.4"/>
<circle cx="425.27" cy="220.48" r="0.72" fill="none" stroke="#222" stroke-width="0.4"/>
<circle cx="425.15" cy="217.97" r="0.85" fill="#222"/>
<circle cx="427.17" cy="212.31" r="0.85" fill="#222"/>
<circle cx="424.55" cy="217.12" r="0.85" fill="#222"/>
<circle cx="423.83" cy="214.77" r="0.85" fill="#222"/>
<circle cx="424.33" cy="218.02" r="0.72" fill="none" stroke="#222" stroke-width="0.4"/>
<circle cx="426.74" cy="213.22" r="0.72" fill="none" stroke="#222" stroke-width="0.4"/>
<circle cx="423.56" cy="209.03" r="0.85" fill="#222"/>
<circle cx="425.26" cy="208.23" r="0.85" fill="#222"/>
<circle cx="426.52" cy="218.81" r="0.85" fill="#222"/>
<circle cx="427.75" cy="209.86" r="0.85" fill="#222"/>
<circle cx="424.18" cy="207.15" r="0.72" fill="none" stroke="#222" stroke-width="0.4"/>
<circle cx="422.07" cy="213.96" r="0.85" fill="#222"/>
<circle cx="427.96" cy="214.54" r="0.72" fill="none" stroke="#222" stroke-width="0.4"/>
<circle cx="427.63" cy="214.24" r="0.85" fill="#222"/>
<circle cx="425.66" cy="212.01" r="0.85" fill="#222"/>
<circle cx="425.21" cy="220.27" r="0.85" fill="#222"/>
<circle cx="425.81" cy="208.39" r="0.85" fill="#222"/>
<circle cx="424.2" cy="214.86" r="0.85" fill="#222"/>
<circle cx="425.41" cy="220.5" r="0.72" fill="none" stroke="#222" stroke-width="0.4"/>
<circle cx="424.73" cy="215.74" r="0.85" fill="#222"/>
<circle cx="424.8" cy="228" r="0.85" fill="#222"/>
<line x1="417.9" y1="201.8" x2="431.8" y2="201.8" stroke="#111" stroke-width="1.0"/>
<ellipse cx="441.4" cy="182.8" rx="5.75" ry="1.12" fill="#111"/>
<circle cx="446.23" cy="182.46" r="0.85" fill="#111"/>
<circle cx="440.77" cy="182.41" r="0.85" fill="#111"/>
<circle cx="436.61" cy="182.44" r="0.85" fill="#111"/>
<circle cx="445.92" cy="183.17" r="0.85" fill="#111"/>
<circle cx="445.59" cy="182.32" r="0.85" fill="#111"/>
<circle cx="444.72" cy="182.49" r="0.85" fill="#111"/>
<circle cx="446.23" cy="183.7" r="0.85" fill="#111"/>
<circle cx="441.35" cy="183.3" r="0.85" fill="#111"/>
<circle cx="440.24" cy="182.64" r="0.85" fill="#111"/>
<circle cx="443.69" cy="182.91" r="0.85" fill="#111"/>
<circle cx="445.34" cy="183.39" r="0.85" fill="#111"/>
<circle cx="441.24" cy="182.94" r="0.85" fill="#111"/>
<circle cx="437.97" cy="182.3" r="0.85" fill="#111"/>
<circle cx="439.91" cy="183.52" r="0.85" fill="#111"/>
<circle cx="439.2" cy="184.52" r="0.85" fill="#111"/>
<circle cx="442.05" cy="183.45" r="0.85" fill="#111"/>
<circle cx="440.2" cy="183.37" r="0.85" fill="#111"/>
<circle cx="440.38" cy="183.13" r="0.85" fill="#111"/>
<circle cx="444.82" cy="182.94" r="0.85" fill="#111"/>
<circle cx="439.84" cy="182.81" r="0.85" fill="#111"/>
<circle cx="439.13" cy="183.26" r="0.85" fill="#111"/>
<circle cx="438.64" cy="183.81" r="0.85" fill="#111"/>
<circle cx="439.73" cy="183.03" r="0.85" fill="#111"/>
<circle cx="437.79" cy="182.72" r="0.85" fill="#111"/>
<circle cx="438.98" cy="182.5" r="0.85" fill="#111"/>
<circle cx="444.92" cy="183.33" r="0.85" fill="#111"/>
<circle cx="444.93" cy="183.35" r="0.85" fill="#111"/>
<circle cx="444.6" cy="183.15" r="0.85" fill="#111"/>
<ellipse cx="441.4" cy="181.3" rx="2.2" ry="1.9" fill="#111"/>
<path d="M440.1 182.8 L441 187.8 L441.8 187.8 L442.7 182.8Z" fill="#111"/>
<circle cx="441.4" cy="187.8" r="0.9" fill="#111"/>
<line x1="436.45" y1="182.8" x2="446.35" y2="182.8" stroke="#999" stroke-width="0.5"/>
<ellipse cx="458.3" cy="184.3" rx="5.5" ry="1.12" fill="#111"/>
<circle cx="460.52" cy="184.85" r="0.85" fill="#111"/>
<circle cx="457.07" cy="184.76" r="0.85" fill="#111"/>
<circle cx="462.81" cy="184.18" r="0.85" fill="#111"/>
<circle cx="458.35" cy="184.41" r="0.85" fill="#111"/>
<circle cx="454.61" cy="185.06" r="0.85" fill="#111"/>
<circle cx="460.36" cy="184.2" r="0.85" fill="#111"/>
<circle cx="459.18" cy="185.8" r="0.85" fill="#111"/>
<circle cx="456.98" cy="184.32" r="0.85" fill="#111"/>
<circle cx="455.43" cy="185.26" r="0.85" fill="#111"/>
<circle cx="462.02" cy="184.9" r="0.85" fill="#111"/>
<circle cx="458.73" cy="184.89" r="0.85" fill="#111"/>
<circle cx="456" cy="184.39" r="0.85" fill="#111"/>
<circle cx="459.88" cy="183.62" r="0.85" fill="#111"/>
<circle cx="458.98" cy="184.04" r="0.85" fill="#111"/>
<circle cx="454.16" cy="184.95" r="0.85" fill="#111"/>
<circle cx="455.07" cy="184.67" r="0.85" fill="#111"/>
<circle cx="459.93" cy="183.8" r="0.85" fill="#111"/>
<circle cx="454.39" cy="183.69" r="0.85" fill="#111"/>
<circle cx="458.3" cy="184.05" r="0.85" fill="#111"/>
<circle cx="456.27" cy="184.85" r="0.85" fill="#111"/>
<circle cx="455.56" cy="184.54" r="0.85" fill="#111"/>
<circle cx="454.56" cy="184.18" r="0.85" fill="#111"/>
<circle cx="457.33" cy="183.74" r="0.85" fill="#111"/>
<circle cx="462.39" cy="184.53" r="0.85" fill="#111"/>
<circle cx="461.91" cy="182.87" r="0.85" fill="#111"/>
<circle cx="454.62" cy="184.27" r="0.85" fill="#111"/>
<circle cx="460.1" cy="184.47" r="0.85" fill="#111"/>
<circle cx="459.94" cy="183.87" r="0.85" fill="#111"/>
<ellipse cx="458.3" cy="183.05" rx="2.2" ry="1.65" fill="#111"/>
<path d="M457 184.3 L457.9 188.8 L458.7 188.8 L459.6 184.3Z" fill="#111"/>
<circle cx="458.3" cy="188.8" r="0.9" fill="#111"/>
<line x1="453.6" y1="184.3" x2="463" y2="184.3" stroke="#999" stroke-width="0.5"/>
<ellipse cx="475.2" cy="216.2" rx="6.2" ry="2.0" fill="#111"/>
<path d="M471.8 215.2 Q474 213.7 474.3 210.7 L476.1 210.7 Q476.4 213.7 478.6 215.2Z" fill="#111"/>
<circle cx="475.2" cy="209.5" r="0.9" fill="#111"/>
<line x1="470.2" y1="216.4" x2="480.2" y2="216.4" stroke="#8a8a8a" stroke-width="0.6"/>
<circle cx="475.6" cy="202" r="0.85" fill="#333"/>
<ellipse cx="492.2" cy="216.2" rx="6.2" ry="2.0" fill="#111"/>
<path d="M488.8 215.2 Q491 213.7 491.3 211.7 L493.1 211.7 Q493.4 213.7 495.6 215.2Z" fill="#111"/>
<line x1="487.2" y1="216.4" x2="497.2" y2="216.4" stroke="#8a8a8a" stroke-width="0.6"/>
<text x="68" y="160.9" font-size="5.9" text-anchor="middle" font-weight="bold" fill="#1a1a1a" stroke="#1a1a1a" stroke-width="0.15">Ind I</text>
<rect x="36.4" y="181.9" width="15.6" height="52.44" fill="#f1f1f1" stroke="#ababab" stroke-width="0.7"/>
<line x1="36.4" y1="198.93" x2="52" y2="198.93" stroke="#a5a5a5" stroke-width="0.7"/>
<rect x="59.7" y="184.62" width="15.6" height="49.71" fill="#f1f1f1" stroke="#ababab" stroke-width="0.7"/>
<line x1="59.7" y1="204.37" x2="75.3" y2="204.37" stroke="#a5a5a5" stroke-width="0.7"/>
<rect x="83.9" y="207.78" width="15.6" height="41.54" fill="#f1f1f1" stroke="#ababab" stroke-width="0.7"/>
<line x1="83.9" y1="237.06" x2="99.5" y2="237.06" stroke="#a5a5a5" stroke-width="0.7"/>
<line x1="29.3" y1="236.38" x2="107.8" y2="236.38" stroke="#aaa" stroke-width="0.7" stroke-dasharray="1,1"/>
<line x1="28.8" y1="181.6" x2="28.8" y2="257" stroke="#555" stroke-width="1.0"/>
<line x1="27" y1="250" x2="28.8" y2="250" stroke="#555" stroke-width="0.8"/>
<text x="25.2" y="251.6" font-size="4.2" text-anchor="end" font-weight="bold" fill="#222" stroke="#222" stroke-width="0.11">0</text>
<line x1="27" y1="236.38" x2="28.8" y2="236.38" stroke="#555" stroke-width="0.8"/>
<text x="25.2" y="237.98" font-size="4.2" text-anchor="end" font-weight="bold" fill="#222" stroke="#222" stroke-width="0.11">20</text>
<line x1="27" y1="222.76" x2="28.8" y2="222.76" stroke="#555" stroke-width="0.8"/>
<text x="25.2" y="224.36" font-size="4.2" text-anchor="end" font-weight="bold" fill="#222" stroke="#222" stroke-width="0.11">40</text>
<line x1="27" y1="209.14" x2="28.8" y2="209.14" stroke="#555" stroke-width="0.8"/>
<text x="25.2" y="210.74" font-size="4.2" text-anchor="end" font-weight="bold" fill="#222" stroke="#222" stroke-width="0.11">60</text>
<line x1="27" y1="195.52" x2="28.8" y2="195.52" stroke="#555" stroke-width="0.8"/>
<text x="25.2" y="197.12" font-size="4.2" text-anchor="end" font-weight="bold" fill="#222" stroke="#222" stroke-width="0.11">80</text>
<line x1="27" y1="181.9" x2="28.8" y2="181.9" stroke="#555" stroke-width="0.8"/>
<text x="25.2" y="183.5" font-size="4.2" text-anchor="end" font-weight="bold" fill="#222" stroke="#222" stroke-width="0.11">100</text>
<line x1="28.8" y1="256.5" x2="107.8" y2="256.5" stroke="#555" stroke-width="1.0"/>
<line x1="44.2" y1="256.5" x2="44.2" y2="258" stroke="#555" stroke-width="0.8"/>
<line x1="67.7" y1="256.5" x2="67.7" y2="258" stroke="#555" stroke-width="0.8"/>
<line x1="91.5" y1="256.5" x2="91.5" y2="258" stroke="#555" stroke-width="0.8"/>
<circle cx="37.2" cy="181.9" r="1.08" fill="#000"/>
<circle cx="38.4" cy="181.9" r="1.08" fill="#000"/>
<circle cx="39.6" cy="181.9" r="1.08" fill="#000"/>
<circle cx="40.8" cy="181.9" r="1.08" fill="#000"/>
<circle cx="42" cy="181.9" r="1.08" fill="#000"/>
<circle cx="43.2" cy="181.9" r="1.08" fill="#000"/>
<circle cx="44.4" cy="181.9" r="1.08" fill="#000"/>
<circle cx="45.6" cy="181.9" r="1.08" fill="#000"/>
<circle cx="46.8" cy="181.9" r="1.08" fill="#000"/>
<circle cx="48" cy="181.9" r="1.08" fill="#000"/>
<circle cx="49.2" cy="181.9" r="1.08" fill="#000"/>
<circle cx="50.4" cy="181.9" r="1.08" fill="#000"/>
<circle cx="51.3" cy="181.9" r="1.08" fill="#000"/>
<circle cx="42.6" cy="186.5" r="1.08" fill="#000"/>
<circle cx="44.8" cy="188" r="1.08" fill="#000"/>
<circle cx="41.8" cy="185" r="1.08" fill="#000"/>
<circle cx="45.5" cy="186.8" r="1.08" fill="#000"/>
<circle cx="44.2" cy="195.3" r="1.08" fill="#000"/>
<circle cx="43.5" cy="205" r="1.08" fill="#000"/>
<circle cx="44.3" cy="207.3" r="1.08" fill="#000"/>
<circle cx="43.9" cy="212.5" r="1.08" fill="#000"/>
<circle cx="43.3" cy="217" r="1.08" fill="#000"/>
<circle cx="44.3" cy="220.6" r="1.08" fill="#000"/>
<circle cx="43.9" cy="227.2" r="1.08" fill="#000"/>
<circle cx="44.2" cy="233" r="1.08" fill="#000"/>
<circle cx="43.6" cy="235.4" r="1.08" fill="#000"/>
<circle cx="44.4" cy="238" r="1.08" fill="#000"/>
<circle cx="43.9" cy="240.4" r="1.08" fill="#000"/>
<circle cx="43.2" cy="243" r="1.08" fill="#000"/>
<circle cx="44.3" cy="245.3" r="1.08" fill="#000"/>
<circle cx="42" cy="248.4" r="1.08" fill="#000"/>
<circle cx="45.6" cy="248.2" r="1.08" fill="#000"/>
<circle cx="43.9" cy="247" r="1.08" fill="#000"/>
<circle cx="41" cy="250" r="1.08" fill="#000"/>
<circle cx="46.5" cy="249.8" r="1.08" fill="#000"/>
<circle cx="43" cy="250.2" r="1.08" fill="#000"/>
<circle cx="44.8" cy="250" r="1.08" fill="#000"/>
<circle cx="42.5" cy="249.6" r="0.95" fill="#d85050"/>
<circle cx="45.2" cy="249.3" r="0.95" fill="#d85050"/>
<circle cx="40.3" cy="250.2" r="0.95" fill="#d85050"/>
<circle cx="44" cy="245.8" r="0.95" fill="#d85050"/>
<circle cx="60.5" cy="181.9" r="1.08" fill="#000"/>
<circle cx="61.8" cy="181.9" r="1.08" fill="#000"/>
<circle cx="63.3" cy="181.9" r="1.08" fill="#000"/>
<circle cx="64.8" cy="181.9" r="1.08" fill="#000"/>
<circle cx="66.2" cy="181.9" r="1.08" fill="#000"/>
<circle cx="67.6" cy="181.9" r="1.08" fill="#000"/>
<circle cx="69" cy="181.9" r="1.08" fill="#000"/>
<circle cx="70.4" cy="181.9" r="1.08" fill="#000"/>
<circle cx="71.8" cy="181.9" r="1.08" fill="#000"/>
<circle cx="73.2" cy="181.9" r="1.08" fill="#000"/>
<circle cx="74.6" cy="181.9" r="1.08" fill="#000"/>
<circle cx="68" cy="186" r="1.08" fill="#000"/>
<circle cx="67" cy="186.5" r="1.08" fill="#000"/>
<circle cx="69.2" cy="186.2" r="1.08" fill="#000"/>
<circle cx="68" cy="190" r="1.08" fill="#000"/>
<circle cx="67.8" cy="196" r="1.08" fill="#000"/>
<circle cx="68.2" cy="202.5" r="1.08" fill="#000"/>
<circle cx="67.6" cy="207" r="1.08" fill="#000"/>
<circle cx="68.3" cy="210.8" r="1.08" fill="#000"/>
<circle cx="67.8" cy="214" r="1.08" fill="#000"/>
<circle cx="68.1" cy="220" r="1.08" fill="#000"/>
<circle cx="67.5" cy="225" r="1.08" fill="#000"/>
<circle cx="68.3" cy="228" r="1.08" fill="#000"/>
<circle cx="67.8" cy="232" r="1.08" fill="#000"/>
<circle cx="68" cy="236" r="1.08" fill="#000"/>
<circle cx="68.2" cy="240" r="1.08" fill="#000"/>
<circle cx="67.8" cy="243" r="1.08" fill="#000"/>
<circle cx="68" cy="246" r="1.08" fill="#000"/>
<circle cx="65.5" cy="248.6" r="1.08" fill="#000"/>
<circle cx="66.8" cy="250" r="1.08" fill="#000"/>
<circle cx="69.4" cy="249.8" r="1.08" fill="#000"/>
<circle cx="70.6" cy="248.4" r="1.08" fill="#000"/>
<circle cx="68" cy="249" r="1.08" fill="#000"/>
<circle cx="67" cy="250.2" r="0.95" fill="#d85050"/>
<circle cx="69" cy="250.3" r="0.95" fill="#d85050"/>
<circle cx="91.97" cy="181.9" r="1.08" fill="#000"/>
<circle cx="92.12" cy="184" r="1.08" fill="#000"/>
<circle cx="90.49" cy="186.3" r="1.08" fill="#000"/>
<circle cx="92.65" cy="188.6" r="1.08" fill="#000"/>
<circle cx="90.87" cy="190.9" r="1.08" fill="#000"/>
<circle cx="91.86" cy="193.2" r="1.08" fill="#000"/>
<circle cx="90.25" cy="195.5" r="1.08" fill="#000"/>
<circle cx="90.01" cy="197.8" r="1.08" fill="#000"/>
<circle cx="92.89" cy="200.1" r="1.08" fill="#000"/>
<circle cx="92.24" cy="202.4" r="1.08" fill="#000"/>
<circle cx="92.17" cy="204.7" r="1.08" fill="#000"/>
<circle cx="89.75" cy="207" r="1.08" fill="#000"/>
<circle cx="89.74" cy="209.3" r="1.08" fill="#000"/>
<circle cx="90.18" cy="211.6" r="1.08" fill="#000"/>
<circle cx="90.31" cy="213.9" r="1.08" fill="#000"/>
<circle cx="90.69" cy="216.2" r="1.08" fill="#000"/>
<circle cx="90.97" cy="218.5" r="1.08" fill="#000"/>
<circle cx="89.74" cy="220.8" r="1.08" fill="#000"/>
<circle cx="90.72" cy="223.1" r="1.08" fill="#000"/>
<circle cx="91.9" cy="225.4" r="1.08" fill="#000"/>
<circle cx="90.25" cy="227.7" r="1.08" fill="#000"/>
<circle cx="92.62" cy="230" r="1.08" fill="#000"/>
<circle cx="91.65" cy="232.3" r="1.08" fill="#000"/>
<circle cx="92.18" cy="234.6" r="1.08" fill="#000"/>
<circle cx="90.52" cy="236.9" r="1.08" fill="#000"/>
<circle cx="91.17" cy="239.2" r="1.08" fill="#000"/>
<circle cx="92.06" cy="241.5" r="1.08" fill="#000"/>
<circle cx="90.3" cy="243.5" r="1.08" fill="#000"/>
<circle cx="92.3" cy="243.8" r="1.08" fill="#000"/>
<circle cx="89.3" cy="245" r="1.08" fill="#000"/>
<circle cx="91.4" cy="244.8" r="1.08" fill="#000"/>
<circle cx="93.4" cy="245.2" r="1.08" fill="#000"/>
<circle cx="88.5" cy="246.5" r="1.08" fill="#000"/>
<circle cx="90.4" cy="246.6" r="1.08" fill="#000"/>
<circle cx="92.3" cy="246.4" r="1.08" fill="#000"/>
<circle cx="94.3" cy="246.8" r="1.08" fill="#000"/>
<circle cx="89.5" cy="247.8" r="1.08" fill="#000"/>
<circle cx="91.5" cy="248" r="1.08" fill="#000"/>
<circle cx="93.3" cy="247.8" r="1.08" fill="#000"/>
<circle cx="84.5" cy="249.8" r="0.95" fill="#d85050"/>
<circle cx="86.2" cy="249.4" r="0.95" fill="#d85050"/>
<circle cx="87.8" cy="250" r="0.95" fill="#d85050"/>
<circle cx="89.5" cy="249.6" r="0.95" fill="#d85050"/>
<circle cx="91.2" cy="250.1" r="0.95" fill="#d85050"/>
<circle cx="93" cy="249.7" r="0.95" fill="#d85050"/>
<circle cx="94.7" cy="249.9" r="0.95" fill="#d85050"/>
<circle cx="96.4" cy="249.5" r="0.95" fill="#d85050"/>
<circle cx="98.2" cy="250" r="0.95" fill="#d85050"/>
<circle cx="92" cy="248.8" r="0.95" fill="#d85050"/>
<circle cx="88.2" cy="248.6" r="0.95" fill="#d85050"/>
<circle cx="95.5" cy="248.6" r="0.95" fill="#d85050"/>
<circle cx="91.2" cy="238.5" r="0.95" fill="#d85050"/>
<circle cx="90.6" cy="235" r="0.95" fill="#d85050"/>
<circle cx="92" cy="233.5" r="0.95" fill="#d85050"/>
<text x="44.2" y="264.3" font-size="4.1" text-anchor="middle" font-weight="bold" fill="#222" stroke="#222" stroke-width="0.1">MolCR</text>
<text x="67.7" y="264.3" font-size="4.1" text-anchor="middle" font-weight="bold" fill="#222" stroke="#222" stroke-width="0.1">MolR</text>
<text x="91.5" y="264.3" font-size="4.1" text-anchor="middle" font-weight="bold" fill="#222" stroke="#222" stroke-width="0.1">MolFail</text>
<text x="67.8" y="271.4" font-size="4.45" text-anchor="middle" font-weight="bold"><tspan fill="#d42a2a">pro-B</tspan><tspan fill="#222">/c-/pre-B ALL</tspan></text>
<text x="14.9" y="219.5" font-size="4.7" text-anchor="middle" font-weight="bold" fill="#000" transform="rotate(-90 14.9 219.5)" textLength="79.5" lengthAdjust="spacingAndGlyphs" stroke="#000" stroke-width="0.12">% CD20+ blasts/all blasts at diagnosis</text>
<circle cx="61.6" cy="170" r="1.1" fill="#111"/>
<circle cx="65.4" cy="170" r="1.1" fill="#111"/>
<circle cx="69.2" cy="170" r="1.1" fill="#111"/>
<circle cx="73" cy="170" r="1.1" fill="#111"/>
<line x1="44.6" y1="173.2" x2="88.4" y2="173.2" stroke="#777" stroke-width="0.6"/>
<text x="55" y="178.2" font-size="4.7" text-anchor="middle" font-weight="bold" fill="#333" stroke="#333" stroke-width="0.12">ns</text>
<circle cx="75.7" cy="177.3" r="1.1" fill="#111"/>
<circle cx="79.2" cy="177.3" r="1.1" fill="#111"/>
<circle cx="82.7" cy="177.3" r="1.1" fill="#111"/>
<line x1="45" y1="180.6" x2="66" y2="180.6" stroke="#888" stroke-width="0.6"/>
<line x1="70" y1="180.6" x2="89.6" y2="180.6" stroke="#888" stroke-width="0.6"/>
<text x="177.5" y="160.9" font-size="5.9" text-anchor="middle" font-weight="bold" fill="#1a1a1a" stroke="#1a1a1a" stroke-width="0.15">Cons I</text>
<rect x="146.8" y="185.31" width="15.6" height="56.52" fill="#f1f1f1" stroke="#ababab" stroke-width="0.7"/>
<line x1="146.8" y1="209.14" x2="162.4" y2="209.14" stroke="#a5a5a5" stroke-width="0.7"/>
<rect x="170.1" y="210.5" width="15.6" height="36.09" fill="#f1f1f1" stroke="#ababab" stroke-width="0.7"/>
<rect x="193.7" y="212.55" width="15.6" height="37.45" fill="#f1f1f1" stroke="#ababab" stroke-width="0.7"/>
<line x1="193.7" y1="237.74" x2="209.3" y2="237.74" stroke="#a5a5a5" stroke-width="0.7"/>
<line x1="139.3" y1="236.38" x2="217.8" y2="236.38" stroke="#aaa" stroke-width="0.7" stroke-dasharray="1,1"/>
<line x1="138.8" y1="181.6" x2="138.8" y2="257" stroke="#555" stroke-width="1.0"/>
<line x1="137" y1="250" x2="138.8" y2="250" stroke="#555" stroke-width="0.8"/>
<text x="135.2" y="251.6" font-size="4.2" text-anchor="end" font-weight="bold" fill="#222" stroke="#222" stroke-width="0.11">0</text>
<line x1="137" y1="236.38" x2="138.8" y2="236.38" stroke="#555" stroke-width="0.8"/>
<text x="135.2" y="237.98" font-size="4.2" text-anchor="end" font-weight="bold" fill="#222" stroke="#222" stroke-width="0.11">20</text>
<line x1="137" y1="222.76" x2="138.8" y2="222.76" stroke="#555" stroke-width="0.8"/>
<text x="135.2" y="224.36" font-size="4.2" text-anchor="end" font-weight="bold" fill="#222" stroke="#222" stroke-width="0.11">40</text>
<line x1="137" y1="209.14" x2="138.8" y2="209.14" stroke="#555" stroke-width="0.8"/>
<text x="135.2" y="210.74" font-size="4.2" text-anchor="end" font-weight="bold" fill="#222" stroke="#222" stroke-width="0.11">60</text>
<line x1="137" y1="195.52" x2="138.8" y2="195.52" stroke="#555" stroke-width="0.8"/>
<text x="135.2" y="197.12" font-size="4.2" text-anchor="end" font-weight="bold" fill="#222" stroke="#222" stroke-width="0.11">80</text>
<line x1="137" y1="181.9" x2="138.8" y2="181.9" stroke="#555" stroke-width="0.8"/>
<text x="135.2" y="183.5" font-size="4.2" text-anchor="end" font-weight="bold" fill="#222" stroke="#222" stroke-width="0.11">100</text>
<line x1="138.8" y1="256.5" x2="217.8" y2="256.5" stroke="#555" stroke-width="1.0"/>
<line x1="154.6" y1="256.5" x2="154.6" y2="258" stroke="#555" stroke-width="0.8"/>
<line x1="177.9" y1="256.5" x2="177.9" y2="258" stroke="#555" stroke-width="0.8"/>
<line x1="201.5" y1="256.5" x2="201.5" y2="258" stroke="#555" stroke-width="0.8"/>
<circle cx="146.8" cy="181.9" r="1.08" fill="#000"/>
<circle cx="147.9" cy="181.9" r="1.08" fill="#000"/>
<circle cx="149" cy="181.9" r="1.08" fill="#000"/>
<circle cx="150.1" cy="181.9" r="1.08" fill="#000"/>
<circle cx="151.2" cy="181.9" r="1.08" fill="#000"/>
<circle cx="152.3" cy="181.9" r="1.08" fill="#000"/>
<circle cx="153.4" cy="181.9" r="1.08" fill="#000"/>
<circle cx="154.5" cy="181.9" r="1.08" fill="#000"/>
<circle cx="155.6" cy="181.9" r="1.08" fill="#000"/>
<circle cx="156.7" cy="181.9" r="1.08" fill="#000"/>
<circle cx="157.8" cy="181.9" r="1.08" fill="#000"/>
<circle cx="158.9" cy="181.9" r="1.08" fill="#000"/>
<circle cx="160" cy="181.9" r="1.08" fill="#000"/>
<circle cx="161.1" cy="181.9" r="1.08" fill="#000"/>
<circle cx="162.2" cy="181.9" r="1.08" fill="#000"/>
<circle cx="153.2" cy="183.5" r="1.08" fill="#000"/>
<circle cx="151.8" cy="184.8" r="1.08" fill="#000"/>
<circle cx="155.14" cy="186" r="1.08" fill="#000"/>
<circle cx="154.91" cy="187.3" r="1.08" fill="#000"/>
<circle cx="152.95" cy="188.5" r="1.08" fill="#000"/>
<circle cx="151.97" cy="189.8" r="1.08" fill="#000"/>
<circle cx="155.22" cy="191" r="1.08" fill="#000"/>
<circle cx="154.23" cy="192.3" r="1.08" fill="#000"/>
<circle cx="151.99" cy="193.5" r="1.08" fill="#000"/>
<circle cx="152.78" cy="194.8" r="1.08" fill="#000"/>
<circle cx="152.24" cy="196" r="1.08" fill="#000"/>
<circle cx="154.97" cy="197.5" r="1.08" fill="#000"/>
<circle cx="152.64" cy="199" r="1.08" fill="#000"/>
<circle cx="155.46" cy="200.5" r="1.08" fill="#000"/>
<circle cx="154.8" cy="202.5" r="1.08" fill="#000"/>
<circle cx="152.14" cy="204.5" r="1.08" fill="#000"/>
<circle cx="154.58" cy="206.5" r="1.08" fill="#000"/>
<circle cx="153.37" cy="208.7" r="1.08" fill="#000"/>
<circle cx="154.79" cy="211" r="1.08" fill="#000"/>
<circle cx="155.11" cy="213" r="1.08" fill="#000"/>
<circle cx="152.92" cy="215.5" r="1.08" fill="#000"/>
<circle cx="152.16" cy="218" r="1.08" fill="#000"/>
<circle cx="155.59" cy="220.5" r="1.08" fill="#000"/>
<circle cx="153.5" cy="223" r="1.08" fill="#000"/>
<circle cx="155.52" cy="226" r="1.08" fill="#000"/>
<circle cx="154.57" cy="229" r="1.08" fill="#000"/>
<circle cx="154.75" cy="232" r="1.08" fill="#000"/>
<circle cx="155.12" cy="234.5" r="1.08" fill="#000"/>
<circle cx="154.31" cy="237" r="1.08" fill="#000"/>
<circle cx="153.61" cy="239.5" r="1.08" fill="#000"/>
<circle cx="152.02" cy="242" r="1.08" fill="#000"/>
<circle cx="150" cy="184" r="1.08" fill="#000"/>
<circle cx="156.5" cy="184.2" r="1.08" fill="#000"/>
<circle cx="151.5" cy="186.5" r="1.08" fill="#000"/>
<circle cx="155.5" cy="187" r="1.08" fill="#000"/>
<circle cx="152" cy="190" r="1.08" fill="#000"/>
<circle cx="155" cy="191" r="1.08" fill="#000"/>
<circle cx="154.8" cy="196" r="1.08" fill="#000"/>
<circle cx="152.2" cy="199" r="1.08" fill="#000"/>
<circle cx="149.5" cy="248.3" r="1.08" fill="#000"/>
<circle cx="151.5" cy="247" r="1.08" fill="#000"/>
<circle cx="153.2" cy="246" r="1.08" fill="#000"/>
<circle cx="155.2" cy="247.2" r="1.08" fill="#000"/>
<circle cx="157" cy="248.4" r="1.08" fill="#000"/>
<circle cx="148.5" cy="249.8" r="1.08" fill="#000"/>
<circle cx="150.5" cy="250" r="1.08" fill="#000"/>
<circle cx="152.4" cy="249.6" r="1.08" fill="#000"/>
<circle cx="154.3" cy="249.9" r="1.08" fill="#000"/>
<circle cx="156.2" cy="249.6" r="1.08" fill="#000"/>
<circle cx="158.2" cy="250" r="1.08" fill="#000"/>
<circle cx="153.4" cy="244.5" r="1.08" fill="#000"/>
<circle cx="152.6" cy="242.5" r="1.08" fill="#000"/>
<circle cx="147.5" cy="250.2" r="0.95" fill="#d85050"/>
<circle cx="151.5" cy="250.3" r="0.95" fill="#d85050"/>
<circle cx="155.5" cy="250.4" r="0.95" fill="#d85050"/>
<circle cx="159.4" cy="250.2" r="0.95" fill="#d85050"/>
<circle cx="153.4" cy="238" r="0.95" fill="#d85050"/>
<circle cx="152.8" cy="235.5" r="0.95" fill="#d85050"/>
<circle cx="154" cy="232.5" r="0.95" fill="#d85050"/>
<circle cx="177.8" cy="184.5" r="1.08" fill="#000"/>
<circle cx="177.8" cy="205.5" r="1.08" fill="#000"/>
<circle cx="175.8" cy="214.6" r="1.08" fill="#000"/>
<circle cx="179.5" cy="214.6" r="1.08" fill="#000"/>
<circle cx="172.5" cy="247.5" r="1.08" fill="#000"/>
<circle cx="174.5" cy="246" r="1.08" fill="#000"/>
<circle cx="176.5" cy="247.8" r="1.08" fill="#000"/>
<circle cx="178.5" cy="246.2" r="1.08" fill="#000"/>
<circle cx="180.5" cy="247.6" r="1.08" fill="#000"/>
<circle cx="182.5" cy="246.8" r="1.08" fill="#000"/>
<circle cx="177.5" cy="249.5" r="1.08" fill="#000"/>
<circle cx="175.5" cy="250" r="1.08" fill="#000"/>
<circle cx="173.5" cy="249.8" r="0.95" fill="#d85050"/>
<circle cx="179.5" cy="250" r="0.95" fill="#d85050"/>
<circle cx="183.5" cy="249.6" r="0.95" fill="#d85050"/>
<circle cx="201.2" cy="187.5" r="1.08" fill="#000"/>
<circle cx="201.4" cy="189.8" r="1.08" fill="#000"/>
<circle cx="201.2" cy="199" r="1.08" fill="#000"/>
<circle cx="201.5" cy="203" r="1.08" fill="#000"/>
<circle cx="201.2" cy="207" r="1.08" fill="#000"/>
<circle cx="200" cy="212" r="1.08" fill="#000"/>
<circle cx="201" cy="219" r="1.08" fill="#000"/>
<circle cx="201.5" cy="224" r="1.08" fill="#000"/>
<circle cx="201.2" cy="228" r="1.08" fill="#000"/>
<circle cx="200.5" cy="232" r="1.08" fill="#000"/>
<circle cx="201.8" cy="234.5" r="1.08" fill="#000"/>
<circle cx="200.8" cy="237" r="1.08" fill="#000"/>
<circle cx="201.3" cy="241" r="1.08" fill="#000"/>
<circle cx="199.5" cy="246.5" r="1.08" fill="#000"/>
<circle cx="201.5" cy="245.8" r="1.08" fill="#000"/>
<circle cx="203.3" cy="246.8" r="1.08" fill="#000"/>
<circle cx="205.5" cy="248.2" r="1.08" fill="#000"/>
<circle cx="197.5" cy="248.4" r="1.08" fill="#000"/>
<circle cx="194.5" cy="249.8" r="0.95" fill="#d85050"/>
<circle cx="196.5" cy="250.2" r="0.95" fill="#d85050"/>
<circle cx="198.5" cy="249.6" r="0.95" fill="#d85050"/>
<circle cx="200.5" cy="250.2" r="0.95" fill="#d85050"/>
<circle cx="202.5" cy="249.7" r="0.95" fill="#d85050"/>
<circle cx="204.5" cy="250.2" r="0.95" fill="#d85050"/>
<circle cx="206.5" cy="249.8" r="0.95" fill="#d85050"/>
<circle cx="208.5" cy="250.1" r="0.95" fill="#d85050"/>
<circle cx="200.2" cy="238.5" r="0.95" fill="#d85050"/>
<circle cx="202" cy="236" r="0.95" fill="#d85050"/>
<circle cx="201.5" cy="230" r="0.95" fill="#d85050"/>
<text x="154.6" y="264.3" font-size="4.1" text-anchor="middle" font-weight="bold" fill="#222" stroke="#222" stroke-width="0.1">MolCR</text>
<text x="177.9" y="264.3" font-size="4.1" text-anchor="middle" font-weight="bold" fill="#222" stroke="#222" stroke-width="0.1">MolR</text>
<text x="201.5" y="264.3" font-size="4.1" text-anchor="middle" font-weight="bold" fill="#222" stroke="#222" stroke-width="0.1">MolFail</text>
<text x="177.8" y="271.4" font-size="4.45" text-anchor="middle" font-weight="bold"><tspan fill="#d42a2a">pro-B</tspan><tspan fill="#222">/c-/pre-B ALL</tspan></text>
<text x="124.9" y="219.5" font-size="4.7" text-anchor="middle" font-weight="bold" fill="#000" transform="rotate(-90 124.9 219.5)" textLength="79.5" lengthAdjust="spacingAndGlyphs" stroke="#000" stroke-width="0.12">% CD20+ blasts/all blasts at diagnosis</text>
<line x1="177.8" y1="184.5" x2="177.8" y2="210.5" stroke="#222" stroke-width="0.6"/>
<line x1="174.3" y1="184.5" x2="181.3" y2="184.5" stroke="#222" stroke-width="0.6"/>
<line x1="201.2" y1="187.1" x2="201.2" y2="212.55" stroke="#222" stroke-width="0.6"/>
<line x1="198.2" y1="187.1" x2="204.2" y2="187.1" stroke="#222" stroke-width="0.6"/>
<circle cx="173.2" cy="170" r="1.1" fill="#111"/>
<circle cx="177" cy="170" r="1.1" fill="#111"/>
<circle cx="180.8" cy="170" r="1.1" fill="#111"/>
<line x1="155.5" y1="173.2" x2="198.8" y2="173.2" stroke="#777" stroke-width="0.6"/>
<circle cx="164.5" cy="177.3" r="1.1" fill="#111"/>
<line x1="155.5" y1="180.8" x2="175.5" y2="180.8" stroke="#888" stroke-width="0.6"/>
<text x="188.8" y="178.2" font-size="4.7" text-anchor="middle" font-weight="bold" fill="#333" stroke="#333" stroke-width="0.12">ns</text>
<line x1="180" y1="180.8" x2="198.8" y2="180.8" stroke="#888" stroke-width="0.6"/>
</g>
</svg>
</body></html>
